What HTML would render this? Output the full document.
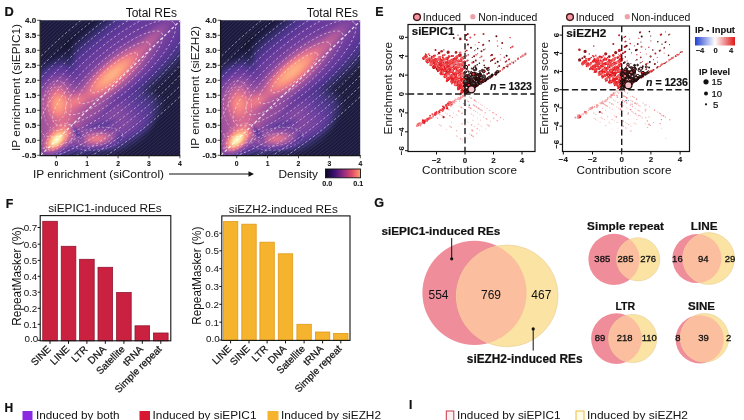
<!DOCTYPE html>
<html lang="en"><head><meta charset="utf-8"><title>Figure panels D-I</title>
<style>html,body{margin:0;padding:0;background:#fff;overflow:hidden}svg{display:block}text{font-family:'Liberation Sans', sans-serif;fill:#111}</style>
</head><body>
<svg width="744" height="420" viewBox="0 0 744 420">
<rect width="744" height="420" fill="#fff"/>
<defs>
<filter id="magma" x="0" y="0" width="1" height="1" color-interpolation-filters="sRGB"><feComponentTransfer><feFuncR type="table" tableValues="0.013 0.090 0.190 0.300 0.385 0.463 0.558 0.655 0.752 0.849 0.927 0.970 0.990 0.997 0.997 0.992 0.987"/><feFuncG type="table" tableValues="0.014 0.090 0.165 0.206 0.223 0.255 0.298 0.339 0.379 0.426 0.483 0.558 0.629 0.706 0.793 0.890 0.991"/><feFuncB type="table" tableValues="0.034 0.211 0.391 0.550 0.609 0.624 0.626 0.619 0.601 0.571 0.535 0.514 0.506 0.529 0.582 0.658 0.750"/></feComponentTransfer></filter>
<radialGradient id="gs"><stop offset="0.00" stop-color="#fff" stop-opacity="1.000"/><stop offset="0.10" stop-color="#fff" stop-opacity="0.956"/><stop offset="0.20" stop-color="#fff" stop-opacity="0.835"/><stop offset="0.30" stop-color="#fff" stop-opacity="0.667"/><stop offset="0.40" stop-color="#fff" stop-opacity="0.487"/><stop offset="0.50" stop-color="#fff" stop-opacity="0.325"/><stop offset="0.60" stop-color="#fff" stop-opacity="0.198"/><stop offset="0.70" stop-color="#fff" stop-opacity="0.110"/><stop offset="0.80" stop-color="#fff" stop-opacity="0.056"/><stop offset="0.90" stop-color="#fff" stop-opacity="0.026"/><stop offset="1.00" stop-color="#fff" stop-opacity="0.000"/></radialGradient>
<radialGradient id="gd"><stop offset="0.00" stop-color="#000" stop-opacity="1.000"/><stop offset="0.10" stop-color="#000" stop-opacity="0.956"/><stop offset="0.20" stop-color="#000" stop-opacity="0.835"/><stop offset="0.30" stop-color="#000" stop-opacity="0.667"/><stop offset="0.40" stop-color="#000" stop-opacity="0.487"/><stop offset="0.50" stop-color="#000" stop-opacity="0.325"/><stop offset="0.60" stop-color="#000" stop-opacity="0.198"/><stop offset="0.70" stop-color="#000" stop-opacity="0.110"/><stop offset="0.80" stop-color="#000" stop-opacity="0.056"/><stop offset="0.90" stop-color="#000" stop-opacity="0.026"/><stop offset="1.00" stop-color="#000" stop-opacity="0.000"/></radialGradient>
<radialGradient id="gb"><stop offset="0.00" stop-color="#fff" stop-opacity="1"/><stop offset="0.45" stop-color="#fff" stop-opacity="0.92"/><stop offset="0.60" stop-color="#fff" stop-opacity="0.72"/><stop offset="0.75" stop-color="#fff" stop-opacity="0.42"/><stop offset="0.88" stop-color="#fff" stop-opacity="0.16"/><stop offset="1.00" stop-color="#fff" stop-opacity="0"/></radialGradient>
<linearGradient id="cbm"><stop offset="0" stop-color="#0a0722"/><stop offset=".25" stop-color="#3b0f70"/><stop offset=".5" stop-color="#8c2981"/><stop offset=".75" stop-color="#de4968"/><stop offset="1" stop-color="#fe9f6d"/></linearGradient>
<linearGradient id="cbr"><stop offset="0" stop-color="#2040d0"/><stop offset=".5" stop-color="#ffffff"/><stop offset="1" stop-color="#e01818"/></linearGradient>
<clipPath id="cd1"><rect x="40.6" y="20.3" width="139.6" height="135"/></clipPath>
<clipPath id="cd2"><rect x="221" y="20.3" width="139.2" height="135"/></clipPath>
<clipPath id="ce1"><rect x="408" y="24.5" width="127" height="127"/></clipPath>
<clipPath id="ce2"><rect x="562.5" y="26" width="127" height="125.5"/></clipPath>
</defs>
<text x="4.60" y="16.10" font-size="12.8" font-weight="bold" stroke="#111" stroke-width="0.20">D</text>
<text x="375.20" y="15.70" font-size="12.4" font-weight="bold" stroke="#111" stroke-width="0.20">E</text>
<text x="5.70" y="207.50" font-size="12.4" font-weight="bold" stroke="#111" stroke-width="0.20">F</text>
<text x="374.30" y="207.30" font-size="12.6" font-weight="bold" stroke="#111" stroke-width="0.20">G</text>
<text x="4.50" y="412.00" font-size="12" font-weight="bold" stroke="#111" stroke-width="0.19">H</text>
<text x="409.00" y="408.80" font-size="12" font-weight="bold" stroke="#111" stroke-width="0.19">I</text>
<g clip-path="url(#cd1)">
<g filter="url(#magma)">
<rect x="38.6" y="18.3" width="146" height="141" fill="#131313"/>
<ellipse cx="113.1" cy="65.8" rx="210" ry="46" transform="rotate(-40 113.1 65.8)" fill="url(#gb)" opacity="0.22"/>
<ellipse cx="97.1" cy="127.8" rx="60" ry="32" transform="rotate(-10 97.1 127.8)" fill="url(#gb)" opacity="0.2"/>
<ellipse cx="53.1" cy="111.8" rx="34" ry="55" transform="rotate(0 53.1 111.8)" fill="url(#gb)" opacity="0.22"/>
<ellipse cx="134.1" cy="113.8" rx="34" ry="24" transform="rotate(-35 134.1 113.8)" fill="url(#gb)" opacity="0.13"/>
<ellipse cx="113.1" cy="75.8" rx="85" ry="32" transform="rotate(-40 113.1 75.8)" fill="url(#gs)" opacity="0.42"/>
<ellipse cx="112.1" cy="74.3" rx="66" ry="19" transform="rotate(-40 112.1 74.3)" fill="url(#gs)" opacity="0.55"/>
<ellipse cx="153.1" cy="37.8" rx="46" ry="15" transform="rotate(-44 153.1 37.8)" fill="url(#gs)" opacity="0.2"/>
<ellipse cx="56.7" cy="139.8" rx="28" ry="15.5" transform="rotate(-44 56.7 139.8)" fill="url(#gs)" opacity="0.95"/>
<ellipse cx="56.7" cy="139.8" rx="14" ry="8" transform="rotate(-44 56.7 139.8)" fill="url(#gs)" opacity="0.75"/>
<ellipse cx="58.1" cy="103.8" rx="22" ry="32" transform="rotate(0 58.1 103.8)" fill="url(#gs)" opacity="0.58"/>
<ellipse cx="77.1" cy="100.8" rx="22" ry="14" transform="rotate(-25 77.1 100.8)" fill="url(#gs)" opacity="0.3"/>
<ellipse cx="97.1" cy="138.8" rx="34" ry="15" transform="rotate(-8 97.1 138.8)" fill="url(#gs)" opacity="0.5"/>
<ellipse cx="69.1" cy="55.8" rx="13" ry="36" transform="rotate(-8 69.1 55.8)" fill="url(#gd)" opacity="0.3"/>
<ellipse cx="77.1" cy="132.8" rx="6" ry="18" transform="rotate(-35 77.1 132.8)" fill="url(#gd)" opacity="0.4"/>
<ellipse cx="97.1" cy="151.8" rx="30" ry="5" transform="rotate(0 97.1 151.8)" fill="url(#gd)" opacity="0.25"/>
<ellipse cx="119.1" cy="137.8" rx="5" ry="12" transform="rotate(10 119.1 137.8)" fill="url(#gd)" opacity="0.25"/>
<ellipse cx="105.1" cy="111.8" rx="40" ry="7" transform="rotate(-44 105.1 111.8)" fill="url(#gd)" opacity="0.12"/>
<ellipse cx="100.1" cy="124.8" rx="26" ry="5" transform="rotate(-12 100.1 124.8)" fill="url(#gd)" opacity="0.25"/>
</g>
<ellipse cx="108.1" cy="60.8" rx="118.8" ry="44.0" transform="rotate(-40 108.1 60.8)" fill="none" stroke="#dde" stroke-opacity=".17" stroke-width=".6"/>
<ellipse cx="108.1" cy="60.8" rx="125.8" ry="46.6" transform="rotate(-40 108.1 60.8)" fill="none" stroke="#dde" stroke-opacity=".17" stroke-width=".6"/>
<ellipse cx="108.1" cy="60.8" rx="132.8" ry="49.2" transform="rotate(-40 108.1 60.8)" fill="none" stroke="#dde" stroke-opacity=".17" stroke-width=".6"/>
<ellipse cx="108.1" cy="60.8" rx="139.9" ry="51.8" transform="rotate(-40 108.1 60.8)" fill="none" stroke="#dde" stroke-opacity=".17" stroke-width=".6"/>
<ellipse cx="108.1" cy="60.8" rx="146.9" ry="54.4" transform="rotate(-40 108.1 60.8)" fill="none" stroke="#dde" stroke-opacity=".17" stroke-width=".6"/>
<ellipse cx="108.1" cy="60.8" rx="153.9" ry="57.0" transform="rotate(-40 108.1 60.8)" fill="none" stroke="#dde" stroke-opacity=".17" stroke-width=".6"/>
<ellipse cx="108.1" cy="60.8" rx="160.9" ry="59.6" transform="rotate(-40 108.1 60.8)" fill="none" stroke="#dde" stroke-opacity=".17" stroke-width=".6"/>
<ellipse cx="108.1" cy="60.8" rx="167.9" ry="62.2" transform="rotate(-40 108.1 60.8)" fill="none" stroke="#dde" stroke-opacity=".17" stroke-width=".6"/>
<ellipse cx="108.1" cy="60.8" rx="175.0" ry="64.8" transform="rotate(-40 108.1 60.8)" fill="none" stroke="#dde" stroke-opacity=".17" stroke-width=".6"/>
<ellipse cx="108.1" cy="60.8" rx="182.0" ry="67.4" transform="rotate(-40 108.1 60.8)" fill="none" stroke="#dde" stroke-opacity=".17" stroke-width=".6"/>
<ellipse cx="108.1" cy="60.8" rx="189.0" ry="70.0" transform="rotate(-40 108.1 60.8)" fill="none" stroke="#dde" stroke-opacity=".17" stroke-width=".6"/>
<ellipse cx="108.1" cy="60.8" rx="196.0" ry="72.6" transform="rotate(-40 108.1 60.8)" fill="none" stroke="#dde" stroke-opacity=".17" stroke-width=".6"/>
<ellipse cx="108.1" cy="60.8" rx="203.0" ry="75.2" transform="rotate(-40 108.1 60.8)" fill="none" stroke="#dde" stroke-opacity=".17" stroke-width=".6"/>
<ellipse cx="108.1" cy="60.8" rx="210.1" ry="77.8" transform="rotate(-40 108.1 60.8)" fill="none" stroke="#dde" stroke-opacity=".17" stroke-width=".6"/>
<ellipse cx="108.1" cy="60.8" rx="217.1" ry="80.4" transform="rotate(-40 108.1 60.8)" fill="none" stroke="#dde" stroke-opacity=".17" stroke-width=".6"/>
<ellipse cx="108.1" cy="60.8" rx="224.1" ry="83.0" transform="rotate(-40 108.1 60.8)" fill="none" stroke="#dde" stroke-opacity=".17" stroke-width=".6"/>
<ellipse cx="108.1" cy="60.8" rx="231.1" ry="85.6" transform="rotate(-40 108.1 60.8)" fill="none" stroke="#dde" stroke-opacity=".17" stroke-width=".6"/>
<ellipse cx="108.1" cy="60.8" rx="238.1" ry="88.2" transform="rotate(-40 108.1 60.8)" fill="none" stroke="#dde" stroke-opacity=".17" stroke-width=".6"/>
<ellipse cx="108.1" cy="60.8" rx="245.2" ry="90.8" transform="rotate(-40 108.1 60.8)" fill="none" stroke="#dde" stroke-opacity=".17" stroke-width=".6"/>
<ellipse cx="108.1" cy="60.8" rx="252.2" ry="93.4" transform="rotate(-40 108.1 60.8)" fill="none" stroke="#dde" stroke-opacity=".17" stroke-width=".6"/>
<ellipse cx="108.1" cy="60.8" rx="259.2" ry="96.0" transform="rotate(-40 108.1 60.8)" fill="none" stroke="#dde" stroke-opacity=".17" stroke-width=".6"/>
<ellipse cx="108.1" cy="60.8" rx="266.2" ry="98.6" transform="rotate(-40 108.1 60.8)" fill="none" stroke="#dde" stroke-opacity=".17" stroke-width=".6"/>
<ellipse cx="108.1" cy="60.8" rx="273.2" ry="101.2" transform="rotate(-40 108.1 60.8)" fill="none" stroke="#dde" stroke-opacity=".17" stroke-width=".6"/>
<ellipse cx="108.1" cy="60.8" rx="280.3" ry="103.8" transform="rotate(-40 108.1 60.8)" fill="none" stroke="#dde" stroke-opacity=".17" stroke-width=".6"/>
<ellipse cx="108.1" cy="60.8" rx="287.3" ry="106.4" transform="rotate(-40 108.1 60.8)" fill="none" stroke="#dde" stroke-opacity=".17" stroke-width=".6"/>
<ellipse cx="108.1" cy="60.8" rx="294.3" ry="109.0" transform="rotate(-40 108.1 60.8)" fill="none" stroke="#dde" stroke-opacity=".17" stroke-width=".6"/>
<ellipse cx="108.1" cy="60.8" rx="301.3" ry="111.6" transform="rotate(-40 108.1 60.8)" fill="none" stroke="#dde" stroke-opacity=".17" stroke-width=".6"/>
<ellipse cx="108.1" cy="60.8" rx="308.3" ry="114.2" transform="rotate(-40 108.1 60.8)" fill="none" stroke="#dde" stroke-opacity=".17" stroke-width=".6"/>
<ellipse cx="108.1" cy="60.8" rx="315.4" ry="116.8" transform="rotate(-40 108.1 60.8)" fill="none" stroke="#dde" stroke-opacity=".17" stroke-width=".6"/>
<ellipse cx="108.1" cy="60.8" rx="322.4" ry="119.4" transform="rotate(-40 108.1 60.8)" fill="none" stroke="#dde" stroke-opacity=".17" stroke-width=".6"/>
<ellipse cx="108.1" cy="60.8" rx="329.4" ry="122.0" transform="rotate(-40 108.1 60.8)" fill="none" stroke="#dde" stroke-opacity=".17" stroke-width=".6"/>
<ellipse cx="108.1" cy="60.8" rx="336.4" ry="124.6" transform="rotate(-40 108.1 60.8)" fill="none" stroke="#dde" stroke-opacity=".17" stroke-width=".6"/>
<ellipse cx="108.1" cy="60.8" rx="343.4" ry="127.2" transform="rotate(-40 108.1 60.8)" fill="none" stroke="#dde" stroke-opacity=".17" stroke-width=".6"/>
<ellipse cx="108.1" cy="60.8" rx="350.5" ry="129.8" transform="rotate(-40 108.1 60.8)" fill="none" stroke="#dde" stroke-opacity=".17" stroke-width=".6"/>
<ellipse cx="114.1" cy="72.8" rx="30" ry="7" transform="rotate(-40 114.1 72.8)" fill="none" stroke="#fff" stroke-opacity=".55" stroke-width=".9" stroke-dasharray="2.4 2.2"/>
<ellipse cx="114.1" cy="72.8" rx="46" ry="11.5" transform="rotate(-40 114.1 72.8)" fill="none" stroke="#fff" stroke-opacity=".55" stroke-width=".9" stroke-dasharray="2.4 2.2"/>
<ellipse cx="114.1" cy="72.8" rx="62" ry="16.5" transform="rotate(-40 114.1 72.8)" fill="none" stroke="#fff" stroke-opacity=".55" stroke-width=".9" stroke-dasharray="2.4 2.2"/>
<ellipse cx="114.1" cy="72.8" rx="78" ry="22" transform="rotate(-40 114.1 72.8)" fill="none" stroke="#fff" stroke-opacity=".55" stroke-width=".9" stroke-dasharray="2.4 2.2"/>
<ellipse cx="114.1" cy="72.8" rx="94" ry="28" transform="rotate(-40 114.1 72.8)" fill="none" stroke="#fff" stroke-opacity=".55" stroke-width=".9" stroke-dasharray="2.4 2.2"/>
<ellipse cx="114.1" cy="72.8" rx="110" ry="34" transform="rotate(-40 114.1 72.8)" fill="none" stroke="#fff" stroke-opacity=".55" stroke-width=".9" stroke-dasharray="2.4 2.2"/>
<ellipse cx="114.1" cy="72.8" rx="128" ry="40.5" transform="rotate(-40 114.1 72.8)" fill="none" stroke="#fff" stroke-opacity=".55" stroke-width=".9" stroke-dasharray="2.4 2.2"/>
<ellipse cx="114.1" cy="72.8" rx="148" ry="47" transform="rotate(-40 114.1 72.8)" fill="none" stroke="#fff" stroke-opacity=".55" stroke-width=".9" stroke-dasharray="2.4 2.2"/>
<ellipse cx="114.1" cy="72.8" rx="170" ry="54" transform="rotate(-40 114.1 72.8)" fill="none" stroke="#fff" stroke-opacity=".55" stroke-width=".9" stroke-dasharray="2.4 2.2"/>
<ellipse cx="114.1" cy="72.8" rx="194" ry="61.5" transform="rotate(-40 114.1 72.8)" fill="none" stroke="#fff" stroke-opacity=".55" stroke-width=".9" stroke-dasharray="2.4 2.2"/>
<line x1="40.6" y1="155.3" x2="180.6" y2="20.3" stroke="#fff" stroke-opacity=".85" stroke-width="1.2" stroke-dasharray="3 2.2"/>
<ellipse cx="56.7" cy="139.8" rx="13" ry="7.5" transform="rotate(-44 56.7 139.8)" fill="none" stroke="#fff" stroke-opacity=".5" stroke-width=".7" stroke-dasharray="2.2 2"/>
<ellipse cx="56.7" cy="139.8" rx="20" ry="11.5" transform="rotate(-44 56.7 139.8)" fill="none" stroke="#fff" stroke-opacity=".5" stroke-width=".7" stroke-dasharray="2.2 2"/>
<ellipse cx="57.1" cy="103.8" rx="9" ry="17" transform="rotate(0 57.1 103.8)" fill="none" stroke="#fff" stroke-opacity=".5" stroke-width=".7" stroke-dasharray="2.2 2"/>
<ellipse cx="57.1" cy="105.8" rx="14" ry="25" transform="rotate(0 57.1 105.8)" fill="none" stroke="#fff" stroke-opacity=".5" stroke-width=".7" stroke-dasharray="2.2 2"/>
<ellipse cx="95.1" cy="139.8" rx="17" ry="6" transform="rotate(-8 95.1 139.8)" fill="none" stroke="#fff" stroke-opacity=".5" stroke-width=".7" stroke-dasharray="2.2 2"/>
<ellipse cx="97.1" cy="138.8" rx="26" ry="11" transform="rotate(-8 97.1 138.8)" fill="none" stroke="#fff" stroke-opacity=".5" stroke-width=".7" stroke-dasharray="2.2 2"/>
</g>
<g clip-path="url(#cd2)">
<g filter="url(#magma)">
<rect x="219" y="18.3" width="146" height="141" fill="#131313"/>
<ellipse cx="293.5" cy="65.8" rx="210" ry="46" transform="rotate(-40 293.5 65.8)" fill="url(#gb)" opacity="0.22"/>
<ellipse cx="277.5" cy="127.8" rx="60" ry="32" transform="rotate(-10 277.5 127.8)" fill="url(#gb)" opacity="0.2"/>
<ellipse cx="233.5" cy="111.8" rx="34" ry="55" transform="rotate(0 233.5 111.8)" fill="url(#gb)" opacity="0.22"/>
<ellipse cx="314.5" cy="113.8" rx="34" ry="24" transform="rotate(-35 314.5 113.8)" fill="url(#gb)" opacity="0.13"/>
<ellipse cx="293.5" cy="72.8" rx="85" ry="32" transform="rotate(-40 293.5 72.8)" fill="url(#gs)" opacity="0.42"/>
<ellipse cx="292.5" cy="71.3" rx="66" ry="19" transform="rotate(-40 292.5 71.3)" fill="url(#gs)" opacity="0.55"/>
<ellipse cx="333.5" cy="37.8" rx="46" ry="15" transform="rotate(-44 333.5 37.8)" fill="url(#gs)" opacity="0.2"/>
<ellipse cx="237.1" cy="139.8" rx="28" ry="15.5" transform="rotate(-44 237.1 139.8)" fill="url(#gs)" opacity="0.95"/>
<ellipse cx="237.1" cy="139.8" rx="14" ry="8" transform="rotate(-44 237.1 139.8)" fill="url(#gs)" opacity="0.75"/>
<ellipse cx="238.5" cy="103.8" rx="22" ry="32" transform="rotate(0 238.5 103.8)" fill="url(#gs)" opacity="0.46"/>
<ellipse cx="257.5" cy="100.8" rx="22" ry="14" transform="rotate(-25 257.5 100.8)" fill="url(#gs)" opacity="0.3"/>
<ellipse cx="277.5" cy="138.8" rx="34" ry="15" transform="rotate(-8 277.5 138.8)" fill="url(#gs)" opacity="0.45"/>
<ellipse cx="249.5" cy="55.8" rx="13" ry="36" transform="rotate(-8 249.5 55.8)" fill="url(#gd)" opacity="0.3"/>
<ellipse cx="257.5" cy="132.8" rx="6" ry="18" transform="rotate(-35 257.5 132.8)" fill="url(#gd)" opacity="0.4"/>
<ellipse cx="277.5" cy="151.8" rx="30" ry="5" transform="rotate(0 277.5 151.8)" fill="url(#gd)" opacity="0.25"/>
<ellipse cx="299.5" cy="137.8" rx="5" ry="12" transform="rotate(10 299.5 137.8)" fill="url(#gd)" opacity="0.25"/>
<ellipse cx="285.5" cy="111.8" rx="40" ry="7" transform="rotate(-44 285.5 111.8)" fill="url(#gd)" opacity="0.12"/>
<ellipse cx="280.5" cy="124.8" rx="26" ry="5" transform="rotate(-12 280.5 124.8)" fill="url(#gd)" opacity="0.25"/>
</g>
<ellipse cx="288.5" cy="60.8" rx="118.8" ry="44.0" transform="rotate(-40 288.5 60.8)" fill="none" stroke="#dde" stroke-opacity=".17" stroke-width=".6"/>
<ellipse cx="288.5" cy="60.8" rx="125.8" ry="46.6" transform="rotate(-40 288.5 60.8)" fill="none" stroke="#dde" stroke-opacity=".17" stroke-width=".6"/>
<ellipse cx="288.5" cy="60.8" rx="132.8" ry="49.2" transform="rotate(-40 288.5 60.8)" fill="none" stroke="#dde" stroke-opacity=".17" stroke-width=".6"/>
<ellipse cx="288.5" cy="60.8" rx="139.9" ry="51.8" transform="rotate(-40 288.5 60.8)" fill="none" stroke="#dde" stroke-opacity=".17" stroke-width=".6"/>
<ellipse cx="288.5" cy="60.8" rx="146.9" ry="54.4" transform="rotate(-40 288.5 60.8)" fill="none" stroke="#dde" stroke-opacity=".17" stroke-width=".6"/>
<ellipse cx="288.5" cy="60.8" rx="153.9" ry="57.0" transform="rotate(-40 288.5 60.8)" fill="none" stroke="#dde" stroke-opacity=".17" stroke-width=".6"/>
<ellipse cx="288.5" cy="60.8" rx="160.9" ry="59.6" transform="rotate(-40 288.5 60.8)" fill="none" stroke="#dde" stroke-opacity=".17" stroke-width=".6"/>
<ellipse cx="288.5" cy="60.8" rx="167.9" ry="62.2" transform="rotate(-40 288.5 60.8)" fill="none" stroke="#dde" stroke-opacity=".17" stroke-width=".6"/>
<ellipse cx="288.5" cy="60.8" rx="175.0" ry="64.8" transform="rotate(-40 288.5 60.8)" fill="none" stroke="#dde" stroke-opacity=".17" stroke-width=".6"/>
<ellipse cx="288.5" cy="60.8" rx="182.0" ry="67.4" transform="rotate(-40 288.5 60.8)" fill="none" stroke="#dde" stroke-opacity=".17" stroke-width=".6"/>
<ellipse cx="288.5" cy="60.8" rx="189.0" ry="70.0" transform="rotate(-40 288.5 60.8)" fill="none" stroke="#dde" stroke-opacity=".17" stroke-width=".6"/>
<ellipse cx="288.5" cy="60.8" rx="196.0" ry="72.6" transform="rotate(-40 288.5 60.8)" fill="none" stroke="#dde" stroke-opacity=".17" stroke-width=".6"/>
<ellipse cx="288.5" cy="60.8" rx="203.0" ry="75.2" transform="rotate(-40 288.5 60.8)" fill="none" stroke="#dde" stroke-opacity=".17" stroke-width=".6"/>
<ellipse cx="288.5" cy="60.8" rx="210.1" ry="77.8" transform="rotate(-40 288.5 60.8)" fill="none" stroke="#dde" stroke-opacity=".17" stroke-width=".6"/>
<ellipse cx="288.5" cy="60.8" rx="217.1" ry="80.4" transform="rotate(-40 288.5 60.8)" fill="none" stroke="#dde" stroke-opacity=".17" stroke-width=".6"/>
<ellipse cx="288.5" cy="60.8" rx="224.1" ry="83.0" transform="rotate(-40 288.5 60.8)" fill="none" stroke="#dde" stroke-opacity=".17" stroke-width=".6"/>
<ellipse cx="288.5" cy="60.8" rx="231.1" ry="85.6" transform="rotate(-40 288.5 60.8)" fill="none" stroke="#dde" stroke-opacity=".17" stroke-width=".6"/>
<ellipse cx="288.5" cy="60.8" rx="238.1" ry="88.2" transform="rotate(-40 288.5 60.8)" fill="none" stroke="#dde" stroke-opacity=".17" stroke-width=".6"/>
<ellipse cx="288.5" cy="60.8" rx="245.2" ry="90.8" transform="rotate(-40 288.5 60.8)" fill="none" stroke="#dde" stroke-opacity=".17" stroke-width=".6"/>
<ellipse cx="288.5" cy="60.8" rx="252.2" ry="93.4" transform="rotate(-40 288.5 60.8)" fill="none" stroke="#dde" stroke-opacity=".17" stroke-width=".6"/>
<ellipse cx="288.5" cy="60.8" rx="259.2" ry="96.0" transform="rotate(-40 288.5 60.8)" fill="none" stroke="#dde" stroke-opacity=".17" stroke-width=".6"/>
<ellipse cx="288.5" cy="60.8" rx="266.2" ry="98.6" transform="rotate(-40 288.5 60.8)" fill="none" stroke="#dde" stroke-opacity=".17" stroke-width=".6"/>
<ellipse cx="288.5" cy="60.8" rx="273.2" ry="101.2" transform="rotate(-40 288.5 60.8)" fill="none" stroke="#dde" stroke-opacity=".17" stroke-width=".6"/>
<ellipse cx="288.5" cy="60.8" rx="280.3" ry="103.8" transform="rotate(-40 288.5 60.8)" fill="none" stroke="#dde" stroke-opacity=".17" stroke-width=".6"/>
<ellipse cx="288.5" cy="60.8" rx="287.3" ry="106.4" transform="rotate(-40 288.5 60.8)" fill="none" stroke="#dde" stroke-opacity=".17" stroke-width=".6"/>
<ellipse cx="288.5" cy="60.8" rx="294.3" ry="109.0" transform="rotate(-40 288.5 60.8)" fill="none" stroke="#dde" stroke-opacity=".17" stroke-width=".6"/>
<ellipse cx="288.5" cy="60.8" rx="301.3" ry="111.6" transform="rotate(-40 288.5 60.8)" fill="none" stroke="#dde" stroke-opacity=".17" stroke-width=".6"/>
<ellipse cx="288.5" cy="60.8" rx="308.3" ry="114.2" transform="rotate(-40 288.5 60.8)" fill="none" stroke="#dde" stroke-opacity=".17" stroke-width=".6"/>
<ellipse cx="288.5" cy="60.8" rx="315.4" ry="116.8" transform="rotate(-40 288.5 60.8)" fill="none" stroke="#dde" stroke-opacity=".17" stroke-width=".6"/>
<ellipse cx="288.5" cy="60.8" rx="322.4" ry="119.4" transform="rotate(-40 288.5 60.8)" fill="none" stroke="#dde" stroke-opacity=".17" stroke-width=".6"/>
<ellipse cx="288.5" cy="60.8" rx="329.4" ry="122.0" transform="rotate(-40 288.5 60.8)" fill="none" stroke="#dde" stroke-opacity=".17" stroke-width=".6"/>
<ellipse cx="288.5" cy="60.8" rx="336.4" ry="124.6" transform="rotate(-40 288.5 60.8)" fill="none" stroke="#dde" stroke-opacity=".17" stroke-width=".6"/>
<ellipse cx="288.5" cy="60.8" rx="343.4" ry="127.2" transform="rotate(-40 288.5 60.8)" fill="none" stroke="#dde" stroke-opacity=".17" stroke-width=".6"/>
<ellipse cx="288.5" cy="60.8" rx="350.5" ry="129.8" transform="rotate(-40 288.5 60.8)" fill="none" stroke="#dde" stroke-opacity=".17" stroke-width=".6"/>
<ellipse cx="294.5" cy="72.8" rx="30" ry="7" transform="rotate(-40 294.5 72.8)" fill="none" stroke="#fff" stroke-opacity=".55" stroke-width=".9" stroke-dasharray="2.4 2.2"/>
<ellipse cx="294.5" cy="72.8" rx="46" ry="11.5" transform="rotate(-40 294.5 72.8)" fill="none" stroke="#fff" stroke-opacity=".55" stroke-width=".9" stroke-dasharray="2.4 2.2"/>
<ellipse cx="294.5" cy="72.8" rx="62" ry="16.5" transform="rotate(-40 294.5 72.8)" fill="none" stroke="#fff" stroke-opacity=".55" stroke-width=".9" stroke-dasharray="2.4 2.2"/>
<ellipse cx="294.5" cy="72.8" rx="78" ry="22" transform="rotate(-40 294.5 72.8)" fill="none" stroke="#fff" stroke-opacity=".55" stroke-width=".9" stroke-dasharray="2.4 2.2"/>
<ellipse cx="294.5" cy="72.8" rx="94" ry="28" transform="rotate(-40 294.5 72.8)" fill="none" stroke="#fff" stroke-opacity=".55" stroke-width=".9" stroke-dasharray="2.4 2.2"/>
<ellipse cx="294.5" cy="72.8" rx="110" ry="34" transform="rotate(-40 294.5 72.8)" fill="none" stroke="#fff" stroke-opacity=".55" stroke-width=".9" stroke-dasharray="2.4 2.2"/>
<ellipse cx="294.5" cy="72.8" rx="128" ry="40.5" transform="rotate(-40 294.5 72.8)" fill="none" stroke="#fff" stroke-opacity=".55" stroke-width=".9" stroke-dasharray="2.4 2.2"/>
<ellipse cx="294.5" cy="72.8" rx="148" ry="47" transform="rotate(-40 294.5 72.8)" fill="none" stroke="#fff" stroke-opacity=".55" stroke-width=".9" stroke-dasharray="2.4 2.2"/>
<ellipse cx="294.5" cy="72.8" rx="170" ry="54" transform="rotate(-40 294.5 72.8)" fill="none" stroke="#fff" stroke-opacity=".55" stroke-width=".9" stroke-dasharray="2.4 2.2"/>
<ellipse cx="294.5" cy="72.8" rx="194" ry="61.5" transform="rotate(-40 294.5 72.8)" fill="none" stroke="#fff" stroke-opacity=".55" stroke-width=".9" stroke-dasharray="2.4 2.2"/>
<line x1="221" y1="155.3" x2="361" y2="20.3" stroke="#fff" stroke-opacity=".85" stroke-width="1.2" stroke-dasharray="3 2.2"/>
<ellipse cx="237.1" cy="139.8" rx="13" ry="7.5" transform="rotate(-44 237.1 139.8)" fill="none" stroke="#fff" stroke-opacity=".5" stroke-width=".7" stroke-dasharray="2.2 2"/>
<ellipse cx="237.1" cy="139.8" rx="20" ry="11.5" transform="rotate(-44 237.1 139.8)" fill="none" stroke="#fff" stroke-opacity=".5" stroke-width=".7" stroke-dasharray="2.2 2"/>
<ellipse cx="237.5" cy="103.8" rx="9" ry="17" transform="rotate(0 237.5 103.8)" fill="none" stroke="#fff" stroke-opacity=".5" stroke-width=".7" stroke-dasharray="2.2 2"/>
<ellipse cx="237.5" cy="105.8" rx="14" ry="25" transform="rotate(0 237.5 105.8)" fill="none" stroke="#fff" stroke-opacity=".5" stroke-width=".7" stroke-dasharray="2.2 2"/>
<ellipse cx="275.5" cy="139.8" rx="17" ry="6" transform="rotate(-8 275.5 139.8)" fill="none" stroke="#fff" stroke-opacity=".5" stroke-width=".7" stroke-dasharray="2.2 2"/>
<ellipse cx="277.5" cy="138.8" rx="26" ry="11" transform="rotate(-8 277.5 138.8)" fill="none" stroke="#fff" stroke-opacity=".5" stroke-width=".7" stroke-dasharray="2.2 2"/>
</g>
<path d="M40.2 20.0V155.60000000000002H180.2" fill="none" stroke="#151515" stroke-width="1.3"/>
<line x1="37.2" y1="155.3" x2="40.6" y2="155.3" stroke="#222" stroke-width=".8"/>
<text x="36.30" y="157.80" font-size="7.2" text-anchor="end" font-weight="bold" stroke="#111" stroke-width="0.07" textLength="14.2" lengthAdjust="spacingAndGlyphs">-0.5</text>
<line x1="37.2" y1="140.3" x2="40.6" y2="140.3" stroke="#222" stroke-width=".8"/>
<text x="36.30" y="142.80" font-size="7.2" text-anchor="end" font-weight="bold" stroke="#111" stroke-width="0.07" textLength="11.2" lengthAdjust="spacingAndGlyphs">0.0</text>
<line x1="37.2" y1="125.3" x2="40.6" y2="125.3" stroke="#222" stroke-width=".8"/>
<text x="36.30" y="127.80" font-size="7.2" text-anchor="end" font-weight="bold" stroke="#111" stroke-width="0.07" textLength="11.2" lengthAdjust="spacingAndGlyphs">0.5</text>
<line x1="37.2" y1="110.3" x2="40.6" y2="110.3" stroke="#222" stroke-width=".8"/>
<text x="36.30" y="112.80" font-size="7.2" text-anchor="end" font-weight="bold" stroke="#111" stroke-width="0.07" textLength="11.2" lengthAdjust="spacingAndGlyphs">1.0</text>
<line x1="37.2" y1="95.3" x2="40.6" y2="95.3" stroke="#222" stroke-width=".8"/>
<text x="36.30" y="97.80" font-size="7.2" text-anchor="end" font-weight="bold" stroke="#111" stroke-width="0.07" textLength="11.2" lengthAdjust="spacingAndGlyphs">1.5</text>
<line x1="37.2" y1="80.3" x2="40.6" y2="80.3" stroke="#222" stroke-width=".8"/>
<text x="36.30" y="82.80" font-size="7.2" text-anchor="end" font-weight="bold" stroke="#111" stroke-width="0.07" textLength="11.2" lengthAdjust="spacingAndGlyphs">2.0</text>
<line x1="37.2" y1="65.3" x2="40.6" y2="65.3" stroke="#222" stroke-width=".8"/>
<text x="36.30" y="67.80" font-size="7.2" text-anchor="end" font-weight="bold" stroke="#111" stroke-width="0.07" textLength="11.2" lengthAdjust="spacingAndGlyphs">2.5</text>
<line x1="37.2" y1="50.3" x2="40.6" y2="50.3" stroke="#222" stroke-width=".8"/>
<text x="36.30" y="52.80" font-size="7.2" text-anchor="end" font-weight="bold" stroke="#111" stroke-width="0.07" textLength="11.2" lengthAdjust="spacingAndGlyphs">3.0</text>
<line x1="37.2" y1="35.3" x2="40.6" y2="35.3" stroke="#222" stroke-width=".8"/>
<text x="36.30" y="37.80" font-size="7.2" text-anchor="end" font-weight="bold" stroke="#111" stroke-width="0.07" textLength="11.2" lengthAdjust="spacingAndGlyphs">3.5</text>
<line x1="37.2" y1="20.3" x2="40.6" y2="20.3" stroke="#222" stroke-width=".8"/>
<text x="36.30" y="22.80" font-size="7.2" text-anchor="end" font-weight="bold" stroke="#111" stroke-width="0.07" textLength="11.2" lengthAdjust="spacingAndGlyphs">4.0</text>
<line x1="56.3" y1="155.3" x2="56.3" y2="158.3" stroke="#222" stroke-width=".8"/>
<text x="56.30" y="165.80" font-size="6.8" text-anchor="middle" font-weight="bold" stroke="#111" stroke-width="0.07">0</text>
<line x1="87.2" y1="155.3" x2="87.2" y2="158.3" stroke="#222" stroke-width=".8"/>
<text x="87.20" y="165.80" font-size="6.8" text-anchor="middle" font-weight="bold" stroke="#111" stroke-width="0.07">1</text>
<line x1="118.1" y1="155.3" x2="118.1" y2="158.3" stroke="#222" stroke-width=".8"/>
<text x="118.10" y="165.80" font-size="6.8" text-anchor="middle" font-weight="bold" stroke="#111" stroke-width="0.07">2</text>
<line x1="149.0" y1="155.3" x2="149.0" y2="158.3" stroke="#222" stroke-width=".8"/>
<text x="149.00" y="165.80" font-size="6.8" text-anchor="middle" font-weight="bold" stroke="#111" stroke-width="0.07">3</text>
<line x1="179.9" y1="155.3" x2="179.9" y2="158.3" stroke="#222" stroke-width=".8"/>
<text x="179.90" y="165.80" font-size="6.8" text-anchor="middle" font-weight="bold" stroke="#111" stroke-width="0.07">4</text>
<text x="19.90" y="87.50" font-size="11.8" text-anchor="middle" textLength="127.0" lengthAdjust="spacingAndGlyphs" transform="rotate(-90 19.90 87.50)">IP enrichment (siEPIC1)</text>
<path d="M220.6 20.0V155.60000000000002H360.6" fill="none" stroke="#151515" stroke-width="1.3"/>
<line x1="217.6" y1="155.3" x2="221" y2="155.3" stroke="#222" stroke-width=".8"/>
<text x="216.70" y="157.80" font-size="7.2" text-anchor="end" font-weight="bold" stroke="#111" stroke-width="0.07" textLength="14.2" lengthAdjust="spacingAndGlyphs">-0.5</text>
<line x1="217.6" y1="140.3" x2="221" y2="140.3" stroke="#222" stroke-width=".8"/>
<text x="216.70" y="142.80" font-size="7.2" text-anchor="end" font-weight="bold" stroke="#111" stroke-width="0.07" textLength="11.2" lengthAdjust="spacingAndGlyphs">0.0</text>
<line x1="217.6" y1="125.3" x2="221" y2="125.3" stroke="#222" stroke-width=".8"/>
<text x="216.70" y="127.80" font-size="7.2" text-anchor="end" font-weight="bold" stroke="#111" stroke-width="0.07" textLength="11.2" lengthAdjust="spacingAndGlyphs">0.5</text>
<line x1="217.6" y1="110.3" x2="221" y2="110.3" stroke="#222" stroke-width=".8"/>
<text x="216.70" y="112.80" font-size="7.2" text-anchor="end" font-weight="bold" stroke="#111" stroke-width="0.07" textLength="11.2" lengthAdjust="spacingAndGlyphs">1.0</text>
<line x1="217.6" y1="95.3" x2="221" y2="95.3" stroke="#222" stroke-width=".8"/>
<text x="216.70" y="97.80" font-size="7.2" text-anchor="end" font-weight="bold" stroke="#111" stroke-width="0.07" textLength="11.2" lengthAdjust="spacingAndGlyphs">1.5</text>
<line x1="217.6" y1="80.3" x2="221" y2="80.3" stroke="#222" stroke-width=".8"/>
<text x="216.70" y="82.80" font-size="7.2" text-anchor="end" font-weight="bold" stroke="#111" stroke-width="0.07" textLength="11.2" lengthAdjust="spacingAndGlyphs">2.0</text>
<line x1="217.6" y1="65.3" x2="221" y2="65.3" stroke="#222" stroke-width=".8"/>
<text x="216.70" y="67.80" font-size="7.2" text-anchor="end" font-weight="bold" stroke="#111" stroke-width="0.07" textLength="11.2" lengthAdjust="spacingAndGlyphs">2.5</text>
<line x1="217.6" y1="50.3" x2="221" y2="50.3" stroke="#222" stroke-width=".8"/>
<text x="216.70" y="52.80" font-size="7.2" text-anchor="end" font-weight="bold" stroke="#111" stroke-width="0.07" textLength="11.2" lengthAdjust="spacingAndGlyphs">3.0</text>
<line x1="217.6" y1="35.3" x2="221" y2="35.3" stroke="#222" stroke-width=".8"/>
<text x="216.70" y="37.80" font-size="7.2" text-anchor="end" font-weight="bold" stroke="#111" stroke-width="0.07" textLength="11.2" lengthAdjust="spacingAndGlyphs">3.5</text>
<line x1="217.6" y1="20.3" x2="221" y2="20.3" stroke="#222" stroke-width=".8"/>
<text x="216.70" y="22.80" font-size="7.2" text-anchor="end" font-weight="bold" stroke="#111" stroke-width="0.07" textLength="11.2" lengthAdjust="spacingAndGlyphs">4.0</text>
<line x1="236.7" y1="155.3" x2="236.7" y2="158.3" stroke="#222" stroke-width=".8"/>
<text x="236.70" y="165.80" font-size="6.8" text-anchor="middle" font-weight="bold" stroke="#111" stroke-width="0.07">0</text>
<line x1="267.6" y1="155.3" x2="267.6" y2="158.3" stroke="#222" stroke-width=".8"/>
<text x="267.60" y="165.80" font-size="6.8" text-anchor="middle" font-weight="bold" stroke="#111" stroke-width="0.07">1</text>
<line x1="298.5" y1="155.3" x2="298.5" y2="158.3" stroke="#222" stroke-width=".8"/>
<text x="298.50" y="165.80" font-size="6.8" text-anchor="middle" font-weight="bold" stroke="#111" stroke-width="0.07">2</text>
<line x1="329.4" y1="155.3" x2="329.4" y2="158.3" stroke="#222" stroke-width=".8"/>
<text x="329.40" y="165.80" font-size="6.8" text-anchor="middle" font-weight="bold" stroke="#111" stroke-width="0.07">3</text>
<line x1="360.3" y1="155.3" x2="360.3" y2="158.3" stroke="#222" stroke-width=".8"/>
<text x="360.30" y="165.80" font-size="6.8" text-anchor="middle" font-weight="bold" stroke="#111" stroke-width="0.07">4</text>
<text x="199.40" y="87.50" font-size="11.8" text-anchor="middle" textLength="123.0" lengthAdjust="spacingAndGlyphs" transform="rotate(-90 199.40 87.50)">IP enrichment (siEZH2)</text>
<text x="177.00" y="16.80" font-size="12" text-anchor="end" textLength="51.3" lengthAdjust="spacingAndGlyphs">Total REs</text>
<text x="358.00" y="16.80" font-size="12" text-anchor="end" textLength="51.3" lengthAdjust="spacingAndGlyphs">Total REs</text>
<text x="33.00" y="178.00" font-size="11.8" textLength="131.0" lengthAdjust="spacingAndGlyphs">IP enrichment (siControl)</text>
<line x1="169" y1="174" x2="250" y2="174" stroke="#111" stroke-width="1"/>
<path d="M254 174 L248.5 171.3 L248.5 176.7 Z" fill="#111"/>
<text x="278.50" y="178.00" font-size="11.8" textLength="39.5" lengthAdjust="spacingAndGlyphs">Density</text>
<rect x="325.5" y="169" width="35" height="8.8" fill="url(#cbm)" stroke="#111" stroke-width=".9"/>
<text x="327.30" y="185.60" font-size="7.2" text-anchor="middle" font-weight="bold" stroke="#111" stroke-width="0.07">0.0</text>
<text x="358.30" y="185.60" font-size="7.2" text-anchor="middle" font-weight="bold" stroke="#111" stroke-width="0.07">0.1</text>
<rect x="408" y="24.5" width="127" height="127" fill="#fff" stroke="#111" stroke-width="1.2"/>
<g clip-path="url(#ce1)">
<path d="M487.7 73.6h0M480.0 57.6h0M477.7 53.8h0" stroke="#2a0c0e" stroke-width="1.0" stroke-linecap="round" fill="none"/>
<path d="M490.5 61.2h0M466.0 72.2h0" stroke="#2a0c0e" stroke-width="1.2" stroke-linecap="round" fill="none"/>
<path d="M487.7 68.4h0M479.4 63.3h0M466.6 71.8h0M477.2 64.7h0M483.9 49.7h0" stroke="#2a0c0e" stroke-width="1.6" stroke-linecap="round" fill="none"/>
<path d="M488.8 72.9h0M497.7 61.8h0M506.6 55.8h0" stroke="#2a0c0e" stroke-width="2.0" stroke-linecap="round" fill="none"/>
<path d="M469.3 105.3h0" stroke="#3a7a9a" stroke-width="1.6" stroke-linecap="round" fill="none"/>
<path d="M479.2 74.0h0M468.6 65.1h0M474.4 50.7h0M478.8 42.5h0" stroke="#5a1216" stroke-width="1.0" stroke-linecap="round" fill="none"/>
<path d="M465.8 61.7h0M472.3 57.4h0M466.1 35.1h0" stroke="#5a1216" stroke-width="1.2" stroke-linecap="round" fill="none"/>
<path d="M478.7 79.7h0M495.5 63.2h0M484.2 65.4h0M492.5 59.9h0M477.7 48.6h0M489.2 40.9h0M474.5 34.8h0" stroke="#5a1216" stroke-width="1.6" stroke-linecap="round" fill="none"/>
<path d="M491.9 55.0h0M473.5 61.9h0M496.4 36.2h0M471.0 47.7h0M468.0 44.4h0" stroke="#5a1216" stroke-width="2.0" stroke-linecap="round" fill="none"/>
<path d="M466.7 87.6h0M497.4 67.2h0M475.7 49.9h0M467.0 50.4h0M486.0 79.6h0M471.9 88.9h0M522.1 56.2h0M520.6 57.0h0M491.3 76.5h0M483.2 82.1h0M491.4 76.3h0M489.1 78.6h0M472.2 89.7h0M504.2 68.3h0" stroke="#8a181e" stroke-width="1.0" stroke-linecap="round" fill="none"/>
<path d="M483.3 76.6h0M495.2 58.1h0M466.4 77.2h0M467.5 76.5h0M465.1 67.5h0M466.6 55.9h0M468.1 54.9h0M522.7 55.8h0M489.8 77.9h0M500.5 70.8h0M506.5 66.3h0M525.1 53.3h0M485.5 79.9h0M478.4 85.7h0M525.6 54.4h0M504.3 67.6h0M473.4 88.4h0M510.1 64.2h0" stroke="#8a181e" stroke-width="1.2" stroke-linecap="round" fill="none"/>
<path d="M457.5 56.6h0M458.0 35.1h0M496.8 71.9h0M497.7 72.1h0M466.3 93.0h0M469.3 91.6h0M469.0 91.1h0M477.3 86.4h0M491.5 76.1h0" stroke="#8a181e" stroke-width="1.4" stroke-linecap="round" fill="none"/>
<path d="M506.6 61.1h0M486.6 69.1h0M491.5 60.5h0M492.3 60.0h0M465.2 67.4h0" stroke="#8a181e" stroke-width="1.6" stroke-linecap="round" fill="none"/>
<path d="M492.1 76.6h0M473.3 89.2h0M518.2 58.4h0M485.2 80.6h0M517.8 58.7h0M513.4 62.7h0M503.8 67.6h0M467.2 92.3h0M466.7 92.7h0M481.5 82.7h0M507.6 66.6h0" stroke="#8a181e" stroke-width="1.8" stroke-linecap="round" fill="none"/>
<path d="M499.2 66.0h0M488.8 67.7h0M475.4 65.9h0M471.8 68.4h0M475.8 60.4h0M502.2 42.9h0M481.5 51.3h0M474.1 56.2h0M483.3 44.8h0M466.8 39.9h0M466.2 35.0h0M467.8 34.0h0M453.8 37.9h0M447.8 52.5h0" stroke="#8a181e" stroke-width="2.0" stroke-linecap="round" fill="none"/>
<path d="M428.7 59.8h0M460.3 38.9h0M439.1 53.0h0" stroke="#8a181e" stroke-width="2.6" stroke-linecap="round" fill="none"/>
<path d="M461.5 90.7h0M458.3 88.1h0M457.1 78.0h0M457.8 77.7h0M451.1 77.3h0M459.8 70.9h0M454.7 73.7h0M451.7 76.7h0M460.9 64.9h0M446.2 71.5h0M441.9 67.4h0M436.2 66.1h0" stroke="#a01418" stroke-width="1.8" stroke-linecap="round" fill="none"/>
<path d="M453.6 80.5h0M448.9 72.2h0M436.9 69.0h0" stroke="#a01418" stroke-width="2.4" stroke-linecap="round" fill="none"/>
<path d="M450.0 70.2h0M464.5 62.2h0M442.4 72.0h0M454.5 63.5h0M457.7 63.7h0M446.8 68.0h0M433.8 67.5h0M435.0 67.1h0M433.2 62.1h0" stroke="#a01418" stroke-width="3.0" stroke-linecap="round" fill="none"/>
<path d="M456.9 57.0h0M443.8 49.9h0M448.1 57.6h0" stroke="#a81c24" stroke-width="1.4" stroke-linecap="round" fill="none"/>
<path d="M435.5 50.1h0" stroke="#a81c24" stroke-width="2.0" stroke-linecap="round" fill="none"/>
<path d="M456.0 52.4h0" stroke="#a81c24" stroke-width="2.6" stroke-linecap="round" fill="none"/>
<path d="M448.2 52.2h0M460.2 54.9h0" stroke="#a81c24" stroke-width="3.2" stroke-linecap="round" fill="none"/>
<path d="M443.6 117.2h0" stroke="#b01c2c" stroke-width="2.2" stroke-linecap="round" fill="none"/>
<path d="M462.3 74.2h0M460.3 70.1h0M455.2 68.2h0M444.0 66.2h0M444.2 64.2h0M438.2 63.7h0" stroke="#b81820" stroke-width="1.8" stroke-linecap="round" fill="none"/>
<path d="M457.0 68.4h0M448.9 56.5h0M428.9 60.1h0" stroke="#b81820" stroke-width="2.4" stroke-linecap="round" fill="none"/>
<path d="M454.1 80.6h0M464.6 61.9h0M446.3 75.3h0M447.4 67.3h0M451.2 64.5h0M449.8 68.8h0M455.5 63.3h0M443.8 65.4h0" stroke="#b81820" stroke-width="3.0" stroke-linecap="round" fill="none"/>
<path d="M482.0 77.4h0M509.7 59.1h0M471.2 84.6h0M465.6 83.0h0M490.9 60.9h0M466.9 66.3h0M485.2 48.9h0M468.3 54.8h0M482.4 45.4h0" stroke="#c0202a" stroke-width="1.0" stroke-linecap="round" fill="none"/>
<path d="M465.6 83.0h0M500.3 60.0h0M492.5 54.6h0M466.2 72.0h0M478.9 42.4h0" stroke="#c0202a" stroke-width="1.2" stroke-linecap="round" fill="none"/>
<path d="M447.2 58.2h0" stroke="#c0202a" stroke-width="1.4" stroke-linecap="round" fill="none"/>
<path d="M505.5 61.9h0M469.0 86.0h0M468.6 81.1h0M510.8 47.7h0M490.9 55.6h0M467.9 70.9h0M467.9 60.3h0M466.7 50.5h0M465.4 51.4h0M465.4 35.5h0" stroke="#c0202a" stroke-width="1.6" stroke-linecap="round" fill="none"/>
<path d="M487.2 74.0h0M509.0 59.5h0M468.1 81.4h0M494.2 58.8h0M469.0 64.9h0M483.5 34.1h0M442.8 55.8h0" stroke="#c0202a" stroke-width="2.0" stroke-linecap="round" fill="none"/>
<path d="M441.6 51.3h0" stroke="#c0202a" stroke-width="2.6" stroke-linecap="round" fill="none"/>
<path d="M447.0 58.3h0M459.4 55.4h0" stroke="#c0202a" stroke-width="3.2" stroke-linecap="round" fill="none"/>
<path d="M455.9 76.8h0M454.8 80.1h0M459.8 72.7h0M445.7 73.4h0M447.0 67.4h0M447.6 63.5h0M451.6 56.1h0M438.8 64.8h0M435.0 65.5h0M438.2 59.2h0" stroke="#d01c24" stroke-width="1.8" stroke-linecap="round" fill="none"/>
<path d="M460.3 84.8h0M461.5 79.3h0M458.4 82.1h0M454.5 78.6h0M446.6 69.0h0M439.6 68.9h0M441.8 69.1h0M435.7 65.9h0" stroke="#d01c24" stroke-width="2.4" stroke-linecap="round" fill="none"/>
<path d="M461.3 87.1h0M456.8 84.8h0M459.1 65.2h0M441.8 67.3h0M441.1 60.5h0" stroke="#d01c24" stroke-width="3.0" stroke-linecap="round" fill="none"/>
<path d="M423.7 121.9h0" stroke="#d81c28" stroke-width="3.8" stroke-linecap="round" fill="none"/>
<path d="M481.5 77.8h0M494.8 63.7h0M500.7 54.5h0M473.7 67.1h0M501.7 48.5h0M475.1 44.9h0M465.9 45.8h0" stroke="#e05058" stroke-width="1.0" stroke-linecap="round" fill="none"/>
<path d="M468.2 86.6h0M465.3 83.2h0M468.2 81.3h0M513.1 46.2h0M469.4 75.2h0M497.3 40.9h0M478.8 42.5h0" stroke="#e05058" stroke-width="1.2" stroke-linecap="round" fill="none"/>
<path d="M504.3 57.4h0M497.6 46.0h0M510.1 37.6h0M476.1 54.9h0M474.7 34.6h0" stroke="#e05058" stroke-width="1.6" stroke-linecap="round" fill="none"/>
<path d="M512.3 46.8h0M483.7 60.5h0M472.2 62.8h0M481.5 56.6h0M467.2 60.8h0M470.3 37.6h0" stroke="#e05058" stroke-width="2.0" stroke-linecap="round" fill="none"/>
<path d="M470.9 89.3h0M465.3 94.1h0M437.7 112.9h0M446.5 108.2h0M441.9 109.0h0M448.4 103.5h0M424.1 119.9h0M445.5 105.7h0M424.2 121.1h0M454.8 100.8h0M439.1 112.3h0M424.8 120.3h0" stroke="#e81c22" stroke-width="1.0" stroke-linecap="round" fill="none"/>
<path d="M463.9 88.2h0M463.3 90.4h0M464.4 89.1h0M464.8 88.6h0M462.9 90.8h0M465.5 87.4h0M461.6 90.4h0M459.1 88.6h0M465.0 83.1h0M458.0 87.2h0M458.8 86.0h0M460.7 79.9h0M462.1 79.4h0M461.8 79.5h0M456.3 83.6h0M461.9 79.6h0M458.3 83.8h0M460.0 82.3h0M456.5 85.1h0M460.7 81.8h0M455.7 85.5h0M457.8 78.1h0M455.5 79.6h0M463.4 73.0h0M457.5 77.0h0M457.2 78.1h0M457.4 77.6h0M457.3 79.2h0M455.3 81.1h0M460.5 75.3h0M455.4 79.8h0M459.7 76.5h0M460.6 74.4h0M449.2 78.0h0M452.5 74.4h0M448.6 79.0h0M463.8 68.7h0M464.9 68.0h0M447.7 79.3h0M460.4 70.5h0M451.7 76.2h0M463.9 69.3h0M458.7 70.9h0M460.9 68.3h0M449.1 77.0h0M458.0 71.9h0M446.3 72.7h0M457.1 66.8h0M455.7 67.0h0M458.4 66.0h0M452.7 70.7h0M448.4 72.6h0M451.5 70.1h0M447.7 73.3h0M459.0 67.4h0M463.0 63.7h0M445.8 73.3h0M447.3 73.9h0M452.0 71.3h0M454.7 67.9h0M451.8 72.1h0M448.5 72.6h0M442.8 70.3h0M449.4 69.2h0M442.5 71.9h0M444.8 71.5h0M451.3 64.8h0M446.9 68.8h0M451.7 65.9h0M446.9 70.2h0M442.3 72.8h0M457.8 55.5h0M442.3 68.0h0M438.1 67.0h0M453.1 60.2h0M454.4 59.1h0M448.9 61.2h0M440.6 67.5h0M444.0 63.8h0M439.2 70.2h0M439.5 67.0h0M438.3 70.3h0M445.3 59.6h0M447.3 60.3h0M434.1 67.4h0M447.0 58.1h0M434.8 67.2h0M436.1 65.4h0M438.1 63.4h0M450.0 56.4h0M435.5 65.2h0M437.8 64.6h0M431.3 64.8h0M438.9 59.0h0M432.5 62.9h0M430.2 65.5h0M427.4 59.3h0M437.8 54.5h0M427.2 60.4h0M468.4 92.0h0M466.3 93.2h0M467.0 92.2h0M423.3 121.2h0M425.3 121.7h0M438.3 111.2h0M439.9 112.2h0M435.0 115.3h0M448.1 103.9h0M450.2 103.6h0M436.5 111.7h0M440.7 110.3h0M430.4 118.6h0M429.1 117.4h0M448.5 105.2h0M437.0 113.0h0" stroke="#e81c22" stroke-width="1.2" stroke-linecap="round" fill="none"/>
<path d="M463.0 90.5h0M463.4 89.6h0M461.5 90.6h0M460.8 84.3h0M458.3 86.1h0M463.6 83.1h0M461.1 85.6h0M459.4 89.0h0M461.5 86.2h0M462.5 84.9h0M458.5 87.8h0M459.8 82.8h0M463.6 78.6h0M456.7 84.4h0M461.7 81.2h0M455.7 85.0h0M458.5 81.8h0M455.7 81.9h0M453.5 80.2h0M460.7 74.7h0M455.7 79.6h0M455.4 81.0h0M462.9 73.9h0M452.0 80.9h0M461.1 75.9h0M451.0 81.2h0M453.0 74.8h0M454.0 76.0h0M460.5 71.6h0M463.3 66.8h0M452.6 76.8h0M449.9 75.5h0M462.6 70.1h0M459.2 71.4h0M448.6 79.0h0M455.2 72.1h0M455.0 74.6h0M454.5 74.5h0M463.0 63.3h0M446.8 76.5h0M445.5 75.4h0M452.4 72.6h0M453.6 68.7h0M450.6 70.8h0M460.1 64.2h0M454.5 69.2h0M453.6 68.1h0M457.4 67.7h0M452.8 70.7h0M460.8 59.0h0M446.8 70.2h0M457.5 62.2h0M449.7 66.0h0M462.1 58.5h0M455.0 64.9h0M444.7 71.5h0M453.5 63.8h0M446.1 70.4h0M440.7 74.4h0M445.1 69.9h0M441.5 73.7h0M463.4 58.2h0M443.3 70.8h0M451.1 62.0h0M438.7 67.8h0M440.9 67.4h0M442.5 65.3h0M442.4 65.7h0M438.5 68.6h0M437.8 69.5h0M438.8 69.3h0M456.0 59.3h0M443.1 59.8h0M439.4 64.7h0M439.9 61.3h0M447.4 57.7h0M433.8 67.7h0M440.6 61.7h0M442.7 61.2h0M437.6 63.1h0M451.5 55.6h0M434.7 66.1h0M438.0 64.4h0M445.8 61.6h0M434.9 67.1h0M436.1 65.9h0M440.7 61.4h0M439.9 63.6h0M448.5 56.7h0M434.9 67.5h0M437.5 61.2h0M434.1 62.3h0M433.8 60.8h0M438.4 58.6h0M430.3 62.8h0M444.3 55.4h0M435.1 60.9h0M432.1 62.8h0M428.2 60.1h0M433.6 56.9h0M428.8 58.7h0M427.5 60.8h0M428.9 61.4h0M428.8 59.5h0M434.1 56.2h0M425.4 58.1h0M425.5 53.9h0M464.7 94.0h0" stroke="#e81c22" stroke-width="1.4" stroke-linecap="round" fill="none"/>
<path d="M462.5 89.5h0M462.6 90.1h0M462.5 86.7h0M463.7 84.5h0M463.5 85.4h0M457.8 87.7h0M464.8 84.0h0M459.0 87.0h0M459.3 82.5h0M459.4 82.8h0M463.3 78.6h0M460.0 81.2h0M455.6 84.0h0M455.2 84.6h0M459.8 82.4h0M458.2 82.1h0M451.9 83.8h0M453.8 82.6h0M460.4 76.4h0M455.7 79.0h0M458.3 78.7h0M461.9 74.2h0M452.5 80.5h0M455.7 79.8h0M455.4 78.9h0M453.1 79.8h0M456.6 78.4h0M460.6 76.0h0M456.2 72.4h0M446.7 81.1h0M451.3 74.8h0M463.6 67.4h0M455.0 73.9h0M462.3 70.3h0M460.3 69.3h0M448.3 77.9h0M453.4 74.6h0M451.2 76.8h0M460.5 69.8h0M447.6 78.7h0M452.3 74.5h0M458.9 71.0h0M459.7 71.5h0M444.9 77.5h0M457.8 66.7h0M444.6 76.9h0M457.3 68.2h0M449.5 74.0h0M463.0 63.1h0M463.3 64.4h0M449.0 73.1h0M461.8 65.1h0M445.0 75.0h0M450.0 72.2h0M464.5 63.1h0M458.5 65.8h0M446.5 69.3h0M445.6 69.1h0M443.2 69.6h0M450.1 65.7h0M459.0 61.4h0M451.6 66.0h0M444.4 71.0h0M450.8 60.9h0M451.5 59.6h0M448.4 61.9h0M439.3 68.9h0M449.7 61.7h0M437.8 68.5h0M443.9 66.4h0M437.7 69.9h0M447.4 65.1h0M437.8 71.4h0M441.8 66.0h0M439.5 65.1h0M435.8 67.0h0M439.1 63.9h0M436.7 65.3h0M440.0 64.7h0M439.3 64.3h0M437.9 63.5h0M434.1 63.3h0M436.2 65.9h0M432.0 62.9h0M436.9 60.9h0M431.6 63.9h0M439.0 58.9h0M439.3 56.8h0M433.2 62.7h0M427.2 61.7h0M429.6 55.5h0M428.8 54.0h0M435.3 112.6h0M432.2 114.1h0M451.8 104.7h0M440.1 110.0h0M448.6 103.7h0M442.8 110.9h0" stroke="#e81c22" stroke-width="1.6" stroke-linecap="round" fill="none"/>
<path d="M462.5 92.1h0M463.8 89.2h0M458.9 88.1h0M458.1 89.6h0M460.0 85.7h0M460.4 86.4h0M456.1 81.1h0M458.6 83.1h0M458.4 84.0h0M464.1 80.7h0M460.6 80.1h0M461.0 80.5h0M455.3 83.9h0M455.8 84.0h0M459.7 81.7h0M458.3 80.5h0M455.1 83.8h0M463.0 79.4h0M459.4 82.2h0M453.8 81.0h0M463.2 73.4h0M461.1 74.2h0M455.2 80.3h0M451.8 81.6h0M459.2 77.1h0M457.5 78.3h0M452.2 82.4h0M463.4 72.7h0M454.9 79.5h0M452.7 78.9h0M459.4 76.8h0M460.8 74.9h0M447.8 79.9h0M454.5 75.1h0M462.9 68.7h0M449.6 76.5h0M463.8 68.6h0M458.2 73.5h0M451.5 77.4h0M453.4 73.9h0M452.3 77.1h0M447.1 78.5h0M445.9 76.0h0M455.8 68.2h0M462.3 65.4h0M464.8 62.9h0M456.1 67.0h0M449.2 73.5h0M459.5 64.5h0M446.9 74.2h0M463.6 62.8h0M446.1 76.1h0M457.0 69.1h0M448.0 73.1h0M448.5 74.1h0M449.5 71.3h0M452.6 70.5h0M451.5 71.4h0M444.2 76.5h0M452.8 66.8h0M446.2 69.3h0M451.7 64.0h0M444.4 70.8h0M450.0 66.0h0M450.0 67.2h0M458.7 61.5h0M448.7 66.8h0M441.2 74.4h0M460.3 61.3h0M450.3 67.4h0M460.4 60.5h0M443.4 70.6h0M451.4 67.5h0M453.0 66.3h0M453.3 63.3h0M441.8 73.1h0M441.7 71.7h0M464.0 56.7h0M450.2 68.2h0M453.7 63.2h0M443.9 71.3h0M439.7 69.3h0M452.9 59.9h0M440.9 66.9h0M440.6 67.1h0M447.1 63.9h0M438.9 70.6h0M442.7 66.8h0M449.3 60.7h0M441.7 67.0h0M442.6 66.1h0M442.3 65.9h0M437.6 70.7h0M451.9 60.4h0M434.1 65.3h0M448.8 56.8h0M443.2 62.3h0M438.2 63.2h0M435.5 66.3h0M436.9 63.8h0M433.7 67.0h0M445.6 58.6h0M434.9 64.9h0M437.6 64.7h0M432.7 63.6h0M433.1 61.6h0M433.3 63.0h0M431.2 58.3h0M431.9 59.0h0M427.4 62.5h0M427.8 60.5h0M435.0 55.3h0M425.1 56.1h0M423.8 57.5h0M425.9 56.0h0M466.7 93.0h0" stroke="#e81c22" stroke-width="1.8" stroke-linecap="round" fill="none"/>
<path d="M464.2 89.5h0M465.0 89.5h0M462.2 89.8h0M462.6 91.3h0M462.5 90.5h0M461.7 86.1h0M459.1 87.3h0M462.0 87.0h0M458.2 87.2h0M461.5 85.6h0M460.6 87.6h0M464.2 85.1h0M458.0 88.7h0M458.9 82.2h0M463.5 78.7h0M461.7 79.7h0M463.5 79.2h0M458.1 82.4h0M457.2 83.2h0M457.9 82.8h0M457.4 83.3h0M463.5 77.0h0M461.1 80.0h0M452.6 80.9h0M463.9 73.0h0M459.6 78.1h0M459.5 75.6h0M454.3 78.7h0M452.7 80.5h0M459.1 75.6h0M452.0 80.4h0M456.7 78.2h0M459.8 74.9h0M456.7 77.4h0M451.6 77.4h0M455.9 73.0h0M456.3 75.0h0M461.7 71.2h0M458.6 70.6h0M449.0 77.7h0M455.1 74.2h0M455.4 74.8h0M446.8 80.9h0M454.0 75.0h0M450.4 78.3h0M464.5 66.8h0M455.1 73.9h0M460.6 69.7h0M449.4 78.3h0M457.1 71.6h0M461.5 69.0h0M449.5 72.5h0M447.2 73.6h0M451.4 71.5h0M447.9 72.0h0M448.9 72.2h0M447.3 72.9h0M445.7 76.6h0M445.9 76.1h0M448.7 74.1h0M457.3 68.0h0M455.2 68.5h0M445.0 74.4h0M462.3 63.3h0M445.9 74.8h0M450.0 71.8h0M446.0 75.8h0M445.5 76.1h0M460.3 66.9h0M447.6 68.0h0M444.7 67.7h0M462.4 57.9h0M445.1 69.7h0M449.5 66.6h0M440.5 73.2h0M453.6 62.4h0M448.9 65.7h0M461.2 59.2h0M444.7 68.9h0M454.3 64.1h0M453.7 66.5h0M441.9 72.7h0M445.4 71.1h0M457.3 64.0h0M448.9 66.6h0M440.6 73.5h0M453.4 64.6h0M450.2 66.3h0M457.3 57.8h0M449.1 63.0h0M442.2 69.0h0M443.1 66.4h0M439.3 68.1h0M446.4 64.3h0M445.5 64.9h0M450.1 61.7h0M441.6 68.6h0M438.3 70.4h0M454.8 59.6h0M448.5 62.6h0M444.4 66.7h0M445.7 63.3h0M453.6 59.4h0M447.5 61.6h0M443.2 64.8h0M449.9 63.0h0M436.1 66.0h0M435.1 65.0h0M436.3 65.1h0M453.0 56.0h0M435.6 65.0h0M433.2 67.1h0M437.8 66.1h0M447.2 58.2h0M442.9 57.7h0M434.0 60.7h0M431.8 62.2h0M435.6 59.0h0M435.6 61.4h0M432.3 62.7h0M431.8 61.0h0M431.2 65.3h0M430.0 60.9h0M434.0 55.7h0M426.9 56.8h0M423.9 57.5h0M423.2 57.9h0M442.1 110.5h0M439.3 111.9h0M422.8 120.3h0M448.0 103.4h0M443.0 106.6h0M448.3 103.8h0" stroke="#e81c22" stroke-width="2.0" stroke-linecap="round" fill="none"/>
<path d="M423.6 121.5h0M436.0 113.2h0M444.1 107.7h0M442.8 109.2h0M447.1 108.2h0M435.5 114.2h0M435.0 114.5h0" stroke="#e81c22" stroke-width="2.4" stroke-linecap="round" fill="none"/>
<path d="M461.2 93.2h0M461.8 91.5h0M460.0 85.8h0M463.3 84.2h0M464.4 85.3h0M461.3 87.9h0M459.2 88.1h0M458.7 87.8h0M465.3 82.8h0M459.6 86.0h0M458.9 87.2h0M463.0 83.0h0M455.4 83.0h0M463.1 79.2h0M455.4 84.0h0M458.9 82.1h0M459.8 82.3h0M464.9 78.2h0M460.5 80.9h0M458.7 81.5h0M459.6 75.8h0M459.7 77.7h0M454.7 77.9h0M455.9 77.7h0M462.3 74.8h0M453.7 74.2h0M449.4 78.8h0M447.6 79.3h0M448.9 76.7h0M453.6 73.6h0M453.7 75.4h0M450.3 76.7h0M454.7 74.0h0M459.5 70.6h0M449.0 78.1h0M447.9 79.9h0M451.1 77.9h0M452.7 74.8h0M457.0 73.0h0M452.0 78.7h0M458.2 65.2h0M457.7 70.0h0M448.6 73.6h0M449.6 68.9h0M445.1 76.2h0M445.6 76.3h0M456.5 68.6h0M452.8 70.6h0M450.9 71.7h0M464.0 64.1h0M453.3 62.9h0M447.5 67.6h0M442.8 71.3h0M440.9 73.7h0M446.5 70.0h0M452.0 66.9h0M450.9 67.0h0M449.2 67.4h0M455.8 61.7h0M456.2 63.3h0M441.3 73.5h0M447.7 68.1h0M441.5 71.5h0M442.7 73.9h0M448.1 66.8h0M458.2 61.0h0M441.4 70.1h0M451.8 60.7h0M445.9 64.6h0M438.1 68.5h0M456.7 56.9h0M453.7 59.2h0M438.5 69.6h0M442.2 68.6h0M447.3 62.8h0M456.4 57.6h0M441.1 66.0h0M451.4 60.6h0M445.5 64.4h0M455.8 58.3h0M446.1 62.5h0M455.2 58.3h0M442.1 65.7h0M441.6 62.4h0M435.8 65.9h0M447.4 58.7h0M443.3 62.1h0M441.9 60.8h0M437.5 64.0h0M438.5 63.4h0M433.6 66.4h0M440.7 63.5h0M437.0 65.9h0M438.4 65.3h0M447.1 59.0h0M443.9 60.7h0M434.8 59.8h0M434.5 59.8h0M434.0 62.6h0M439.8 58.5h0M436.0 59.6h0M432.6 60.6h0M426.6 61.1h0M427.8 61.9h0M432.0 57.0h0M426.8 60.0h0M429.4 58.8h0M434.0 56.3h0M425.6 56.8h0M423.6 58.8h0M423.5 58.5h0M426.1 55.2h0" stroke="#e81c22" stroke-width="2.6" stroke-linecap="round" fill="none"/>
<path d="M477.7 85.3h0M487.8 79.1h0M480.2 83.9h0M493.8 75.6h0M486.0 79.5h0M477.7 85.2h0M487.1 79.6h0M474.3 88.3h0M429.3 118.5h0M447.5 105.9h0M438.1 112.7h0M446.6 106.5h0M433.0 115.7h0M450.3 104.1h0M455.2 99.2h0" stroke="#eb4146" stroke-width="1.0" stroke-linecap="round" fill="none"/>
<path d="M463.8 85.9h0M463.7 79.4h0M459.9 80.1h0M464.3 74.8h0M456.2 78.2h0M456.3 77.7h0M464.2 66.9h0M453.9 77.5h0M463.3 67.4h0M457.8 72.2h0M459.0 69.9h0M464.0 68.2h0M458.1 65.8h0M458.4 64.8h0M453.3 68.5h0M462.8 64.4h0M446.2 74.2h0M448.5 72.7h0M458.6 67.5h0M452.4 72.0h0M440.8 72.7h0M451.6 64.9h0M450.4 67.5h0M451.0 66.3h0M449.2 67.3h0M456.8 61.9h0M453.6 63.9h0M449.5 67.0h0M444.1 64.0h0M449.8 62.0h0M447.9 61.6h0M453.3 60.1h0M444.8 65.3h0M446.6 64.3h0M450.5 61.3h0M438.0 64.2h0M438.5 63.4h0M440.1 62.7h0M437.1 61.2h0M434.3 61.6h0M484.3 80.9h0M485.8 80.5h0M493.0 75.0h0M466.8 92.8h0M498.7 72.4h0M493.0 75.2h0M488.0 79.1h0M494.4 74.3h0M440.4 110.0h0M430.3 117.7h0M437.0 113.7h0M433.0 114.7h0M452.7 103.8h0M436.3 113.0h0M434.3 113.8h0M425.3 120.3h0" stroke="#eb4146" stroke-width="1.2" stroke-linecap="round" fill="none"/>
<path d="M462.1 91.5h0M464.9 79.5h0M462.8 81.5h0M462.7 74.9h0M461.5 77.3h0M460.6 70.3h0M456.7 72.4h0M447.7 75.0h0M450.9 71.2h0M452.8 70.3h0M449.1 74.2h0M450.6 71.4h0M451.7 71.3h0M457.6 67.3h0M449.2 65.6h0M446.7 69.8h0M447.1 68.7h0M460.3 61.1h0M445.9 64.0h0M442.6 65.2h0M438.6 69.5h0M438.2 68.7h0M446.1 66.6h0M449.5 61.3h0M437.6 63.7h0M440.3 62.6h0M446.2 59.1h0M434.4 60.6h0M473.0 90.0h0M493.3 75.1h0M467.3 91.8h0M491.6 76.0h0M486.9 79.8h0M492.2 75.5h0M477.1 86.3h0M485.1 80.7h0M472.2 89.3h0M489.2 77.8h0" stroke="#eb4146" stroke-width="1.4" stroke-linecap="round" fill="none"/>
<path d="M464.1 89.8h0M457.5 78.1h0M453.2 81.9h0M452.2 76.8h0M461.2 68.6h0M455.2 74.8h0M460.7 71.8h0M453.6 68.8h0M453.2 70.3h0M458.6 66.6h0M455.9 68.2h0M461.3 65.5h0M453.5 65.2h0M459.0 61.6h0M445.4 70.5h0M454.4 63.6h0M452.3 64.2h0M457.7 62.4h0M443.9 64.4h0M451.1 61.2h0M451.1 62.0h0M444.4 64.4h0M437.2 65.8h0M439.7 62.4h0M436.6 66.3h0M432.6 64.0h0M432.9 59.9h0M430.4 59.4h0M424.4 123.5h0M446.7 106.4h0M439.7 110.7h0M438.4 113.0h0M448.9 102.0h0M431.7 118.0h0M450.7 103.1h0M433.1 116.7h0" stroke="#eb4146" stroke-width="1.6" stroke-linecap="round" fill="none"/>
<path d="M463.2 88.2h0M464.5 84.7h0M458.0 87.5h0M458.8 81.1h0M460.4 82.1h0M459.7 75.2h0M462.4 73.8h0M462.9 76.0h0M456.9 79.7h0M453.5 81.4h0M460.8 76.6h0M460.6 73.5h0M460.1 75.5h0M461.1 68.9h0M453.8 76.5h0M456.3 72.9h0M450.1 77.4h0M453.0 76.5h0M448.8 78.7h0M452.6 76.1h0M456.4 70.7h0M463.9 62.6h0M441.1 74.2h0M450.3 67.4h0M450.4 67.5h0M449.2 67.5h0M458.7 60.4h0M441.1 67.1h0M452.3 59.6h0M455.0 59.1h0M441.3 67.0h0M449.5 62.2h0M441.7 61.6h0M436.6 65.0h0M444.2 59.6h0M435.6 61.8h0M431.7 63.6h0M427.2 61.2h0M428.5 61.2h0M467.1 92.5h0M465.0 93.2h0M479.4 83.7h0M483.9 81.7h0M500.0 70.9h0M474.5 87.6h0M492.4 75.6h0M481.9 82.2h0" stroke="#eb4146" stroke-width="1.8" stroke-linecap="round" fill="none"/>
<path d="M461.2 83.9h0M447.5 78.5h0M458.7 70.5h0M449.1 73.0h0M457.8 68.1h0M452.7 70.9h0M464.5 62.8h0M460.8 66.3h0M449.7 72.5h0M444.6 70.8h0M448.0 68.6h0M454.2 65.2h0M455.0 62.7h0M457.0 60.6h0M461.8 61.0h0M452.4 61.1h0M456.3 59.5h0M449.8 61.9h0M442.2 61.4h0M435.2 65.6h0M436.1 64.2h0M436.9 65.3h0M431.4 62.9h0M435.0 60.9h0M422.7 121.8h0M419.1 123.4h0M430.1 115.8h0M445.8 105.5h0M428.5 118.8h0M428.5 118.8h0M428.1 119.0h0M450.4 102.2h0M428.7 119.2h0M425.7 120.4h0" stroke="#eb4146" stroke-width="2.0" stroke-linecap="round" fill="none"/>
<path d="M449.2 104.5h0M446.4 104.9h0M427.4 119.0h0M427.1 120.6h0M435.3 113.7h0M443.3 109.2h0" stroke="#eb4146" stroke-width="2.4" stroke-linecap="round" fill="none"/>
<path d="M461.6 87.4h0M456.2 84.3h0M461.9 74.2h0M455.4 78.9h0M451.3 81.6h0M460.1 71.1h0M460.8 71.6h0M457.6 72.3h0M445.9 76.2h0M461.0 64.8h0M463.4 62.4h0M457.3 66.9h0M459.4 66.0h0M463.7 64.8h0M450.7 67.5h0M460.9 60.2h0M455.7 61.9h0M446.7 64.1h0M449.5 63.9h0M452.3 61.4h0M449.5 61.4h0M439.2 69.5h0M441.6 67.7h0M443.9 59.4h0M440.3 61.3h0M436.4 63.5h0M435.9 60.1h0M437.9 59.4h0M432.4 61.1h0" stroke="#eb4146" stroke-width="2.6" stroke-linecap="round" fill="none"/>
<path d="M469.4 97.0h0M500.5 117.6h0" stroke="#ef666a" stroke-width="0.8" stroke-linecap="round" fill="none"/>
<path d="M505.6 66.4h0M513.6 62.1h0M518.1 58.7h0M503.8 68.8h0M509.7 64.2h0M499.2 71.1h0M511.9 62.0h0M511.8 62.2h0M417.9 125.2h0M445.0 106.7h0M452.4 101.2h0M450.8 101.5h0M461.8 96.5h0M433.5 115.9h0" stroke="#ef666a" stroke-width="1.0" stroke-linecap="round" fill="none"/>
<path d="M457.4 78.2h0M463.9 68.7h0M455.5 73.1h0M451.4 71.1h0M464.5 62.0h0M460.5 60.3h0M438.7 66.4h0M450.1 62.9h0M442.6 62.2h0M442.5 63.4h0M440.7 57.7h0M428.5 60.3h0M424.1 57.6h0M517.6 58.9h0M452.8 102.0h0M453.9 101.1h0M451.7 102.6h0M457.2 99.3h0M474.4 100.2h0" stroke="#ef666a" stroke-width="1.2" stroke-linecap="round" fill="none"/>
<path d="M452.3 74.7h0M448.9 74.0h0M449.4 67.4h0M462.9 59.3h0M458.5 60.3h0M437.9 68.6h0M448.9 56.1h0M446.6 58.0h0M438.1 65.1h0M440.6 56.5h0M439.8 57.3h0M439.5 58.1h0M430.8 59.1h0M434.7 56.2h0M433.1 56.8h0M426.4 55.9h0M502.9 68.3h0M503.7 68.6h0M507.3 64.7h0M525.8 53.1h0M507.2 65.8h0M523.0 55.5h0M508.7 65.0h0M509.8 63.5h0M510.5 63.9h0M523.3 55.8h0" stroke="#ef666a" stroke-width="1.4" stroke-linecap="round" fill="none"/>
<path d="M463.0 85.2h0M460.1 81.4h0M455.5 85.4h0M464.9 72.3h0M457.1 71.5h0M459.8 63.2h0M457.0 61.6h0M442.5 66.7h0M436.2 65.5h0M438.6 57.3h0M432.8 57.6h0M426.3 60.5h0M430.4 58.6h0M450.0 102.1h0M417.7 125.0h0M463.4 96.1h0M451.5 102.4h0" stroke="#ef666a" stroke-width="1.6" stroke-linecap="round" fill="none"/>
<path d="M462.6 74.6h0M454.8 80.4h0M447.3 74.1h0M460.4 64.2h0M452.0 64.3h0M455.6 57.3h0M448.4 61.1h0M445.6 58.7h0M432.2 62.6h0M443.1 54.8h0M427.4 59.1h0M431.4 59.7h0M497.2 73.1h0M515.4 60.9h0M502.5 69.6h0M521.0 57.1h0M496.7 73.7h0M525.6 54.3h0M525.0 54.7h0M518.2 58.8h0" stroke="#ef666a" stroke-width="1.8" stroke-linecap="round" fill="none"/>
<path d="M458.9 83.0h0M457.1 72.2h0M462.2 63.2h0M463.0 64.2h0M445.2 76.3h0M442.6 71.2h0M447.0 68.6h0M451.5 60.7h0M443.0 67.1h0M444.3 60.5h0M444.8 54.8h0M439.4 57.3h0M428.1 58.6h0M424.3 57.5h0M418.4 125.2h0M450.8 103.0h0M426.0 120.0h0" stroke="#ef666a" stroke-width="2.0" stroke-linecap="round" fill="none"/>
<path d="M420.0 123.6h0M417.8 124.5h0M449.9 102.8h0" stroke="#ef666a" stroke-width="2.4" stroke-linecap="round" fill="none"/>
<path d="M464.5 89.8h0M455.0 84.9h0M456.0 83.8h0M462.1 75.4h0M460.5 66.4h0M457.8 65.9h0M452.0 70.5h0M461.6 57.9h0M461.9 57.5h0M454.2 63.7h0M457.6 63.7h0M457.6 56.3h0M460.1 52.8h0M444.8 64.8h0M444.1 60.7h0M438.5 58.9h0M438.2 59.7h0M430.6 64.3h0M431.5 64.4h0" stroke="#ef666a" stroke-width="2.6" stroke-linecap="round" fill="none"/>
<path d="M465.6 99.7h0M454.3 102.8h0M455.0 103.2h0M450.8 105.8h0M474.2 126.6h0M449.2 110.0h0M436.0 117.1h0M430.2 118.6h0M482.1 105.3h0M500.4 117.5h0M493.2 112.7h0M476.7 101.8h0M496.1 114.6h0M503.4 119.4h0M492.8 112.5h0M501.0 117.9h0" stroke="#f28b8e" stroke-width="0.8" stroke-linecap="round" fill="none"/>
<path d="M464.0 95.7h0M460.1 95.5h0M459.3 97.7h0M465.1 92.8h0M454.3 100.8h0M467.4 100.9h0M481.8 110.4h0M473.5 104.9h0M465.1 99.4h0M465.9 105.1h0M463.9 103.9h0M461.8 107.7h0M464.8 109.7h0M453.8 102.4h0M448.7 109.6h0M476.8 133.6h0M452.5 117.5h0M440.0 114.5h0M474.1 100.1h0M470.9 97.9h0M493.0 112.6h0M487.0 108.6h0M496.4 114.8h0M471.4 98.2h0" stroke="#f28b8e" stroke-width="1.0" stroke-linecap="round" fill="none"/>
<path d="M461.1 75.7h0M458.3 62.6h0M463.2 59.3h0M436.5 66.1h0M428.3 61.3h0M522.8 54.9h0M460.1 99.4h0M458.7 99.3h0M454.8 100.1h0M420.1 123.6h0M460.4 98.6h0M462.6 95.4h0M478.0 107.9h0M468.5 101.6h0M463.5 103.6h0M459.5 101.0h0M458.7 111.0h0M451.0 105.9h0M450.0 105.2h0M449.7 115.6h0M439.1 113.9h0M456.7 130.8h0M437.6 118.2h0M475.5 101.0h0M489.8 110.5h0" stroke="#f28b8e" stroke-width="1.2" stroke-linecap="round" fill="none"/>
<path d="M522.0 55.6h0" stroke="#f28b8e" stroke-width="1.4" stroke-linecap="round" fill="none"/>
<path d="M451.9 66.6h0M437.8 63.8h0M455.9 101.2h0M462.4 97.0h0M460.8 97.8h0M474.5 105.6h0M478.9 108.5h0M461.2 107.3h0M462.0 113.2h0M450.7 105.7h0M472.1 130.4h0M471.5 135.3h0M433.4 115.4h0" stroke="#f28b8e" stroke-width="1.6" stroke-linecap="round" fill="none"/>
<path d="M462.2 74.4h0M460.7 66.6h0M452.5 65.3h0M443.1 72.9h0M444.7 61.3h0M523.4 55.5h0" stroke="#f28b8e" stroke-width="1.8" stroke-linecap="round" fill="none"/>
<path d="M463.0 84.5h0M453.5 76.3h0M458.2 69.3h0M464.2 93.9h0M458.9 98.3h0M453.6 102.3h0M420.4 125.4h0" stroke="#f28b8e" stroke-width="2.0" stroke-linecap="round" fill="none"/>
<path d="M420.9 123.8h0M461.2 97.2h0M417.1 125.9h0" stroke="#f28b8e" stroke-width="2.4" stroke-linecap="round" fill="none"/>
<path d="M458.8 76.7h0M451.3 65.8h0M456.5 62.9h0" stroke="#f28b8e" stroke-width="2.6" stroke-linecap="round" fill="none"/>
<path d="M464.0 98.6h0M474.4 105.5h0M473.4 104.8h0M482.6 111.0h0M487.1 119.2h0M471.9 114.5h0M463.1 108.6h0M452.8 107.1h0M485.9 129.0h0M449.3 104.7h0M481.9 126.4h0M467.4 122.0h0M442.3 110.7h0M445.5 112.8h0M437.3 112.7h0M441.7 115.6h0M449.2 125.9h0M446.7 129.5h0M457.6 136.7h0M478.4 102.9h0M484.6 107.0h0M500.3 117.4h0M471.1 98.1h0" stroke="#f6b0b2" stroke-width="0.8" stroke-linecap="round" fill="none"/>
<path d="M458.6 98.7h0M464.1 96.5h0M458.9 98.3h0M464.6 95.3h0M461.0 96.7h0M475.1 106.0h0M497.0 120.5h0M486.9 119.1h0M490.4 121.4h0M477.6 112.9h0M471.2 114.0h0M459.2 106.0h0M488.1 125.2h0M477.3 118.0h0M480.6 120.2h0M459.9 111.8h0M457.1 115.2h0M465.2 120.6h0M465.0 120.5h0M479.7 130.2h0M453.7 113.0h0M464.6 125.5h0M451.4 122.1h0M462.6 140.0h0M480.6 104.3h0M494.9 113.8h0" stroke="#f6b0b2" stroke-width="1.0" stroke-linecap="round" fill="none"/>
<path d="M417.8 126.5h0M459.0 98.0h0M479.9 109.2h0M475.6 111.6h0M473.8 110.4h0M457.1 99.4h0M483.7 117.0h0M488.0 125.1h0M478.8 124.3h0M471.8 125.0h0M447.1 113.9h0M450.2 115.9h0M473.6 136.8h0M469.6 134.1h0M451.4 127.3h0M439.3 124.6h0M456.4 135.9h0M493.2 112.7h0" stroke="#f6b0b2" stroke-width="1.2" stroke-linecap="round" fill="none"/>
<path d="M493.8 118.4h0M476.4 106.9h0M481.0 109.9h0M497.4 120.8h0M485.2 112.7h0M470.3 108.1h0M468.9 107.2h0M465.0 104.6h0M470.0 107.9h0M471.0 108.6h0M457.1 99.3h0M486.3 118.7h0M489.1 125.9h0M458.6 110.9h0M477.2 128.6h0M471.4 124.7h0M472.8 130.9h0M471.9 130.4h0M462.1 123.8h0M442.4 116.1h0M437.7 112.9h0M472.9 136.3h0M450.5 126.7h0M441.1 125.8h0M460.5 138.7h0" stroke="#f6b0b2" stroke-width="1.6" stroke-linecap="round" fill="none"/>
<path d="M458.5 98.4h0" stroke="#f6b0b2" stroke-width="2.4" stroke-linecap="round" fill="none"/>
<path d="M448.5 76.0h0" stroke="#f6b0b2" stroke-width="2.6" stroke-linecap="round" fill="none"/>
<path d="M471.8 109.1h0M462.2 108.0h0M480.5 125.4h0M478.7 124.3h0M478.0 123.8h0M474.9 127.0h0M468.6 122.8h0M478.0 129.1h0M458.1 126.4h0" stroke="#fad5d6" stroke-width="0.8" stroke-linecap="round" fill="none"/>
<path d="M464.8 97.2h0M461.6 97.0h0M469.0 101.9h0M483.3 116.7h0M472.6 120.2h0M471.7 130.2h0M465.4 126.0h0M460.3 133.2h0" stroke="#fad5d6" stroke-width="1.0" stroke-linecap="round" fill="none"/>
<path d="M456.3 114.7h0M468.1 138.4h0M465.0 136.4h0" stroke="#fad5d6" stroke-width="1.2" stroke-linecap="round" fill="none"/>
<path d="M480.1 114.6h0M487.1 124.5h0M465.0 109.9h0M465.5 110.2h0M473.6 115.6h0M473.0 120.5h0" stroke="#fad5d6" stroke-width="1.6" stroke-linecap="round" fill="none"/>
<circle cx="476.1" cy="79.7" r="0.6" fill="#701018" stroke="#1a0a0a" stroke-width="1"/>
<circle cx="472.7" cy="79.3" r="1.0" fill="#e03038" stroke="#1a0a0a" stroke-width="1"/>
<circle cx="466.3" cy="87.7" r="0.5" fill="#701018" stroke="#1a0a0a" stroke-width="1"/>
<circle cx="469.9" cy="85.8" r="1.0" fill="#e03038" stroke="#1a0a0a" stroke-width="1"/>
<circle cx="465.7" cy="86.7" r="1.2" fill="#fff" stroke="#1a0a0a" stroke-width="1"/>
<circle cx="467.3" cy="88.4" r="1.0" fill="#e03038" stroke="#1a0a0a" stroke-width="1"/>
<circle cx="483.7" cy="76.6" r="1.8" fill="#fff" stroke="#1a0a0a" stroke-width="1"/>
<circle cx="468.8" cy="71.8" r="0.5" fill="#e03038" stroke="#1a0a0a" stroke-width="1"/>
<circle cx="466.9" cy="75.8" r="1.2" fill="#e03038" stroke="#1a0a0a" stroke-width="1"/>
<circle cx="466.9" cy="81.3" r="0.6" fill="#f07078" stroke="#1a0a0a" stroke-width="1"/>
<circle cx="466.2" cy="87.0" r="0.8" fill="#f4a0a8" stroke="#1a0a0a" stroke-width="1"/>
<circle cx="467.0" cy="81.9" r="0.5" fill="#fff" stroke="#1a0a0a" stroke-width="1"/>
<circle cx="467.8" cy="89.9" r="0.6" fill="#f07078" stroke="#1a0a0a" stroke-width="1"/>
<circle cx="471.6" cy="86.7" r="0.6" fill="#f4a0a8" stroke="#1a0a0a" stroke-width="1"/>
<circle cx="474.5" cy="82.8" r="0.5" fill="#701018" stroke="#1a0a0a" stroke-width="1"/>
<circle cx="469.1" cy="89.3" r="1.2" fill="#f8d8dc" stroke="#1a0a0a" stroke-width="1"/>
<circle cx="471.4" cy="87.8" r="1.5" fill="#f4a0a8" stroke="#1a0a0a" stroke-width="1"/>
<circle cx="468.4" cy="90.1" r="0.6" fill="#e03038" stroke="#1a0a0a" stroke-width="1"/>
<circle cx="468.1" cy="90.6" r="1.8" fill="#301010" stroke="#1a0a0a" stroke-width="1"/>
<circle cx="468.3" cy="87.7" r="0.6" fill="#f8d8dc" stroke="#1a0a0a" stroke-width="1"/>
<circle cx="465.7" cy="86.7" r="1.5" fill="#f8d8dc" stroke="#1a0a0a" stroke-width="1"/>
<circle cx="469.5" cy="89.6" r="0.8" fill="#f07078" stroke="#1a0a0a" stroke-width="1"/>
<circle cx="472.2" cy="87.7" r="0.8" fill="#f07078" stroke="#1a0a0a" stroke-width="1"/>
<circle cx="480.8" cy="76.6" r="0.5" fill="#301010" stroke="#1a0a0a" stroke-width="1"/>
<circle cx="478.6" cy="76.4" r="1.0" fill="#f4a0a8" stroke="#1a0a0a" stroke-width="1"/>
<circle cx="478.6" cy="78.8" r="1.8" fill="#301010" stroke="#1a0a0a" stroke-width="1"/>
<circle cx="467.2" cy="90.0" r="1.0" fill="#f4a0a8" stroke="#1a0a0a" stroke-width="1"/>
<circle cx="468.6" cy="81.5" r="0.5" fill="#f07078" stroke="#1a0a0a" stroke-width="1"/>
<circle cx="465.8" cy="91.3" r="0.5" fill="#fff" stroke="#1a0a0a" stroke-width="1"/>
<circle cx="475.0" cy="69.1" r="1.8" fill="#f07078" stroke="#1a0a0a" stroke-width="1"/>
<circle cx="466.0" cy="83.2" r="1.2" fill="#301010" stroke="#1a0a0a" stroke-width="1"/>
<circle cx="467.7" cy="88.7" r="0.6" fill="#f07078" stroke="#1a0a0a" stroke-width="1"/>
<circle cx="469.1" cy="89.6" r="1.0" fill="#f07078" stroke="#1a0a0a" stroke-width="1"/>
<circle cx="472.8" cy="82.4" r="0.5" fill="#fff" stroke="#1a0a0a" stroke-width="1"/>
<circle cx="466.5" cy="90.5" r="1.2" fill="#701018" stroke="#1a0a0a" stroke-width="1"/>
<circle cx="467.4" cy="80.5" r="0.8" fill="#301010" stroke="#1a0a0a" stroke-width="1"/>
<circle cx="468.0" cy="88.8" r="1.2" fill="#301010" stroke="#1a0a0a" stroke-width="1"/>
<circle cx="472.8" cy="83.2" r="0.6" fill="#f07078" stroke="#1a0a0a" stroke-width="1"/>
<circle cx="472.3" cy="84.8" r="0.8" fill="#f07078" stroke="#1a0a0a" stroke-width="1"/>
<circle cx="465.7" cy="90.1" r="0.8" fill="#f07078" stroke="#1a0a0a" stroke-width="1"/>
<circle cx="465.9" cy="67.1" r="1.8" fill="#f8d8dc" stroke="#1a0a0a" stroke-width="1"/>
<circle cx="469.0" cy="86.3" r="0.5" fill="#f07078" stroke="#1a0a0a" stroke-width="1"/>
<circle cx="485.0" cy="67.5" r="0.5" fill="#e03038" stroke="#1a0a0a" stroke-width="1"/>
<circle cx="473.1" cy="85.5" r="1.8" fill="#701018" stroke="#1a0a0a" stroke-width="1"/>
<circle cx="469.3" cy="75.7" r="1.8" fill="#f07078" stroke="#1a0a0a" stroke-width="1"/>
<circle cx="478.8" cy="82.8" r="1.8" fill="#301010" stroke="#1a0a0a" stroke-width="1"/>
<circle cx="466.0" cy="90.2" r="1.8" fill="#f07078" stroke="#1a0a0a" stroke-width="1"/>
<circle cx="466.3" cy="91.2" r="1.2" fill="#f4a0a8" stroke="#1a0a0a" stroke-width="1"/>
<circle cx="471.4" cy="76.3" r="0.8" fill="#301010" stroke="#1a0a0a" stroke-width="1"/>
<circle cx="472.2" cy="74.5" r="0.5" fill="#f8d8dc" stroke="#1a0a0a" stroke-width="1"/>
<circle cx="468.8" cy="87.6" r="1.5" fill="#fff" stroke="#1a0a0a" stroke-width="1"/>
<circle cx="484.0" cy="76.5" r="0.8" fill="#fff" stroke="#1a0a0a" stroke-width="1"/>
<circle cx="469.0" cy="81.2" r="0.6" fill="#301010" stroke="#1a0a0a" stroke-width="1"/>
<circle cx="465.6" cy="91.6" r="1.2" fill="#e03038" stroke="#1a0a0a" stroke-width="1"/>
<circle cx="465.7" cy="90.3" r="0.5" fill="#f4a0a8" stroke="#1a0a0a" stroke-width="1"/>
<circle cx="472.5" cy="87.1" r="0.8" fill="#f4a0a8" stroke="#1a0a0a" stroke-width="1"/>
<circle cx="474.0" cy="82.9" r="1.0" fill="#701018" stroke="#1a0a0a" stroke-width="1"/>
<circle cx="487.0" cy="68.2" r="0.5" fill="#f4a0a8" stroke="#1a0a0a" stroke-width="1"/>
<circle cx="467.0" cy="88.4" r="1.2" fill="#fff" stroke="#1a0a0a" stroke-width="1"/>
<circle cx="477.4" cy="76.6" r="1.5" fill="#f07078" stroke="#1a0a0a" stroke-width="1"/>
<circle cx="474.7" cy="73.2" r="1.0" fill="#f8d8dc" stroke="#1a0a0a" stroke-width="1"/>
<circle cx="466.2" cy="89.2" r="1.0" fill="#701018" stroke="#1a0a0a" stroke-width="1"/>
<circle cx="465.2" cy="90.7" r="0.8" fill="#f07078" stroke="#1a0a0a" stroke-width="1"/>
<circle cx="473.3" cy="87.4" r="1.2" fill="#fff" stroke="#1a0a0a" stroke-width="1"/>
<circle cx="471.8" cy="85.8" r="0.8" fill="#301010" stroke="#1a0a0a" stroke-width="1"/>
<circle cx="473.5" cy="83.6" r="1.8" fill="#f8d8dc" stroke="#1a0a0a" stroke-width="1"/>
<circle cx="468.4" cy="88.2" r="1.2" fill="#301010" stroke="#1a0a0a" stroke-width="1"/>
<circle cx="474.5" cy="68.9" r="1.5" fill="#fff" stroke="#1a0a0a" stroke-width="1"/>
<circle cx="472.7" cy="81.9" r="1.8" fill="#f8d8dc" stroke="#1a0a0a" stroke-width="1"/>
<circle cx="483.7" cy="71.3" r="1.5" fill="#e03038" stroke="#1a0a0a" stroke-width="1"/>
<circle cx="466.3" cy="89.3" r="1.2" fill="#701018" stroke="#1a0a0a" stroke-width="1"/>
<circle cx="469.6" cy="89.0" r="1.0" fill="#701018" stroke="#1a0a0a" stroke-width="1"/>
<circle cx="470.1" cy="85.1" r="0.6" fill="#f07078" stroke="#1a0a0a" stroke-width="1"/>
<circle cx="467.8" cy="88.0" r="0.5" fill="#f8d8dc" stroke="#1a0a0a" stroke-width="1"/>
<circle cx="479.6" cy="75.2" r="1.0" fill="#fff" stroke="#1a0a0a" stroke-width="1"/>
<circle cx="469.7" cy="86.7" r="1.2" fill="#f07078" stroke="#1a0a0a" stroke-width="1"/>
<circle cx="467.2" cy="86.5" r="0.5" fill="#f07078" stroke="#1a0a0a" stroke-width="1"/>
<circle cx="466.5" cy="90.6" r="1.2" fill="#f8d8dc" stroke="#1a0a0a" stroke-width="1"/>
<circle cx="482.8" cy="80.2" r="1.5" fill="#e03038" stroke="#1a0a0a" stroke-width="1"/>
<circle cx="466.6" cy="92.1" r="0.6" fill="#701018" stroke="#1a0a0a" stroke-width="1"/>
<circle cx="466.4" cy="88.1" r="0.6" fill="#e03038" stroke="#1a0a0a" stroke-width="1"/>
<circle cx="471.1" cy="75.4" r="0.6" fill="#e03038" stroke="#1a0a0a" stroke-width="1"/>
<circle cx="488.2" cy="69.8" r="1.0" fill="#fff" stroke="#1a0a0a" stroke-width="1"/>
<circle cx="472.4" cy="87.1" r="1.5" fill="#701018" stroke="#1a0a0a" stroke-width="1"/>
<circle cx="465.9" cy="91.0" r="1.0" fill="#f07078" stroke="#1a0a0a" stroke-width="1"/>
<circle cx="466.0" cy="81.5" r="0.8" fill="#fff" stroke="#1a0a0a" stroke-width="1"/>
<circle cx="479.7" cy="75.0" r="1.8" fill="#701018" stroke="#1a0a0a" stroke-width="1"/>
<circle cx="466.4" cy="83.2" r="1.8" fill="#f8d8dc" stroke="#1a0a0a" stroke-width="1"/>
<circle cx="468.5" cy="87.3" r="1.0" fill="#701018" stroke="#1a0a0a" stroke-width="1"/>
<circle cx="473.3" cy="80.3" r="0.5" fill="#e03038" stroke="#1a0a0a" stroke-width="1"/>
<circle cx="472.4" cy="73.7" r="1.2" fill="#f8d8dc" stroke="#1a0a0a" stroke-width="1"/>
<circle cx="482.8" cy="76.0" r="0.5" fill="#f8d8dc" stroke="#1a0a0a" stroke-width="1"/>
<circle cx="465.5" cy="85.7" r="1.8" fill="#fff" stroke="#1a0a0a" stroke-width="1"/>
<circle cx="466.7" cy="90.4" r="0.8" fill="#e03038" stroke="#1a0a0a" stroke-width="1"/>
<circle cx="465.5" cy="90.5" r="1.2" fill="#301010" stroke="#1a0a0a" stroke-width="1"/>
<circle cx="471.2" cy="78.8" r="1.0" fill="#f07078" stroke="#1a0a0a" stroke-width="1"/>
<circle cx="481.6" cy="82.4" r="0.6" fill="#e03038" stroke="#1a0a0a" stroke-width="1"/>
<circle cx="469.1" cy="85.6" r="0.8" fill="#f8d8dc" stroke="#1a0a0a" stroke-width="1"/>
<circle cx="466.4" cy="85.9" r="0.6" fill="#fff" stroke="#1a0a0a" stroke-width="1"/>
<circle cx="471.7" cy="83.7" r="1.5" fill="#f8d8dc" stroke="#1a0a0a" stroke-width="1"/>
<circle cx="468.4" cy="83.5" r="0.6" fill="#301010" stroke="#1a0a0a" stroke-width="1"/>
<circle cx="476.0" cy="83.0" r="0.8" fill="#f07078" stroke="#1a0a0a" stroke-width="1"/>
<circle cx="471.7" cy="76.0" r="0.5" fill="#fff" stroke="#1a0a0a" stroke-width="1"/>
<circle cx="465.6" cy="91.2" r="0.8" fill="#f8d8dc" stroke="#1a0a0a" stroke-width="1"/>
<circle cx="472.7" cy="81.9" r="0.6" fill="#301010" stroke="#1a0a0a" stroke-width="1"/>
<circle cx="465.5" cy="71.9" r="1.0" fill="#fff" stroke="#1a0a0a" stroke-width="1"/>
<circle cx="465.6" cy="83.7" r="1.0" fill="#f4a0a8" stroke="#1a0a0a" stroke-width="1"/>
<circle cx="473.2" cy="75.4" r="0.5" fill="#fff" stroke="#1a0a0a" stroke-width="1"/>
<circle cx="470.1" cy="87.1" r="1.5" fill="#701018" stroke="#1a0a0a" stroke-width="1"/>
<circle cx="470.3" cy="74.8" r="1.2" fill="#f8d8dc" stroke="#1a0a0a" stroke-width="1"/>
<circle cx="480.1" cy="71.5" r="1.0" fill="#f8d8dc" stroke="#1a0a0a" stroke-width="1"/>
<circle cx="471.9" cy="86.3" r="1.0" fill="#fff" stroke="#1a0a0a" stroke-width="1"/>
<circle cx="467.9" cy="88.6" r="1.0" fill="#701018" stroke="#1a0a0a" stroke-width="1"/>
<circle cx="467.2" cy="80.0" r="0.5" fill="#f07078" stroke="#1a0a0a" stroke-width="1"/>
<circle cx="476.8" cy="73.9" r="1.0" fill="#f8d8dc" stroke="#1a0a0a" stroke-width="1"/>
<circle cx="468.1" cy="85.1" r="1.5" fill="#701018" stroke="#1a0a0a" stroke-width="1"/>
<circle cx="479.3" cy="79.8" r="0.8" fill="#e03038" stroke="#1a0a0a" stroke-width="1"/>
<circle cx="481.6" cy="80.8" r="1.8" fill="#e03038" stroke="#1a0a0a" stroke-width="1"/>
<circle cx="465.7" cy="87.1" r="0.6" fill="#f4a0a8" stroke="#1a0a0a" stroke-width="1"/>
<circle cx="472.9" cy="79.8" r="0.8" fill="#f07078" stroke="#1a0a0a" stroke-width="1"/>
<circle cx="472.1" cy="83.5" r="1.8" fill="#f8d8dc" stroke="#1a0a0a" stroke-width="1"/>
<circle cx="465.7" cy="83.0" r="1.5" fill="#301010" stroke="#1a0a0a" stroke-width="1"/>
<circle cx="467.3" cy="84.8" r="0.6" fill="#f4a0a8" stroke="#1a0a0a" stroke-width="1"/>
<circle cx="468.0" cy="90.8" r="1.5" fill="#f4a0a8" stroke="#1a0a0a" stroke-width="1"/>
<circle cx="465.7" cy="92.2" r="0.5" fill="#f07078" stroke="#1a0a0a" stroke-width="1"/>
<circle cx="465.6" cy="91.0" r="1.0" fill="#e03038" stroke="#1a0a0a" stroke-width="1"/>
<circle cx="468.3" cy="89.5" r="1.2" fill="#e03038" stroke="#1a0a0a" stroke-width="1"/>
<circle cx="470.6" cy="80.4" r="0.8" fill="#f4a0a8" stroke="#1a0a0a" stroke-width="1"/>
<circle cx="483.1" cy="78.8" r="1.2" fill="#f4a0a8" stroke="#1a0a0a" stroke-width="1"/>
<circle cx="465.4" cy="91.8" r="0.8" fill="#f8d8dc" stroke="#1a0a0a" stroke-width="1"/>
<circle cx="468.5" cy="85.6" r="1.8" fill="#fff" stroke="#1a0a0a" stroke-width="1"/>
<circle cx="469.4" cy="84.7" r="0.5" fill="#f07078" stroke="#1a0a0a" stroke-width="1"/>
<circle cx="466.0" cy="77.6" r="1.5" fill="#e03038" stroke="#1a0a0a" stroke-width="1"/>
<circle cx="477.7" cy="84.6" r="0.8" fill="#f4a0a8" stroke="#1a0a0a" stroke-width="1"/>
<circle cx="468.1" cy="90.6" r="1.5" fill="#f8d8dc" stroke="#1a0a0a" stroke-width="1"/>
<circle cx="470.3" cy="79.3" r="1.2" fill="#e03038" stroke="#1a0a0a" stroke-width="1"/>
<circle cx="465.3" cy="82.5" r="1.8" fill="#301010" stroke="#1a0a0a" stroke-width="1"/>
<circle cx="466.4" cy="85.8" r="1.0" fill="#301010" stroke="#1a0a0a" stroke-width="1"/>
<circle cx="471.5" cy="84.8" r="1.5" fill="#701018" stroke="#1a0a0a" stroke-width="1"/>
<circle cx="473.9" cy="78.3" r="0.6" fill="#f4a0a8" stroke="#1a0a0a" stroke-width="1"/>
<circle cx="468.8" cy="87.6" r="0.8" fill="#301010" stroke="#1a0a0a" stroke-width="1"/>
<circle cx="475.1" cy="78.1" r="0.8" fill="#301010" stroke="#1a0a0a" stroke-width="1"/>
<circle cx="474.6" cy="80.3" r="1.8" fill="#701018" stroke="#1a0a0a" stroke-width="1"/>
<circle cx="468.0" cy="86.9" r="1.2" fill="#e03038" stroke="#1a0a0a" stroke-width="1"/>
<circle cx="474.6" cy="86.1" r="0.8" fill="#301010" stroke="#1a0a0a" stroke-width="1"/>
<circle cx="482.3" cy="70.1" r="0.8" fill="#f4a0a8" stroke="#1a0a0a" stroke-width="1"/>
<circle cx="471.7" cy="73.5" r="0.5" fill="#301010" stroke="#1a0a0a" stroke-width="1"/>
<circle cx="468.2" cy="78.8" r="1.8" fill="#301010" stroke="#1a0a0a" stroke-width="1"/>
<circle cx="470.9" cy="88.6" r="0.5" fill="#e03038" stroke="#1a0a0a" stroke-width="1"/>
<circle cx="469.4" cy="80.4" r="0.6" fill="#fff" stroke="#1a0a0a" stroke-width="1"/>
<circle cx="474.8" cy="77.9" r="0.6" fill="#f07078" stroke="#1a0a0a" stroke-width="1"/>
<circle cx="482.2" cy="79.0" r="0.5" fill="#fff" stroke="#1a0a0a" stroke-width="1"/>
<circle cx="480.5" cy="73.9" r="0.8" fill="#301010" stroke="#1a0a0a" stroke-width="1"/>
<circle cx="468.9" cy="90.4" r="0.5" fill="#301010" stroke="#1a0a0a" stroke-width="1"/>
<circle cx="470.7" cy="81.9" r="1.5" fill="#fff" stroke="#1a0a0a" stroke-width="1"/>
<circle cx="468.0" cy="88.9" r="1.0" fill="#301010" stroke="#1a0a0a" stroke-width="1"/>
<circle cx="470.3" cy="78.8" r="0.5" fill="#fff" stroke="#1a0a0a" stroke-width="1"/>
<circle cx="477.4" cy="78.4" r="0.6" fill="#f8d8dc" stroke="#1a0a0a" stroke-width="1"/>
<circle cx="474.5" cy="74.5" r="1.8" fill="#701018" stroke="#1a0a0a" stroke-width="1"/>
<circle cx="465.8" cy="89.1" r="0.6" fill="#e03038" stroke="#1a0a0a" stroke-width="1"/>
<circle cx="466.8" cy="77.1" r="0.6" fill="#f07078" stroke="#1a0a0a" stroke-width="1"/>
<circle cx="469.7" cy="82.0" r="1.0" fill="#f4a0a8" stroke="#1a0a0a" stroke-width="1"/>
<circle cx="468.4" cy="76.1" r="0.8" fill="#f8d8dc" stroke="#1a0a0a" stroke-width="1"/>
<circle cx="476.1" cy="77.9" r="1.2" fill="#301010" stroke="#1a0a0a" stroke-width="1"/>
<circle cx="472.6" cy="80.7" r="0.6" fill="#301010" stroke="#1a0a0a" stroke-width="1"/>
<circle cx="480.2" cy="78.9" r="0.8" fill="#701018" stroke="#1a0a0a" stroke-width="1"/>
<circle cx="468.0" cy="81.0" r="1.2" fill="#e03038" stroke="#1a0a0a" stroke-width="1"/>
<circle cx="470.5" cy="80.9" r="0.8" fill="#e03038" stroke="#1a0a0a" stroke-width="1"/>
<circle cx="475.4" cy="85.4" r="1.5" fill="#e03038" stroke="#1a0a0a" stroke-width="1"/>
<circle cx="472.8" cy="78.9" r="0.5" fill="#f07078" stroke="#1a0a0a" stroke-width="1"/>
<circle cx="474.2" cy="80.0" r="1.5" fill="#fff" stroke="#1a0a0a" stroke-width="1"/>
<circle cx="465.7" cy="85.8" r="1.8" fill="#701018" stroke="#1a0a0a" stroke-width="1"/>
<circle cx="472.1" cy="79.5" r="0.8" fill="#f07078" stroke="#1a0a0a" stroke-width="1"/>
<circle cx="466.6" cy="83.8" r="1.8" fill="#e03038" stroke="#1a0a0a" stroke-width="1"/>
<circle cx="474.5" cy="68.2" r="1.2" fill="#fff" stroke="#1a0a0a" stroke-width="1"/>
<circle cx="475.4" cy="86.5" r="1.0" fill="#e03038" stroke="#1a0a0a" stroke-width="1"/>
<circle cx="467.3" cy="89.0" r="1.2" fill="#701018" stroke="#1a0a0a" stroke-width="1"/>
<circle cx="472.6" cy="74.2" r="0.8" fill="#f07078" stroke="#1a0a0a" stroke-width="1"/>
<circle cx="473.4" cy="74.1" r="1.8" fill="#e03038" stroke="#1a0a0a" stroke-width="1"/>
<circle cx="473.1" cy="85.7" r="0.8" fill="#f4a0a8" stroke="#1a0a0a" stroke-width="1"/>
<circle cx="470.4" cy="82.7" r="1.0" fill="#701018" stroke="#1a0a0a" stroke-width="1"/>
<circle cx="465.8" cy="77.4" r="1.2" fill="#f8d8dc" stroke="#1a0a0a" stroke-width="1"/>
<circle cx="468.1" cy="85.2" r="0.5" fill="#301010" stroke="#1a0a0a" stroke-width="1"/>
<circle cx="473.2" cy="79.2" r="1.5" fill="#f07078" stroke="#1a0a0a" stroke-width="1"/>
<circle cx="468.6" cy="87.5" r="0.5" fill="#f4a0a8" stroke="#1a0a0a" stroke-width="1"/>
<circle cx="469.6" cy="88.5" r="1.5" fill="#f07078" stroke="#1a0a0a" stroke-width="1"/>
<circle cx="471.3" cy="72.5" r="1.0" fill="#e03038" stroke="#1a0a0a" stroke-width="1"/>
<circle cx="465.6" cy="91.7" r="1.8" fill="#701018" stroke="#1a0a0a" stroke-width="1"/>
<circle cx="471.4" cy="80.8" r="1.5" fill="#f8d8dc" stroke="#1a0a0a" stroke-width="1"/>
<circle cx="466.4" cy="84.8" r="1.0" fill="#fff" stroke="#1a0a0a" stroke-width="1"/>
<circle cx="466.9" cy="69.0" r="0.6" fill="#f07078" stroke="#1a0a0a" stroke-width="1"/>
<circle cx="477.4" cy="80.7" r="0.6" fill="#301010" stroke="#1a0a0a" stroke-width="1"/>
<circle cx="466.8" cy="84.7" r="0.5" fill="#301010" stroke="#1a0a0a" stroke-width="1"/>
<circle cx="468.5" cy="88.5" r="1.0" fill="#f07078" stroke="#1a0a0a" stroke-width="1"/>
<circle cx="482.1" cy="81.5" r="0.6" fill="#701018" stroke="#1a0a0a" stroke-width="1"/>
<circle cx="466.7" cy="87.7" r="1.5" fill="#fff" stroke="#1a0a0a" stroke-width="1"/>
<circle cx="469.7" cy="87.8" r="0.8" fill="#f07078" stroke="#1a0a0a" stroke-width="1"/>
<circle cx="467.9" cy="82.3" r="1.0" fill="#fff" stroke="#1a0a0a" stroke-width="1"/>
<circle cx="471.7" cy="79.7" r="1.2" fill="#f8d8dc" stroke="#1a0a0a" stroke-width="1"/>
<circle cx="468.7" cy="83.9" r="0.6" fill="#f8d8dc" stroke="#1a0a0a" stroke-width="1"/>
<circle cx="467.1" cy="83.8" r="1.5" fill="#701018" stroke="#1a0a0a" stroke-width="1"/>
<circle cx="473.9" cy="83.8" r="1.0" fill="#f4a0a8" stroke="#1a0a0a" stroke-width="1"/>
<circle cx="467.0" cy="89.2" r="0.6" fill="#f07078" stroke="#1a0a0a" stroke-width="1"/>
<circle cx="465.2" cy="81.5" r="1.5" fill="#fff" stroke="#1a0a0a" stroke-width="1"/>
<circle cx="477.5" cy="74.3" r="0.5" fill="#f4a0a8" stroke="#1a0a0a" stroke-width="1"/>
<circle cx="472.9" cy="86.9" r="0.6" fill="#fff" stroke="#1a0a0a" stroke-width="1"/>
<circle cx="471.6" cy="81.0" r="1.5" fill="#701018" stroke="#1a0a0a" stroke-width="1"/>
<circle cx="471.7" cy="86.4" r="1.8" fill="#e03038" stroke="#1a0a0a" stroke-width="1"/>
<circle cx="469.0" cy="85.2" r="1.8" fill="#e03038" stroke="#1a0a0a" stroke-width="1"/>
<circle cx="473.9" cy="78.1" r="0.8" fill="#f07078" stroke="#1a0a0a" stroke-width="1"/>
<circle cx="496.7" cy="71.9" r="0.5" fill="#301010" stroke="#1a0a0a" stroke-width=".9"/>
<circle cx="483.4" cy="81.7" r="0.5" fill="#e03038" stroke="#1a0a0a" stroke-width=".9"/>
<circle cx="498.3" cy="71.7" r="0.7" fill="#e03038" stroke="#1a0a0a" stroke-width=".9"/>
<circle cx="487.9" cy="79.0" r="0.5" fill="#e03038" stroke="#1a0a0a" stroke-width=".9"/>
<circle cx="497.0" cy="72.2" r="0.7" fill="#f4a0a8" stroke="#1a0a0a" stroke-width=".9"/>
<circle cx="497.1" cy="71.9" r="0.7" fill="#e03038" stroke="#1a0a0a" stroke-width=".9"/>
<circle cx="490.0" cy="77.0" r="0.9" fill="#f4a0a8" stroke="#1a0a0a" stroke-width=".9"/>
<circle cx="473.6" cy="87.6" r="0.7" fill="#f4a0a8" stroke="#1a0a0a" stroke-width=".9"/>
<circle cx="492.3" cy="74.7" r="0.5" fill="#e03038" stroke="#1a0a0a" stroke-width=".9"/>
<circle cx="491.5" cy="75.6" r="0.5" fill="#301010" stroke="#1a0a0a" stroke-width=".9"/>
<circle cx="473.1" cy="88.0" r="0.5" fill="#301010" stroke="#1a0a0a" stroke-width=".9"/>
<circle cx="487.0" cy="78.5" r="0.5" fill="#e03038" stroke="#1a0a0a" stroke-width=".9"/>
<circle cx="474.5" cy="86.8" r="0.5" fill="#301010" stroke="#1a0a0a" stroke-width=".9"/>
<circle cx="477.3" cy="85.0" r="0.5" fill="#301010" stroke="#1a0a0a" stroke-width=".9"/>
<circle cx="473.9" cy="87.7" r="0.5" fill="#e03038" stroke="#1a0a0a" stroke-width=".9"/>
<circle cx="490.4" cy="77.2" r="0.7" fill="#f4a0a8" stroke="#1a0a0a" stroke-width=".9"/>
<circle cx="475.5" cy="86.7" r="0.5" fill="#301010" stroke="#1a0a0a" stroke-width=".9"/>
<circle cx="470.4" cy="89.7" r="0.9" fill="#f4a0a8" stroke="#1a0a0a" stroke-width=".9"/>
<circle cx="486.2" cy="80.3" r="0.5" fill="#301010" stroke="#1a0a0a" stroke-width=".9"/>
<circle cx="495.5" cy="72.4" r="0.5" fill="#301010" stroke="#1a0a0a" stroke-width=".9"/>
<circle cx="478.9" cy="82.4" r="0.7" fill="#301010" stroke="#1a0a0a" stroke-width=".9"/>
<circle cx="495.7" cy="74.4" r="0.9" fill="#301010" stroke="#1a0a0a" stroke-width=".9"/>
<circle cx="488.1" cy="78.5" r="0.5" fill="#301010" stroke="#1a0a0a" stroke-width=".9"/>
<circle cx="479.7" cy="82.9" r="0.7" fill="#f4a0a8" stroke="#1a0a0a" stroke-width=".9"/>
<circle cx="485.1" cy="80.8" r="0.9" fill="#301010" stroke="#1a0a0a" stroke-width=".9"/>
<circle cx="483.8" cy="80.4" r="0.5" fill="#f4a0a8" stroke="#1a0a0a" stroke-width=".9"/>
<circle cx="484.6" cy="80.7" r="0.7" fill="#e03038" stroke="#1a0a0a" stroke-width=".9"/>
<circle cx="486.7" cy="78.9" r="0.5" fill="#301010" stroke="#1a0a0a" stroke-width=".9"/>
<circle cx="488.1" cy="77.7" r="0.7" fill="#e03038" stroke="#1a0a0a" stroke-width=".9"/>
<circle cx="485.3" cy="78.6" r="0.7" fill="#f4a0a8" stroke="#1a0a0a" stroke-width=".9"/>
<circle cx="492.1" cy="74.8" r="0.9" fill="#301010" stroke="#1a0a0a" stroke-width=".9"/>
<circle cx="491.7" cy="76.0" r="0.5" fill="#301010" stroke="#1a0a0a" stroke-width=".9"/>
<circle cx="484.6" cy="80.7" r="0.7" fill="#e03038" stroke="#1a0a0a" stroke-width=".9"/>
<circle cx="474.4" cy="86.4" r="0.9" fill="#e03038" stroke="#1a0a0a" stroke-width=".9"/>
<circle cx="490.4" cy="76.9" r="0.7" fill="#301010" stroke="#1a0a0a" stroke-width=".9"/>
<circle cx="490.0" cy="76.9" r="0.9" fill="#f4a0a8" stroke="#1a0a0a" stroke-width=".9"/>
<circle cx="477.2" cy="83.9" r="0.9" fill="#f4a0a8" stroke="#1a0a0a" stroke-width=".9"/>
<circle cx="497.6" cy="72.5" r="0.5" fill="#e03038" stroke="#1a0a0a" stroke-width=".9"/>
<circle cx="498.3" cy="72.0" r="0.7" fill="#301010" stroke="#1a0a0a" stroke-width=".9"/>
<circle cx="469.5" cy="90.5" r="0.5" fill="#e03038" stroke="#1a0a0a" stroke-width=".9"/>
<circle cx="473.2" cy="86.5" r="0.7" fill="#f4a0a8" stroke="#1a0a0a" stroke-width=".9"/>
<circle cx="488.9" cy="77.5" r="0.9" fill="#f4a0a8" stroke="#1a0a0a" stroke-width=".9"/>
<circle cx="483.6" cy="81.2" r="0.9" fill="#f4a0a8" stroke="#1a0a0a" stroke-width=".9"/>
<circle cx="469.7" cy="90.1" r="0.9" fill="#e03038" stroke="#1a0a0a" stroke-width=".9"/>
<circle cx="497.7" cy="71.1" r="0.5" fill="#f4a0a8" stroke="#1a0a0a" stroke-width=".9"/>
<circle cx="480.9" cy="83.4" r="0.9" fill="#f4a0a8" stroke="#1a0a0a" stroke-width=".9"/>
<circle cx="470.8" cy="89.1" r="0.9" fill="#f4a0a8" stroke="#1a0a0a" stroke-width=".9"/>
<circle cx="470.2" cy="90.5" r="0.9" fill="#e03038" stroke="#1a0a0a" stroke-width=".9"/>
<circle cx="497.3" cy="71.3" r="0.9" fill="#f4a0a8" stroke="#1a0a0a" stroke-width=".9"/>
<circle cx="484.1" cy="80.5" r="0.9" fill="#e03038" stroke="#1a0a0a" stroke-width=".9"/>
<circle cx="476.0" cy="85.3" r="0.9" fill="#301010" stroke="#1a0a0a" stroke-width=".9"/>
<circle cx="495.7" cy="73.3" r="0.9" fill="#e03038" stroke="#1a0a0a" stroke-width=".9"/>
</g>
<line x1="465" y1="24.5" x2="465" y2="151.5" stroke="#1a1a1a" stroke-width="1.4" stroke-dasharray="6.2 3.2"/>
<line x1="408" y1="94" x2="535" y2="94" stroke="#1a1a1a" stroke-width="1.4" stroke-dasharray="6.2 3.2"/>
<circle cx="471.4" cy="89.3" r="3.6" fill="#f8c0c8" stroke="#1a0a0a" stroke-width="1.4"/>
<text x="411.80" y="35.40" font-size="11" font-weight="bold" stroke="#111" stroke-width="0.18" textLength="42.6" lengthAdjust="spacingAndGlyphs">siEPIC1</text>
<rect x="489" y="81" width="42" height="10.5" fill="#fff" fill-opacity=".85"/>
<text x="490" y="90" font-size="11.6" font-weight="bold" stroke="#111" stroke-width=".2" textLength="42" lengthAdjust="spacingAndGlyphs"><tspan font-style="italic">n</tspan> = 1323</text>
<rect x="562.5" y="26" width="127" height="125.5" fill="#fff" stroke="#111" stroke-width="1.2"/>
<g clip-path="url(#ce2)">
<path d="M626.0 76.8h0M632.7 67.6h0M640.1 63.0h0M664.6 47.7h0M630.9 63.6h0M668.7 34.9h0M669.7 34.3h0M640.7 32.0h0" stroke="#2a0c0e" stroke-width="1.0" stroke-linecap="round" fill="none"/>
<path d="M662.0 44.2h0M650.7 36.0h0M625.8 41.3h0" stroke="#2a0c0e" stroke-width="1.2" stroke-linecap="round" fill="none"/>
<path d="M642.2 71.8h0M622.4 68.9h0M665.3 42.2h0M657.8 41.7h0M637.6 44.1h0M637.8 44.0h0M649.4 31.6h0" stroke="#2a0c0e" stroke-width="1.6" stroke-linecap="round" fill="none"/>
<path d="M649.1 67.5h0M649.8 62.0h0M650.6 56.4h0M623.8 62.9h0M635.9 50.3h0M641.7 36.5h0M625.6 46.5h0" stroke="#2a0c0e" stroke-width="2.0" stroke-linecap="round" fill="none"/>
<path d="M626.1 100.6h0" stroke="#3a7a9a" stroke-width="1.6" stroke-linecap="round" fill="none"/>
<path d="M632.6 77.8h0M657.6 62.2h0M660.7 50.1h0M631.6 52.9h0M650.9 40.9h0M634.7 45.9h0" stroke="#5a1216" stroke-width="1.0" stroke-linecap="round" fill="none"/>
<path d="M641.0 62.4h0M641.0 42.0h0" stroke="#5a1216" stroke-width="1.2" stroke-linecap="round" fill="none"/>
<path d="M668.6 55.4h0M627.6 81.0h0M622.2 79.2h0M636.9 59.8h0M652.8 50.0h0M621.8 59.0h0M629.4 49.2h0M625.5 51.6h0" stroke="#5a1216" stroke-width="1.6" stroke-linecap="round" fill="none"/>
<path d="M654.8 64.0h0M642.8 66.3h0M624.8 62.3h0M636.8 49.7h0M626.7 45.8h0M621.9 38.6h0" stroke="#5a1216" stroke-width="2.0" stroke-linecap="round" fill="none"/>
<path d="M653.5 59.7h0M649.7 62.0h0M627.1 60.9h0M625.5 87.3h0M669.3 60.1h0M645.6 74.8h0M623.5 88.7h0M640.2 77.9h0M663.7 63.5h0M656.7 67.9h0M666.0 62.5h0M649.6 72.2h0M643.2 76.4h0M659.0 66.8h0M671.8 58.2h0M661.4 64.3h0M657.7 67.2h0" stroke="#8a181e" stroke-width="1.0" stroke-linecap="round" fill="none"/>
<path d="M669.5 44.6h0M666.0 41.7h0M669.0 34.7h0M625.5 46.6h0M657.4 67.5h0M637.8 79.5h0M643.1 76.2h0M657.0 67.9h0M660.2 66.3h0M630.9 84.2h0M677.6 54.4h0M657.3 66.6h0M645.2 74.8h0M645.8 75.2h0M671.4 58.7h0M657.3 67.6h0" stroke="#8a181e" stroke-width="1.2" stroke-linecap="round" fill="none"/>
<path d="M590.3 58.3h0M652.5 70.7h0M637.7 79.4h0M627.9 86.0h0M681.7 52.3h0M680.4 52.3h0M682.0 51.7h0M628.4 85.1h0M665.2 63.0h0M664.0 63.5h0M623.5 88.4h0M632.6 82.8h0M634.5 82.0h0M651.2 71.4h0" stroke="#8a181e" stroke-width="1.4" stroke-linecap="round" fill="none"/>
<path d="M646.3 69.3h0M635.8 75.8h0M623.5 78.4h0M623.8 73.1h0M664.1 48.0h0M626.6 66.2h0M640.8 57.4h0M661.4 34.4h0M625.4 36.5h0" stroke="#8a181e" stroke-width="1.6" stroke-linecap="round" fill="none"/>
<path d="M651.6 71.6h0M675.6 56.2h0M627.6 85.8h0M641.4 76.3h0M648.8 72.7h0M628.8 85.2h0M648.6 72.9h0M672.3 58.1h0M653.6 69.8h0M627.7 86.6h0" stroke="#8a181e" stroke-width="1.8" stroke-linecap="round" fill="none"/>
<path d="M646.0 64.4h0M659.7 50.7h0M621.8 74.3h0M622.9 53.3h0M639.9 32.5h0M582.3 58.2h0" stroke="#8a181e" stroke-width="2.0" stroke-linecap="round" fill="none"/>
<path d="M584.6 56.7h0M609.3 56.6h0" stroke="#8a181e" stroke-width="2.6" stroke-linecap="round" fill="none"/>
<path d="M615.7 52.6h0M585.1 51.4h0M579.6 59.9h0" stroke="#8a181e" stroke-width="3.2" stroke-linecap="round" fill="none"/>
<path d="M636.8 99.4h0M625.2 96.5h0M645.0 105.1h0" stroke="#8a98a8" stroke-width="1.0" stroke-linecap="round" fill="none"/>
<path d="M628.3 100.6h0M661.4 119.6h0M624.0 96.3h0M622.4 102.3h0" stroke="#8a98a8" stroke-width="1.4" stroke-linecap="round" fill="none"/>
<path d="M599.3 73.2h0M602.3 65.8h0M599.5 63.9h0M594.2 59.5h0M591.3 63.1h0M595.0 60.8h0" stroke="#a01418" stroke-width="1.8" stroke-linecap="round" fill="none"/>
<path d="M620.3 84.7h0M610.1 74.9h0M609.6 66.8h0M597.4 65.1h0" stroke="#a01418" stroke-width="2.4" stroke-linecap="round" fill="none"/>
<path d="M614.8 74.9h0" stroke="#a01418" stroke-width="3.0" stroke-linecap="round" fill="none"/>
<path d="M593.8 46.0h0M589.2 53.9h0M603.4 60.3h0" stroke="#a81c24" stroke-width="1.4" stroke-linecap="round" fill="none"/>
<path d="M613.3 44.0h0" stroke="#a81c24" stroke-width="2.0" stroke-linecap="round" fill="none"/>
<path d="M605.7 53.8h0M620.1 60.1h0" stroke="#a81c24" stroke-width="3.2" stroke-linecap="round" fill="none"/>
<path d="M599.8 112.0h0" stroke="#b01c2c" stroke-width="2.2" stroke-linecap="round" fill="none"/>
<path d="M612.0 69.8h0M607.0 73.3h0M605.0 64.7h0" stroke="#b81820" stroke-width="1.8" stroke-linecap="round" fill="none"/>
<path d="M612.9 73.0h0M599.5 72.2h0M607.5 68.0h0M586.1 61.3h0" stroke="#b81820" stroke-width="2.4" stroke-linecap="round" fill="none"/>
<path d="M606.6 79.7h0M610.8 61.2h0M597.9 59.9h0" stroke="#b81820" stroke-width="3.0" stroke-linecap="round" fill="none"/>
<path d="M661.1 115.9h0" stroke="#b8c0cc" stroke-width="0.8" stroke-linecap="round" fill="none"/>
<path d="M626.6 102.6h0M640.8 116.6h0" stroke="#b8c0cc" stroke-width="1.0" stroke-linecap="round" fill="none"/>
<path d="M632.3 104.2h0M645.8 117.6h0M628.4 112.8h0" stroke="#b8c0cc" stroke-width="1.4" stroke-linecap="round" fill="none"/>
<path d="M627.9 80.7h0M634.4 76.7h0M630.0 79.4h0M657.2 57.4h0M639.4 68.4h0M642.5 61.5h0M648.6 47.4h0M645.7 49.3h0M665.4 31.9h0M624.7 52.2h0M624.9 41.9h0" stroke="#c0202a" stroke-width="1.0" stroke-linecap="round" fill="none"/>
<path d="M647.9 63.2h0M624.9 72.4h0M637.9 43.9h0M638.8 38.3h0" stroke="#c0202a" stroke-width="1.2" stroke-linecap="round" fill="none"/>
<path d="M636.4 75.4h0M623.8 78.2h0M646.6 64.0h0M625.3 56.9h0M630.2 43.6h0M625.4 41.5h0M624.2 37.2h0" stroke="#c0202a" stroke-width="1.6" stroke-linecap="round" fill="none"/>
<path d="M634.9 76.4h0M655.4 53.4h0M621.8 69.2h0M660.7 34.8h0M624.6 52.2h0M624.7 47.1h0M612.1 60.0h0M605.0 59.3h0M619.1 35.3h0M620.9 54.5h0M589.3 58.9h0" stroke="#c0202a" stroke-width="2.0" stroke-linecap="round" fill="none"/>
<path d="M579.4 49.8h0" stroke="#c0202a" stroke-width="2.6" stroke-linecap="round" fill="none"/>
<path d="M621.0 59.6h0M619.4 50.4h0" stroke="#c0202a" stroke-width="3.2" stroke-linecap="round" fill="none"/>
<path d="M616.6 72.0h0M614.9 66.9h0M603.1 76.2h0M620.0 59.1h0M602.5 69.3h0M607.2 63.9h0M603.3 59.8h0M594.7 59.0h0" stroke="#d01c24" stroke-width="1.8" stroke-linecap="round" fill="none"/>
<path d="M612.4 69.5h0M595.1 70.8h0M599.9 56.7h0M584.0 61.9h0" stroke="#d01c24" stroke-width="2.4" stroke-linecap="round" fill="none"/>
<path d="M618.7 69.7h0M613.9 63.5h0M620.6 60.1h0M596.8 65.6h0" stroke="#d01c24" stroke-width="3.0" stroke-linecap="round" fill="none"/>
<path d="M579.4 116.5h0" stroke="#d81c28" stroke-width="3.8" stroke-linecap="round" fill="none"/>
<path d="M640.6 72.8h0M626.1 76.8h0M635.7 60.6h0M622.1 69.1h0M669.8 34.2h0" stroke="#e05058" stroke-width="1.0" stroke-linecap="round" fill="none"/>
<path d="M645.8 69.6h0M664.2 53.0h0M650.4 56.5h0M665.9 41.8h0M646.3 54.0h0M649.3 47.0h0M640.4 52.5h0M622.9 58.4h0M622.1 58.9h0M629.3 39.1h0" stroke="#e05058" stroke-width="1.2" stroke-linecap="round" fill="none"/>
<path d="M655.3 63.7h0M630.8 73.8h0M636.8 54.8h0" stroke="#e05058" stroke-width="1.6" stroke-linecap="round" fill="none"/>
<path d="M641.5 46.8h0" stroke="#e05058" stroke-width="2.0" stroke-linecap="round" fill="none"/>
<path d="M623.5 88.6h0" stroke="#e81c22" stroke-width="1.0" stroke-linecap="round" fill="none"/>
<path d="M620.3 85.5h0M617.7 86.9h0M617.3 81.3h0M618.9 80.8h0M620.6 78.5h0M619.5 82.3h0M615.1 85.1h0M610.7 81.0h0M618.9 76.6h0M614.6 78.9h0M616.9 76.7h0M609.9 83.3h0M614.1 78.6h0M613.7 78.7h0M620.4 75.3h0M614.8 74.9h0M613.0 73.9h0M613.9 75.9h0M618.5 70.6h0M616.2 72.8h0M615.1 72.3h0M610.7 75.5h0M611.2 75.1h0M610.9 76.6h0M608.3 72.6h0M603.6 73.9h0M616.1 67.4h0M611.1 70.6h0M618.7 65.9h0M601.7 76.5h0M619.4 64.2h0M612.9 69.2h0M611.4 71.7h0M611.9 66.7h0M615.2 62.5h0M601.5 70.8h0M606.3 68.4h0M605.0 70.2h0M602.2 70.2h0M621.1 59.0h0M608.8 69.0h0M617.7 62.6h0M613.0 58.3h0M605.3 64.2h0M603.7 66.7h0M605.1 66.8h0M601.4 66.2h0M611.7 60.5h0M617.3 58.4h0M599.2 67.5h0M601.7 60.8h0M597.6 65.7h0M598.0 62.9h0M598.6 63.7h0M603.7 60.6h0M592.6 67.5h0M602.3 61.7h0M607.9 58.1h0M597.9 64.8h0M608.0 57.1h0M607.3 57.5h0M595.4 66.0h0M597.7 63.9h0M600.0 56.8h0M592.0 61.8h0M587.7 65.1h0M592.4 62.0h0M593.3 60.7h0M593.0 61.2h0M588.5 59.3h0M591.6 57.4h0M588.6 59.0h0" stroke="#e81c22" stroke-width="1.2" stroke-linecap="round" fill="none"/>
<path d="M619.6 87.3h0M619.7 79.4h0M615.3 83.9h0M619.6 79.4h0M616.5 81.6h0M618.4 82.2h0M617.3 77.0h0M617.3 78.8h0M621.5 74.9h0M612.7 80.4h0M619.6 77.5h0M620.7 75.0h0M613.2 80.0h0M619.6 71.5h0M612.5 75.9h0M618.1 70.8h0M616.3 73.6h0M608.7 76.5h0M609.7 77.1h0M613.3 72.6h0M605.9 81.2h0M615.6 71.3h0M607.8 76.9h0M608.8 77.0h0M610.4 71.4h0M612.5 69.8h0M607.2 74.4h0M604.8 75.7h0M617.1 66.6h0M608.4 74.3h0M621.3 60.9h0M614.1 62.3h0M602.1 71.0h0M613.1 63.8h0M610.2 65.9h0M600.1 67.2h0M610.2 60.4h0M607.7 64.0h0M612.9 59.4h0M613.0 61.0h0M599.5 69.2h0M594.1 72.2h0M600.8 68.1h0M615.8 57.4h0M602.9 66.2h0M614.2 59.2h0M596.7 71.7h0M593.0 66.6h0M595.3 66.7h0M592.4 67.7h0M593.7 67.1h0M604.1 58.7h0M589.8 69.6h0M599.3 63.3h0M593.9 66.6h0M597.0 64.6h0M597.1 59.1h0M598.6 57.1h0M595.8 55.3h0M627.7 85.1h0M623.5 88.1h0" stroke="#e81c22" stroke-width="1.4" stroke-linecap="round" fill="none"/>
<path d="M620.4 77.4h0M615.2 84.8h0M614.6 85.5h0M618.2 81.7h0M619.5 81.2h0M610.3 80.7h0M616.0 77.8h0M613.8 80.9h0M618.3 75.3h0M609.9 77.3h0M614.8 73.6h0M613.7 73.5h0M611.5 75.1h0M617.4 71.2h0M615.5 73.0h0M613.2 75.0h0M614.7 75.8h0M618.8 72.2h0M604.9 75.2h0M610.7 71.2h0M603.6 75.8h0M604.8 72.8h0M615.1 70.1h0M602.4 75.2h0M606.1 72.0h0M617.0 68.3h0M615.3 68.6h0M602.6 76.2h0M614.6 68.0h0M600.2 71.4h0M602.3 72.6h0M607.4 69.2h0M614.8 62.5h0M606.3 70.6h0M618.7 61.6h0M614.0 64.1h0M610.9 65.9h0M603.1 64.8h0M596.4 69.8h0M601.1 66.7h0M608.5 61.6h0M598.4 69.1h0M604.1 63.5h0M595.9 69.8h0M602.7 65.4h0M596.7 69.9h0M597.4 63.7h0M592.8 66.0h0M594.4 67.1h0M604.8 59.4h0M596.7 65.2h0M593.5 69.0h0M594.6 66.5h0M593.2 66.6h0M593.2 66.4h0M600.5 61.3h0M592.9 67.3h0M596.0 60.5h0M596.8 62.2h0M588.3 64.1h0M588.3 65.0h0M584.9 61.3h0M583.4 63.7h0M592.8 55.7h0M583.9 63.5h0" stroke="#e81c22" stroke-width="1.6" stroke-linecap="round" fill="none"/>
<path d="M620.2 83.9h0M618.4 86.5h0M614.9 82.1h0M615.7 83.5h0M612.3 80.1h0M618.4 75.5h0M610.7 81.3h0M614.6 78.6h0M613.0 77.9h0M618.5 77.4h0M613.5 78.6h0M615.6 72.6h0M621.2 70.6h0M609.8 78.9h0M603.5 76.1h0M602.8 75.9h0M608.4 73.4h0M613.5 70.2h0M608.9 73.3h0M605.1 75.0h0M602.5 70.1h0M607.9 66.1h0M606.3 68.0h0M602.2 72.2h0M613.2 65.2h0M605.4 69.4h0M601.5 73.5h0M604.6 67.8h0M609.5 66.4h0M617.1 62.3h0M600.5 74.4h0M612.7 64.2h0M606.3 63.7h0M598.8 66.9h0M599.2 68.3h0M609.4 59.9h0M600.1 67.8h0M615.1 58.9h0M599.5 67.6h0M610.4 60.8h0M596.4 69.1h0M608.7 61.5h0M603.9 60.0h0M591.0 67.7h0M600.5 60.2h0M604.9 58.2h0M605.0 58.8h0M595.2 65.0h0M586.6 66.3h0M590.8 63.0h0M597.4 58.1h0M585.0 62.1h0M590.2 58.6h0M582.4 64.6h0M586.0 58.9h0M623.1 88.1h0" stroke="#e81c22" stroke-width="1.8" stroke-linecap="round" fill="none"/>
<path d="M622.3 84.9h0M619.3 85.0h0M618.1 88.3h0M617.1 85.4h0M622.0 80.4h0M621.1 80.7h0M614.3 83.4h0M617.0 83.7h0M620.1 75.2h0M611.3 82.5h0M620.0 76.5h0M620.3 74.0h0M614.6 80.0h0M619.5 71.6h0M611.3 74.2h0M618.3 72.0h0M614.7 74.5h0M607.4 75.6h0M606.5 79.0h0M621.2 64.3h0M618.3 67.9h0M620.8 63.6h0M612.2 71.9h0M612.7 70.4h0M610.6 69.6h0M602.7 76.3h0M618.5 66.1h0M613.9 69.2h0M611.0 72.5h0M609.9 70.8h0M604.2 69.0h0M601.8 71.5h0M618.0 62.3h0M599.4 73.3h0M607.6 67.8h0M602.9 71.1h0M605.1 70.5h0M603.3 64.1h0M620.2 56.5h0M598.2 68.5h0M619.9 56.0h0M597.1 69.2h0M605.9 63.8h0M595.3 70.5h0M602.6 66.5h0M607.8 64.4h0M598.5 67.2h0M595.1 67.0h0M589.9 68.9h0M591.7 68.1h0M595.4 66.7h0M588.8 64.8h0M594.8 59.8h0M593.0 61.5h0M586.6 64.7h0M595.1 60.9h0M596.4 60.3h0M586.2 61.5h0M588.6 59.9h0M588.3 59.1h0M584.4 61.0h0M582.1 63.2h0M584.7 62.8h0M583.2 61.9h0M593.7 56.5h0" stroke="#e81c22" stroke-width="2.0" stroke-linecap="round" fill="none"/>
<path d="M620.9 84.8h0M619.3 87.3h0M614.9 82.4h0M620.6 81.0h0M616.6 82.9h0M616.7 82.4h0M619.5 79.9h0M616.5 82.8h0M616.0 82.8h0M613.5 80.1h0M619.2 76.4h0M616.7 78.9h0M610.0 81.0h0M612.1 81.4h0M614.9 79.0h0M611.9 81.4h0M615.0 79.0h0M609.2 82.3h0M614.9 79.7h0M620.0 70.8h0M616.8 72.2h0M614.5 72.7h0M614.5 73.0h0M606.9 78.6h0M618.9 70.3h0M616.9 72.0h0M607.2 74.9h0M614.8 68.4h0M603.0 76.8h0M618.9 66.3h0M617.4 67.0h0M615.7 68.6h0M614.5 68.6h0M610.4 70.6h0M619.8 65.4h0M611.0 70.7h0M614.8 69.0h0M604.3 71.4h0M602.1 72.0h0M615.8 63.1h0M612.0 64.6h0M605.5 69.4h0M601.1 73.1h0M604.9 70.4h0M621.4 60.5h0M604.7 70.5h0M609.3 60.3h0M601.1 66.1h0M607.9 63.4h0M595.6 69.9h0M595.7 69.5h0M617.8 57.5h0M601.4 65.9h0M604.8 63.5h0M595.4 71.8h0M606.0 63.2h0M592.9 67.0h0M593.7 67.1h0M601.5 62.9h0M606.1 59.4h0M598.0 63.3h0M592.4 69.0h0M593.3 67.0h0M613.3 55.4h0M597.2 62.7h0M595.5 65.8h0M596.2 66.0h0M601.6 57.2h0M588.0 63.6h0M587.0 64.5h0M597.7 59.4h0M593.6 61.0h0M596.9 60.2h0M583.8 63.1h0" stroke="#e81c22" stroke-width="2.6" stroke-linecap="round" fill="none"/>
<path d="M636.9 119.5h0M653.3 122.4h0" stroke="#e88088" stroke-width="0.8" stroke-linecap="round" fill="none"/>
<path d="M662.1 115.6h0M650.3 125.4h0M647.7 127.4h0" stroke="#e88088" stroke-width="1.0" stroke-linecap="round" fill="none"/>
<path d="M660.2 123.6h0M630.7 109.5h0M648.9 124.1h0M649.1 124.8h0" stroke="#e88088" stroke-width="1.4" stroke-linecap="round" fill="none"/>
<path d="M651.7 71.0h0M638.8 78.9h0M639.7 78.3h0M623.5 89.1h0M623.4 88.5h0" stroke="#eb4146" stroke-width="1.0" stroke-linecap="round" fill="none"/>
<path d="M620.1 86.1h0M617.9 81.2h0M611.6 81.0h0M617.9 75.8h0M608.8 77.7h0M601.8 77.2h0M602.3 78.5h0M612.7 67.0h0M615.4 68.7h0M610.1 66.6h0M618.8 61.6h0M611.3 65.6h0M600.4 70.8h0M615.2 63.3h0M602.2 65.9h0M604.4 65.3h0M597.7 63.0h0M591.3 63.4h0M587.3 64.0h0M595.4 60.5h0M596.0 59.7h0M588.1 66.7h0M585.4 61.3h0M645.7 74.5h0M650.2 72.2h0M626.8 86.3h0M629.8 85.6h0M632.7 82.8h0M647.0 74.1h0" stroke="#eb4146" stroke-width="1.2" stroke-linecap="round" fill="none"/>
<path d="M621.5 84.7h0M621.5 84.9h0M618.8 81.7h0M614.7 83.0h0M610.4 82.0h0M607.5 78.6h0M606.7 78.8h0M609.2 72.0h0M601.6 75.9h0M619.6 65.6h0M615.8 65.0h0M614.2 63.6h0M599.9 73.0h0M603.2 70.5h0M605.0 67.6h0M608.3 67.8h0M610.3 65.2h0M607.2 61.8h0M614.5 60.4h0M599.3 66.9h0M603.8 64.5h0M599.1 61.1h0M593.8 61.9h0M623.9 88.4h0M632.3 83.7h0M636.3 80.0h0M643.1 76.1h0M638.2 79.1h0M628.7 84.8h0" stroke="#eb4146" stroke-width="1.4" stroke-linecap="round" fill="none"/>
<path d="M620.3 86.2h0M615.1 83.5h0M611.9 81.2h0M608.1 77.6h0M617.5 71.4h0M613.7 74.8h0M604.9 75.6h0M607.6 72.5h0M620.8 66.1h0M609.7 64.9h0M600.6 72.2h0M611.0 64.8h0M613.6 64.3h0M619.1 60.6h0M603.5 65.1h0M600.2 67.1h0M598.3 63.1h0M600.4 62.5h0M595.2 64.0h0M601.2 61.6h0M597.1 63.4h0M595.4 62.6h0M591.0 63.4h0M587.4 65.4h0M586.8 65.8h0M588.9 64.3h0M584.6 62.7h0M579.0 116.9h0" stroke="#eb4146" stroke-width="1.6" stroke-linecap="round" fill="none"/>
<path d="M618.5 71.7h0M612.8 75.7h0M619.7 71.9h0M611.4 70.4h0M615.8 67.4h0M612.1 69.7h0M618.7 65.0h0M607.5 71.4h0M604.4 76.2h0M613.3 64.2h0M618.0 62.2h0M599.3 74.3h0M611.4 61.2h0M597.3 68.8h0M609.0 61.7h0M609.8 62.4h0M598.6 62.0h0M593.2 65.5h0M602.9 61.1h0M592.3 67.8h0M591.1 66.9h0M590.3 64.8h0M588.7 64.5h0M586.5 64.3h0M583.5 62.0h0M642.0 76.8h0M636.7 80.4h0M629.9 84.5h0M642.9 76.9h0M641.9 76.9h0M652.1 70.6h0M650.5 71.1h0M652.2 70.4h0M626.1 87.0h0" stroke="#eb4146" stroke-width="1.8" stroke-linecap="round" fill="none"/>
<path d="M619.7 86.0h0M618.3 82.9h0M614.5 81.7h0M614.4 84.0h0M610.7 81.6h0M617.1 76.9h0M621.6 74.1h0M620.2 71.0h0M619.2 69.9h0M611.1 76.2h0M610.5 70.2h0M613.7 68.1h0M608.0 67.7h0M607.8 68.3h0M599.5 74.8h0M616.1 62.2h0M607.5 63.5h0M610.3 63.2h0M609.0 62.1h0M594.5 70.0h0M595.8 69.9h0M593.5 65.8h0M598.2 65.0h0M584.4 62.7h0M585.9 61.5h0M589.0 60.1h0" stroke="#eb4146" stroke-width="2.0" stroke-linecap="round" fill="none"/>
<path d="M621.4 85.0h0M619.6 86.1h0M616.7 84.5h0M620.1 74.5h0M606.9 79.5h0M605.7 79.2h0M604.9 75.9h0M608.0 72.6h0M616.4 70.1h0M618.3 61.4h0M619.0 62.2h0M600.3 67.3h0M601.6 62.5h0M594.0 67.6h0M599.1 62.7h0M582.7 63.9h0" stroke="#eb4146" stroke-width="2.6" stroke-linecap="round" fill="none"/>
<path d="M673.2 57.3h0M678.0 54.7h0M668.6 60.0h0M679.7 53.5h0M663.7 63.6h0M668.9 61.0h0M661.6 64.2h0M607.6 97.9h0M605.9 99.9h0M600.0 103.0h0M663.9 116.0h0" stroke="#ef666a" stroke-width="1.0" stroke-linecap="round" fill="none"/>
<path d="M611.6 81.1h0M611.2 71.6h0M609.0 69.7h0M603.2 75.5h0M608.6 66.6h0M618.6 54.3h0M602.4 56.4h0M590.5 58.3h0M596.1 56.3h0M582.8 64.1h0M658.6 66.7h0M672.6 58.3h0M658.6 66.7h0M678.3 54.4h0M667.0 61.8h0M676.0 56.6h0M679.2 54.4h0M660.5 65.2h0M673.4 57.1h0M669.3 59.7h0M666.5 61.7h0M671.6 58.6h0M662.6 63.9h0M681.8 51.5h0M597.6 105.1h0" stroke="#ef666a" stroke-width="1.2" stroke-linecap="round" fill="none"/>
<path d="M618.3 66.2h0M605.4 70.8h0M597.4 69.2h0M610.2 61.4h0M605.2 59.0h0M597.9 59.2h0M673.0 57.9h0M672.4 57.8h0M671.5 58.5h0M676.7 54.7h0" stroke="#ef666a" stroke-width="1.4" stroke-linecap="round" fill="none"/>
<path d="M598.5 75.1h0M608.2 68.6h0M621.2 54.9h0M598.1 67.9h0M612.4 60.7h0M600.0 57.9h0M598.1 58.3h0M597.6 59.1h0M589.7 63.5h0M585.8 111.7h0" stroke="#ef666a" stroke-width="1.6" stroke-linecap="round" fill="none"/>
<path d="M607.1 78.2h0M610.9 70.3h0M620.8 65.9h0M598.5 73.1h0M613.6 64.1h0M612.4 65.0h0M613.5 65.3h0M618.6 62.6h0M600.7 61.8h0M596.7 65.5h0M672.4 58.0h0M662.2 64.3h0M661.2 65.1h0M678.0 55.1h0M670.2 59.3h0" stroke="#ef666a" stroke-width="1.8" stroke-linecap="round" fill="none"/>
<path d="M618.2 76.9h0M606.9 79.0h0M600.9 73.0h0M619.2 56.3h0M613.3 59.5h0M590.9 64.1h0M603.5 55.7h0M597.3 59.5h0M592.4 107.6h0" stroke="#ef666a" stroke-width="2.0" stroke-linecap="round" fill="none"/>
<path d="M578.7 116.0h0M585.1 112.0h0" stroke="#ef666a" stroke-width="2.4" stroke-linecap="round" fill="none"/>
<path d="M618.9 76.2h0M619.3 70.2h0M604.4 69.6h0M607.5 63.1h0M614.8 58.3h0" stroke="#ef666a" stroke-width="2.6" stroke-linecap="round" fill="none"/>
<path d="M618.9 93.1h0M639.9 111.2h0M613.6 100.0h0M618.5 108.1h0M613.4 104.9h0M602.4 103.1h0M622.4 90.1h0M654.9 110.4h0M649.4 106.9h0" stroke="#f28b8e" stroke-width="0.8" stroke-linecap="round" fill="none"/>
<path d="M581.8 114.2h0M600.5 103.8h0M586.2 111.8h0M604.0 102.2h0M591.0 107.8h0M579.0 116.2h0M618.6 92.9h0M638.3 105.1h0M622.0 95.0h0M620.2 98.9h0M635.9 113.9h0M621.0 109.6h0M606.7 100.7h0M611.5 103.7h0M603.0 103.5h0M604.3 104.4h0M609.8 107.8h0M628.7 124.6h0M602.8 108.5h0M597.9 105.5h0M601.4 112.7h0M601.1 117.7h0M586.3 113.5h0M659.9 113.5h0M663.4 115.7h0M660.3 113.8h0M643.1 103.1h0M646.1 104.9h0M654.6 110.2h0M659.3 113.1h0M657.4 112.0h0M632.4 96.4h0" stroke="#f28b8e" stroke-width="1.0" stroke-linecap="round" fill="none"/>
<path d="M594.7 107.1h0M590.5 109.4h0M594.5 106.7h0M588.3 110.5h0M635.4 103.3h0M626.6 103.0h0M617.4 97.2h0M614.4 95.4h0M624.5 101.6h0M606.5 100.6h0M609.8 102.7h0M621.4 120.1h0M593.9 113.1h0M663.5 115.7h0M624.6 91.5h0M665.4 117.0h0M636.4 98.9h0M627.4 93.2h0M654.3 110.0h0M669.9 119.8h0" stroke="#f28b8e" stroke-width="1.2" stroke-linecap="round" fill="none"/>
<path d="M603.7 70.1h0M610.6 66.9h0M681.7 52.4h0" stroke="#f28b8e" stroke-width="1.4" stroke-linecap="round" fill="none"/>
<path d="M607.6 99.2h0M590.3 108.0h0M585.3 113.1h0M585.9 112.7h0M627.0 98.1h0M635.0 103.1h0M626.3 97.6h0M622.7 100.5h0M620.8 104.4h0M620.4 109.3h0M603.2 103.7h0M616.3 116.9h0M623.0 121.1h0" stroke="#f28b8e" stroke-width="1.6" stroke-linecap="round" fill="none"/>
<path d="M616.4 71.4h0M617.2 62.2h0M604.2 65.6h0" stroke="#f28b8e" stroke-width="1.8" stroke-linecap="round" fill="none"/>
<path d="M601.0 62.8h0M601.7 103.0h0M578.0 118.1h0M611.2 95.0h0M592.3 107.5h0M575.4 117.4h0M586.4 112.6h0M612.1 95.1h0M591.8 108.4h0" stroke="#f28b8e" stroke-width="2.0" stroke-linecap="round" fill="none"/>
<path d="M610.5 97.0h0M578.0 116.7h0M597.1 105.8h0M613.7 93.5h0" stroke="#f28b8e" stroke-width="2.4" stroke-linecap="round" fill="none"/>
<path d="M665.9 138.4h0M636.2 115.1h0M633.6 112.7h0" stroke="#f4a8b0" stroke-width="0.8" stroke-linecap="round" fill="none"/>
<path d="M639.9 115.6h0M637.6 103.6h0M645.2 123.8h0" stroke="#f4a8b0" stroke-width="1.0" stroke-linecap="round" fill="none"/>
<path d="M645.4 110.9h0M630.9 104.2h0" stroke="#f4a8b0" stroke-width="1.4" stroke-linecap="round" fill="none"/>
<path d="M636.4 103.9h0M645.0 109.3h0M635.1 108.2h0M637.9 110.0h0M642.7 113.0h0M624.7 101.8h0M618.2 102.8h0M632.2 111.5h0M617.4 102.3h0M626.4 107.9h0M627.8 108.8h0M617.7 102.5h0M627.7 113.8h0M635.2 123.6h0M626.9 123.5h0M622.8 126.1h0M625.5 127.7h0M614.3 120.8h0M602.1 118.2h0M602.7 118.6h0M625.7 92.2h0M661.2 114.3h0" stroke="#f6b0b2" stroke-width="0.8" stroke-linecap="round" fill="none"/>
<path d="M577.1 114.8h0M602.0 102.2h0M597.8 105.0h0M608.5 98.1h0M583.7 113.1h0M617.7 92.3h0M639.1 105.7h0M640.2 106.3h0M617.5 97.2h0M631.5 111.1h0M632.7 111.9h0M621.2 109.8h0M611.5 103.7h0M616.5 106.9h0M612.3 109.3h0M620.0 114.1h0M598.3 105.7h0M622.1 120.5h0M625.5 122.6h0M631.0 126.1h0M604.3 119.6h0M597.0 120.1h0M600.1 122.1h0M595.5 119.2h0" stroke="#f6b0b2" stroke-width="1.0" stroke-linecap="round" fill="none"/>
<path d="M596.6 104.6h0M609.4 96.8h0M583.4 114.8h0M619.5 90.5h0M630.7 100.4h0M636.6 104.1h0M648.8 116.8h0M630.4 105.3h0M615.1 100.9h0M642.4 117.9h0M634.2 123.0h0M614.4 115.8h0M605.7 110.3h0M626.1 128.1h0M607.7 116.6h0M612.1 119.4h0M609.2 122.7h0M595.9 114.4h0M594.3 118.5h0M605.8 125.6h0M669.5 119.5h0M634.3 97.5h0M633.4 97.0h0M663.5 115.8h0" stroke="#f6b0b2" stroke-width="1.2" stroke-linecap="round" fill="none"/>
<path d="M614.1 95.3h0M581.0 115.5h0M615.0 93.0h0M602.5 102.1h0M619.4 90.2h0M583.0 113.9h0M606.6 100.4h0M623.6 96.0h0M624.1 96.3h0M645.8 109.8h0M618.2 92.6h0M632.4 101.5h0M632.5 106.6h0M613.5 94.8h0M617.6 97.3h0M638.8 110.5h0M638.7 115.6h0M622.8 105.6h0M647.3 120.9h0M635.3 113.5h0M612.1 104.1h0M628.1 114.1h0M605.4 105.0h0M607.2 106.1h0M601.3 102.5h0M606.6 105.8h0M623.4 126.4h0M630.9 131.1h0M602.2 113.2h0" stroke="#f6b0b2" stroke-width="1.6" stroke-linecap="round" fill="none"/>
<path d="M616.9 95.5h0M602.6 101.4h0M610.7 97.1h0M586.0 113.8h0M589.5 109.1h0" stroke="#f6b0b2" stroke-width="2.0" stroke-linecap="round" fill="none"/>
<path d="M597.0 106.7h0M605.3 101.1h0" stroke="#f6b0b2" stroke-width="2.4" stroke-linecap="round" fill="none"/>
<path d="M623.9 103.0h0M630.4 96.4h0M661.4 128.6h0" stroke="#f8c8cc" stroke-width="1.0" stroke-linecap="round" fill="none"/>
<path d="M622.4 106.3h0" stroke="#f8c8cc" stroke-width="1.4" stroke-linecap="round" fill="none"/>
<path d="M639.8 106.1h0M621.7 94.8h0M649.8 117.4h0M632.2 111.6h0M628.7 119.5h0" stroke="#fad5d6" stroke-width="0.8" stroke-linecap="round" fill="none"/>
<path d="M614.6 93.7h0M614.5 94.6h0M594.2 104.8h0M599.9 103.2h0M641.9 112.5h0M627.3 103.4h0M635.6 108.6h0M629.4 109.8h0M619.1 108.5h0M630.3 115.5h0M618.3 113.1h0M610.9 113.5h0M611.2 123.9h0M622.8 131.1h0M611.5 129.2h0" stroke="#fad5d6" stroke-width="1.0" stroke-linecap="round" fill="none"/>
<path d="M609.8 97.6h0M615.1 92.7h0M618.3 92.5h0M630.6 100.4h0M611.8 98.8h0M623.2 111.0h0M636.2 124.2h0M616.7 122.2h0M617.6 122.8h0M618.0 128.1h0M616.8 132.5h0" stroke="#fad5d6" stroke-width="1.2" stroke-linecap="round" fill="none"/>
<path d="M608.8 97.7h0M618.2 90.6h0M636.5 104.0h0M621.7 110.1h0" stroke="#fad5d6" stroke-width="1.6" stroke-linecap="round" fill="none"/>
<path d="M617.4 91.7h0" stroke="#fad5d6" stroke-width="2.0" stroke-linecap="round" fill="none"/>
<path d="M620.9 91.4h0M616.7 90.8h0" stroke="#fad5d6" stroke-width="2.4" stroke-linecap="round" fill="none"/>
<circle cx="632.1" cy="78.8" r="1.5" fill="#f07078" stroke="#1a0a0a" stroke-width="1"/>
<circle cx="623.7" cy="73.1" r="0.8" fill="#f07078" stroke="#1a0a0a" stroke-width="1"/>
<circle cx="626.5" cy="83.2" r="1.0" fill="#f07078" stroke="#1a0a0a" stroke-width="1"/>
<circle cx="627.9" cy="76.1" r="1.2" fill="#f4a0a8" stroke="#1a0a0a" stroke-width="1"/>
<circle cx="628.0" cy="73.8" r="0.8" fill="#e03038" stroke="#1a0a0a" stroke-width="1"/>
<circle cx="629.2" cy="76.2" r="1.2" fill="#701018" stroke="#1a0a0a" stroke-width="1"/>
<circle cx="623.5" cy="80.1" r="1.2" fill="#e03038" stroke="#1a0a0a" stroke-width="1"/>
<circle cx="626.4" cy="72.7" r="0.5" fill="#f4a0a8" stroke="#1a0a0a" stroke-width="1"/>
<circle cx="633.3" cy="77.6" r="1.8" fill="#301010" stroke="#1a0a0a" stroke-width="1"/>
<circle cx="625.7" cy="73.6" r="0.5" fill="#f4a0a8" stroke="#1a0a0a" stroke-width="1"/>
<circle cx="629.3" cy="76.2" r="0.8" fill="#f8d8dc" stroke="#1a0a0a" stroke-width="1"/>
<circle cx="631.3" cy="76.1" r="0.6" fill="#701018" stroke="#1a0a0a" stroke-width="1"/>
<circle cx="624.2" cy="86.6" r="1.0" fill="#301010" stroke="#1a0a0a" stroke-width="1"/>
<circle cx="625.2" cy="75.3" r="0.5" fill="#701018" stroke="#1a0a0a" stroke-width="1"/>
<circle cx="628.6" cy="82.6" r="1.2" fill="#fff" stroke="#1a0a0a" stroke-width="1"/>
<circle cx="624.8" cy="86.0" r="0.5" fill="#301010" stroke="#1a0a0a" stroke-width="1"/>
<circle cx="623.6" cy="74.8" r="1.2" fill="#e03038" stroke="#1a0a0a" stroke-width="1"/>
<circle cx="638.8" cy="77.1" r="1.2" fill="#f4a0a8" stroke="#1a0a0a" stroke-width="1"/>
<circle cx="635.6" cy="80.3" r="0.6" fill="#e03038" stroke="#1a0a0a" stroke-width="1"/>
<circle cx="625.1" cy="83.6" r="1.5" fill="#f8d8dc" stroke="#1a0a0a" stroke-width="1"/>
<circle cx="629.4" cy="66.7" r="0.8" fill="#f8d8dc" stroke="#1a0a0a" stroke-width="1"/>
<circle cx="622.3" cy="72.6" r="0.6" fill="#e03038" stroke="#1a0a0a" stroke-width="1"/>
<circle cx="633.7" cy="76.7" r="1.0" fill="#301010" stroke="#1a0a0a" stroke-width="1"/>
<circle cx="631.1" cy="67.6" r="0.6" fill="#f4a0a8" stroke="#1a0a0a" stroke-width="1"/>
<circle cx="624.0" cy="75.7" r="1.5" fill="#f8d8dc" stroke="#1a0a0a" stroke-width="1"/>
<circle cx="622.2" cy="81.4" r="0.5" fill="#e03038" stroke="#1a0a0a" stroke-width="1"/>
<circle cx="636.0" cy="79.4" r="0.8" fill="#fff" stroke="#1a0a0a" stroke-width="1"/>
<circle cx="626.6" cy="83.3" r="1.2" fill="#fff" stroke="#1a0a0a" stroke-width="1"/>
<circle cx="626.4" cy="68.6" r="0.8" fill="#701018" stroke="#1a0a0a" stroke-width="1"/>
<circle cx="629.2" cy="83.9" r="0.5" fill="#f4a0a8" stroke="#1a0a0a" stroke-width="1"/>
<circle cx="642.5" cy="67.9" r="0.6" fill="#301010" stroke="#1a0a0a" stroke-width="1"/>
<circle cx="624.0" cy="87.3" r="0.6" fill="#701018" stroke="#1a0a0a" stroke-width="1"/>
<circle cx="628.9" cy="76.9" r="1.0" fill="#e03038" stroke="#1a0a0a" stroke-width="1"/>
<circle cx="623.9" cy="86.4" r="1.2" fill="#e03038" stroke="#1a0a0a" stroke-width="1"/>
<circle cx="626.0" cy="81.9" r="1.5" fill="#f8d8dc" stroke="#1a0a0a" stroke-width="1"/>
<circle cx="634.8" cy="68.8" r="1.5" fill="#701018" stroke="#1a0a0a" stroke-width="1"/>
<circle cx="625.2" cy="84.9" r="1.5" fill="#f07078" stroke="#1a0a0a" stroke-width="1"/>
<circle cx="624.4" cy="72.4" r="0.8" fill="#301010" stroke="#1a0a0a" stroke-width="1"/>
<circle cx="626.8" cy="70.4" r="0.6" fill="#301010" stroke="#1a0a0a" stroke-width="1"/>
<circle cx="627.0" cy="78.0" r="1.8" fill="#301010" stroke="#1a0a0a" stroke-width="1"/>
<circle cx="622.1" cy="72.7" r="1.5" fill="#701018" stroke="#1a0a0a" stroke-width="1"/>
<circle cx="625.2" cy="76.3" r="1.5" fill="#f07078" stroke="#1a0a0a" stroke-width="1"/>
<circle cx="622.1" cy="82.7" r="0.5" fill="#f07078" stroke="#1a0a0a" stroke-width="1"/>
<circle cx="629.5" cy="76.5" r="1.2" fill="#301010" stroke="#1a0a0a" stroke-width="1"/>
<circle cx="634.2" cy="76.9" r="0.8" fill="#f8d8dc" stroke="#1a0a0a" stroke-width="1"/>
<circle cx="626.1" cy="84.5" r="1.2" fill="#e03038" stroke="#1a0a0a" stroke-width="1"/>
<circle cx="623.3" cy="85.2" r="0.5" fill="#f8d8dc" stroke="#1a0a0a" stroke-width="1"/>
<circle cx="622.7" cy="81.2" r="0.5" fill="#301010" stroke="#1a0a0a" stroke-width="1"/>
<circle cx="623.9" cy="83.0" r="0.8" fill="#f8d8dc" stroke="#1a0a0a" stroke-width="1"/>
<circle cx="623.4" cy="75.4" r="0.5" fill="#301010" stroke="#1a0a0a" stroke-width="1"/>
<circle cx="625.9" cy="79.7" r="0.5" fill="#701018" stroke="#1a0a0a" stroke-width="1"/>
<circle cx="625.3" cy="76.1" r="1.0" fill="#f8d8dc" stroke="#1a0a0a" stroke-width="1"/>
<circle cx="630.2" cy="74.8" r="0.5" fill="#f4a0a8" stroke="#1a0a0a" stroke-width="1"/>
<circle cx="631.0" cy="81.7" r="0.6" fill="#fff" stroke="#1a0a0a" stroke-width="1"/>
<circle cx="621.8" cy="82.7" r="1.8" fill="#e03038" stroke="#1a0a0a" stroke-width="1"/>
<circle cx="637.8" cy="75.9" r="1.5" fill="#fff" stroke="#1a0a0a" stroke-width="1"/>
<circle cx="624.3" cy="80.7" r="1.5" fill="#f8d8dc" stroke="#1a0a0a" stroke-width="1"/>
<circle cx="631.4" cy="78.2" r="0.6" fill="#f4a0a8" stroke="#1a0a0a" stroke-width="1"/>
<circle cx="630.6" cy="79.0" r="1.5" fill="#f4a0a8" stroke="#1a0a0a" stroke-width="1"/>
<circle cx="638.8" cy="68.9" r="0.5" fill="#f07078" stroke="#1a0a0a" stroke-width="1"/>
<circle cx="627.3" cy="68.9" r="0.6" fill="#f8d8dc" stroke="#1a0a0a" stroke-width="1"/>
<circle cx="628.8" cy="72.5" r="1.8" fill="#701018" stroke="#1a0a0a" stroke-width="1"/>
<circle cx="625.2" cy="82.8" r="0.8" fill="#e03038" stroke="#1a0a0a" stroke-width="1"/>
<circle cx="626.3" cy="82.0" r="1.2" fill="#701018" stroke="#1a0a0a" stroke-width="1"/>
<circle cx="623.2" cy="80.1" r="1.2" fill="#f8d8dc" stroke="#1a0a0a" stroke-width="1"/>
<circle cx="623.2" cy="86.1" r="1.2" fill="#f07078" stroke="#1a0a0a" stroke-width="1"/>
<circle cx="627.4" cy="82.1" r="1.0" fill="#fff" stroke="#1a0a0a" stroke-width="1"/>
<circle cx="623.8" cy="84.1" r="1.8" fill="#f07078" stroke="#1a0a0a" stroke-width="1"/>
<circle cx="628.4" cy="80.9" r="0.6" fill="#e03038" stroke="#1a0a0a" stroke-width="1"/>
<circle cx="623.2" cy="79.8" r="0.8" fill="#301010" stroke="#1a0a0a" stroke-width="1"/>
<circle cx="622.0" cy="69.6" r="0.8" fill="#701018" stroke="#1a0a0a" stroke-width="1"/>
<circle cx="625.4" cy="68.1" r="0.5" fill="#f07078" stroke="#1a0a0a" stroke-width="1"/>
<circle cx="627.3" cy="80.1" r="1.8" fill="#701018" stroke="#1a0a0a" stroke-width="1"/>
<circle cx="639.5" cy="70.2" r="1.5" fill="#f8d8dc" stroke="#1a0a0a" stroke-width="1"/>
<circle cx="623.7" cy="78.7" r="1.5" fill="#f8d8dc" stroke="#1a0a0a" stroke-width="1"/>
<circle cx="625.9" cy="82.0" r="1.8" fill="#701018" stroke="#1a0a0a" stroke-width="1"/>
<circle cx="630.4" cy="77.2" r="1.5" fill="#f4a0a8" stroke="#1a0a0a" stroke-width="1"/>
<circle cx="624.3" cy="85.3" r="0.8" fill="#f07078" stroke="#1a0a0a" stroke-width="1"/>
<circle cx="634.2" cy="73.3" r="1.5" fill="#f8d8dc" stroke="#1a0a0a" stroke-width="1"/>
<circle cx="624.6" cy="85.5" r="1.2" fill="#701018" stroke="#1a0a0a" stroke-width="1"/>
<circle cx="624.3" cy="82.4" r="1.0" fill="#301010" stroke="#1a0a0a" stroke-width="1"/>
<circle cx="642.9" cy="72.8" r="1.5" fill="#e03038" stroke="#1a0a0a" stroke-width="1"/>
<circle cx="635.3" cy="69.7" r="0.5" fill="#f07078" stroke="#1a0a0a" stroke-width="1"/>
<circle cx="623.0" cy="83.5" r="0.5" fill="#f4a0a8" stroke="#1a0a0a" stroke-width="1"/>
<circle cx="625.6" cy="79.2" r="0.6" fill="#e03038" stroke="#1a0a0a" stroke-width="1"/>
<circle cx="631.4" cy="77.4" r="0.8" fill="#701018" stroke="#1a0a0a" stroke-width="1"/>
<circle cx="628.4" cy="81.8" r="1.0" fill="#701018" stroke="#1a0a0a" stroke-width="1"/>
<circle cx="633.0" cy="72.5" r="1.2" fill="#f8d8dc" stroke="#1a0a0a" stroke-width="1"/>
<circle cx="625.6" cy="82.9" r="1.2" fill="#fff" stroke="#1a0a0a" stroke-width="1"/>
<circle cx="622.1" cy="79.0" r="0.8" fill="#f07078" stroke="#1a0a0a" stroke-width="1"/>
<circle cx="628.7" cy="77.4" r="1.2" fill="#f07078" stroke="#1a0a0a" stroke-width="1"/>
<circle cx="637.6" cy="65.0" r="0.8" fill="#701018" stroke="#1a0a0a" stroke-width="1"/>
<circle cx="633.6" cy="79.0" r="0.5" fill="#f8d8dc" stroke="#1a0a0a" stroke-width="1"/>
<circle cx="624.8" cy="83.2" r="1.2" fill="#fff" stroke="#1a0a0a" stroke-width="1"/>
<circle cx="623.0" cy="87.0" r="0.8" fill="#f4a0a8" stroke="#1a0a0a" stroke-width="1"/>
<circle cx="625.6" cy="78.8" r="0.6" fill="#f07078" stroke="#1a0a0a" stroke-width="1"/>
<circle cx="626.7" cy="71.5" r="0.8" fill="#701018" stroke="#1a0a0a" stroke-width="1"/>
<circle cx="626.0" cy="84.0" r="0.5" fill="#f8d8dc" stroke="#1a0a0a" stroke-width="1"/>
<circle cx="621.8" cy="87.9" r="0.5" fill="#301010" stroke="#1a0a0a" stroke-width="1"/>
<circle cx="629.1" cy="78.4" r="1.2" fill="#f8d8dc" stroke="#1a0a0a" stroke-width="1"/>
<circle cx="625.8" cy="74.7" r="0.6" fill="#701018" stroke="#1a0a0a" stroke-width="1"/>
<circle cx="623.9" cy="84.1" r="1.5" fill="#f8d8dc" stroke="#1a0a0a" stroke-width="1"/>
<circle cx="628.4" cy="83.9" r="0.5" fill="#e03038" stroke="#1a0a0a" stroke-width="1"/>
<circle cx="627.0" cy="82.7" r="0.5" fill="#301010" stroke="#1a0a0a" stroke-width="1"/>
<circle cx="631.6" cy="71.5" r="1.5" fill="#701018" stroke="#1a0a0a" stroke-width="1"/>
<circle cx="630.0" cy="76.3" r="1.2" fill="#f4a0a8" stroke="#1a0a0a" stroke-width="1"/>
<circle cx="624.9" cy="82.9" r="0.6" fill="#701018" stroke="#1a0a0a" stroke-width="1"/>
<circle cx="628.4" cy="79.0" r="0.5" fill="#e03038" stroke="#1a0a0a" stroke-width="1"/>
<circle cx="623.3" cy="87.3" r="0.5" fill="#301010" stroke="#1a0a0a" stroke-width="1"/>
<circle cx="637.6" cy="77.1" r="0.6" fill="#e03038" stroke="#1a0a0a" stroke-width="1"/>
<circle cx="623.4" cy="77.5" r="1.8" fill="#f8d8dc" stroke="#1a0a0a" stroke-width="1"/>
<circle cx="626.0" cy="77.8" r="0.5" fill="#f4a0a8" stroke="#1a0a0a" stroke-width="1"/>
<circle cx="634.6" cy="65.4" r="1.0" fill="#301010" stroke="#1a0a0a" stroke-width="1"/>
<circle cx="625.2" cy="85.1" r="1.8" fill="#f8d8dc" stroke="#1a0a0a" stroke-width="1"/>
<circle cx="640.8" cy="68.7" r="1.5" fill="#f8d8dc" stroke="#1a0a0a" stroke-width="1"/>
<circle cx="628.4" cy="83.1" r="0.5" fill="#f4a0a8" stroke="#1a0a0a" stroke-width="1"/>
<circle cx="627.9" cy="81.4" r="0.6" fill="#f4a0a8" stroke="#1a0a0a" stroke-width="1"/>
<circle cx="622.7" cy="83.0" r="0.5" fill="#701018" stroke="#1a0a0a" stroke-width="1"/>
<circle cx="631.5" cy="79.2" r="0.6" fill="#f8d8dc" stroke="#1a0a0a" stroke-width="1"/>
<circle cx="627.3" cy="70.6" r="0.5" fill="#e03038" stroke="#1a0a0a" stroke-width="1"/>
<circle cx="629.0" cy="77.4" r="1.5" fill="#e03038" stroke="#1a0a0a" stroke-width="1"/>
<circle cx="622.4" cy="86.4" r="0.6" fill="#fff" stroke="#1a0a0a" stroke-width="1"/>
<circle cx="632.4" cy="81.3" r="0.5" fill="#e03038" stroke="#1a0a0a" stroke-width="1"/>
<circle cx="622.6" cy="83.3" r="1.0" fill="#fff" stroke="#1a0a0a" stroke-width="1"/>
<circle cx="623.7" cy="83.7" r="1.0" fill="#fff" stroke="#1a0a0a" stroke-width="1"/>
<circle cx="629.4" cy="73.5" r="0.8" fill="#e03038" stroke="#1a0a0a" stroke-width="1"/>
<circle cx="623.1" cy="80.3" r="1.5" fill="#301010" stroke="#1a0a0a" stroke-width="1"/>
<circle cx="625.3" cy="74.7" r="1.2" fill="#fff" stroke="#1a0a0a" stroke-width="1"/>
<circle cx="633.5" cy="69.3" r="1.8" fill="#f8d8dc" stroke="#1a0a0a" stroke-width="1"/>
<circle cx="639.5" cy="77.1" r="0.6" fill="#e03038" stroke="#1a0a0a" stroke-width="1"/>
<circle cx="628.2" cy="75.8" r="0.6" fill="#701018" stroke="#1a0a0a" stroke-width="1"/>
<circle cx="621.9" cy="80.6" r="1.0" fill="#f4a0a8" stroke="#1a0a0a" stroke-width="1"/>
<circle cx="633.7" cy="72.4" r="1.2" fill="#701018" stroke="#1a0a0a" stroke-width="1"/>
<circle cx="635.7" cy="77.8" r="0.6" fill="#301010" stroke="#1a0a0a" stroke-width="1"/>
<circle cx="623.4" cy="85.8" r="1.8" fill="#e03038" stroke="#1a0a0a" stroke-width="1"/>
<circle cx="622.8" cy="87.7" r="1.5" fill="#f4a0a8" stroke="#1a0a0a" stroke-width="1"/>
<circle cx="622.9" cy="87.1" r="0.6" fill="#701018" stroke="#1a0a0a" stroke-width="1"/>
<circle cx="627.6" cy="78.7" r="1.8" fill="#f4a0a8" stroke="#1a0a0a" stroke-width="1"/>
<circle cx="629.8" cy="80.9" r="0.5" fill="#f8d8dc" stroke="#1a0a0a" stroke-width="1"/>
<circle cx="632.3" cy="75.2" r="1.0" fill="#f07078" stroke="#1a0a0a" stroke-width="1"/>
<circle cx="623.8" cy="86.7" r="0.5" fill="#fff" stroke="#1a0a0a" stroke-width="1"/>
<circle cx="633.5" cy="79.7" r="1.2" fill="#301010" stroke="#1a0a0a" stroke-width="1"/>
<circle cx="621.8" cy="81.0" r="1.0" fill="#701018" stroke="#1a0a0a" stroke-width="1"/>
<circle cx="625.8" cy="81.2" r="0.5" fill="#f4a0a8" stroke="#1a0a0a" stroke-width="1"/>
<circle cx="627.3" cy="73.8" r="0.8" fill="#f07078" stroke="#1a0a0a" stroke-width="1"/>
<circle cx="635.9" cy="77.7" r="1.2" fill="#f8d8dc" stroke="#1a0a0a" stroke-width="1"/>
<circle cx="627.6" cy="74.5" r="0.5" fill="#f8d8dc" stroke="#1a0a0a" stroke-width="1"/>
<circle cx="627.7" cy="76.6" r="0.8" fill="#e03038" stroke="#1a0a0a" stroke-width="1"/>
<circle cx="629.0" cy="79.9" r="1.8" fill="#fff" stroke="#1a0a0a" stroke-width="1"/>
<circle cx="622.3" cy="79.7" r="0.6" fill="#701018" stroke="#1a0a0a" stroke-width="1"/>
<circle cx="624.1" cy="83.3" r="1.2" fill="#e03038" stroke="#1a0a0a" stroke-width="1"/>
<circle cx="625.7" cy="83.3" r="1.0" fill="#f07078" stroke="#1a0a0a" stroke-width="1"/>
<circle cx="628.9" cy="80.9" r="0.8" fill="#fff" stroke="#1a0a0a" stroke-width="1"/>
<circle cx="627.2" cy="74.9" r="0.6" fill="#e03038" stroke="#1a0a0a" stroke-width="1"/>
<circle cx="624.7" cy="79.9" r="0.5" fill="#e03038" stroke="#1a0a0a" stroke-width="1"/>
<circle cx="631.4" cy="74.0" r="1.5" fill="#f8d8dc" stroke="#1a0a0a" stroke-width="1"/>
<circle cx="627.5" cy="71.0" r="0.5" fill="#f8d8dc" stroke="#1a0a0a" stroke-width="1"/>
<circle cx="628.5" cy="79.4" r="0.8" fill="#e03038" stroke="#1a0a0a" stroke-width="1"/>
<circle cx="626.3" cy="80.1" r="0.6" fill="#f4a0a8" stroke="#1a0a0a" stroke-width="1"/>
<circle cx="621.9" cy="80.9" r="0.6" fill="#f8d8dc" stroke="#1a0a0a" stroke-width="1"/>
<circle cx="633.1" cy="73.8" r="0.6" fill="#f4a0a8" stroke="#1a0a0a" stroke-width="1"/>
<circle cx="622.2" cy="74.8" r="1.8" fill="#701018" stroke="#1a0a0a" stroke-width="1"/>
<circle cx="632.1" cy="73.4" r="0.8" fill="#f07078" stroke="#1a0a0a" stroke-width="1"/>
<circle cx="625.8" cy="80.7" r="0.6" fill="#f4a0a8" stroke="#1a0a0a" stroke-width="1"/>
<circle cx="628.9" cy="76.1" r="0.5" fill="#fff" stroke="#1a0a0a" stroke-width="1"/>
<circle cx="632.1" cy="78.2" r="1.2" fill="#701018" stroke="#1a0a0a" stroke-width="1"/>
<circle cx="632.7" cy="80.3" r="0.6" fill="#301010" stroke="#1a0a0a" stroke-width="1"/>
<circle cx="622.7" cy="70.1" r="0.8" fill="#f07078" stroke="#1a0a0a" stroke-width="1"/>
<circle cx="623.2" cy="86.1" r="0.6" fill="#e03038" stroke="#1a0a0a" stroke-width="1"/>
<circle cx="631.8" cy="67.9" r="1.2" fill="#e03038" stroke="#1a0a0a" stroke-width="1"/>
<circle cx="631.6" cy="79.5" r="1.2" fill="#e03038" stroke="#1a0a0a" stroke-width="1"/>
<circle cx="646.3" cy="66.9" r="1.0" fill="#f8d8dc" stroke="#1a0a0a" stroke-width="1"/>
<circle cx="628.1" cy="84.1" r="1.2" fill="#f4a0a8" stroke="#1a0a0a" stroke-width="1"/>
<circle cx="626.0" cy="82.8" r="0.8" fill="#f07078" stroke="#1a0a0a" stroke-width="1"/>
<circle cx="625.3" cy="69.4" r="1.0" fill="#f4a0a8" stroke="#1a0a0a" stroke-width="1"/>
<circle cx="632.2" cy="81.3" r="1.5" fill="#fff" stroke="#1a0a0a" stroke-width="1"/>
<circle cx="633.9" cy="70.9" r="1.8" fill="#701018" stroke="#1a0a0a" stroke-width="1"/>
<circle cx="631.4" cy="72.4" r="1.5" fill="#f07078" stroke="#1a0a0a" stroke-width="1"/>
<circle cx="623.2" cy="74.4" r="1.5" fill="#e03038" stroke="#1a0a0a" stroke-width="1"/>
<circle cx="629.7" cy="74.9" r="1.5" fill="#f4a0a8" stroke="#1a0a0a" stroke-width="1"/>
<circle cx="629.4" cy="80.9" r="1.8" fill="#f8d8dc" stroke="#1a0a0a" stroke-width="1"/>
<circle cx="631.3" cy="82.9" r="1.8" fill="#e03038" stroke="#1a0a0a" stroke-width="1"/>
<circle cx="624.8" cy="76.0" r="1.8" fill="#f07078" stroke="#1a0a0a" stroke-width="1"/>
<circle cx="626.6" cy="85.8" r="0.5" fill="#301010" stroke="#1a0a0a" stroke-width="1"/>
<circle cx="628.0" cy="64.3" r="1.2" fill="#f4a0a8" stroke="#1a0a0a" stroke-width="1"/>
<circle cx="625.6" cy="81.6" r="1.2" fill="#f07078" stroke="#1a0a0a" stroke-width="1"/>
<circle cx="626.0" cy="85.9" r="0.5" fill="#f07078" stroke="#1a0a0a" stroke-width="1"/>
<circle cx="621.9" cy="87.9" r="1.0" fill="#f8d8dc" stroke="#1a0a0a" stroke-width="1"/>
<circle cx="635.0" cy="69.7" r="1.0" fill="#f07078" stroke="#1a0a0a" stroke-width="1"/>
<circle cx="633.2" cy="81.0" r="0.6" fill="#f07078" stroke="#1a0a0a" stroke-width="1"/>
<circle cx="630.7" cy="81.0" r="0.8" fill="#701018" stroke="#1a0a0a" stroke-width="1"/>
<circle cx="628.0" cy="76.2" r="0.6" fill="#fff" stroke="#1a0a0a" stroke-width="1"/>
<circle cx="625.5" cy="79.6" r="1.2" fill="#701018" stroke="#1a0a0a" stroke-width="1"/>
<circle cx="631.5" cy="74.4" r="0.6" fill="#701018" stroke="#1a0a0a" stroke-width="1"/>
<circle cx="622.9" cy="85.6" r="1.8" fill="#301010" stroke="#1a0a0a" stroke-width="1"/>
<circle cx="627.9" cy="78.1" r="1.8" fill="#fff" stroke="#1a0a0a" stroke-width="1"/>
<circle cx="628.7" cy="76.8" r="1.2" fill="#301010" stroke="#1a0a0a" stroke-width="1"/>
<circle cx="623.7" cy="82.2" r="1.5" fill="#701018" stroke="#1a0a0a" stroke-width="1"/>
<circle cx="628.5" cy="81.8" r="0.8" fill="#e03038" stroke="#1a0a0a" stroke-width="1"/>
<circle cx="627.6" cy="80.1" r="1.8" fill="#f4a0a8" stroke="#1a0a0a" stroke-width="1"/>
<circle cx="627.7" cy="77.6" r="0.5" fill="#f4a0a8" stroke="#1a0a0a" stroke-width="1"/>
<circle cx="627.9" cy="82.1" r="0.6" fill="#fff" stroke="#1a0a0a" stroke-width="1"/>
<circle cx="624.8" cy="84.4" r="1.8" fill="#e03038" stroke="#1a0a0a" stroke-width="1"/>
<circle cx="621.7" cy="87.7" r="1.5" fill="#f8d8dc" stroke="#1a0a0a" stroke-width="1"/>
<circle cx="631.2" cy="83.0" r="0.6" fill="#e03038" stroke="#1a0a0a" stroke-width="1"/>
<circle cx="632.4" cy="76.3" r="1.2" fill="#f8d8dc" stroke="#1a0a0a" stroke-width="1"/>
<circle cx="622.3" cy="87.6" r="1.0" fill="#f4a0a8" stroke="#1a0a0a" stroke-width="1"/>
<circle cx="625.2" cy="71.6" r="1.5" fill="#e03038" stroke="#1a0a0a" stroke-width="1"/>
<circle cx="627.2" cy="81.5" r="1.0" fill="#e03038" stroke="#1a0a0a" stroke-width="1"/>
<circle cx="629.8" cy="79.4" r="1.2" fill="#f4a0a8" stroke="#1a0a0a" stroke-width="1"/>
<circle cx="628.9" cy="83.1" r="0.7" fill="#f4a0a8" stroke="#1a0a0a" stroke-width=".9"/>
<circle cx="645.9" cy="74.0" r="0.5" fill="#e03038" stroke="#1a0a0a" stroke-width=".9"/>
<circle cx="647.2" cy="72.5" r="0.9" fill="#f4a0a8" stroke="#1a0a0a" stroke-width=".9"/>
<circle cx="648.4" cy="71.6" r="0.9" fill="#f4a0a8" stroke="#1a0a0a" stroke-width=".9"/>
<circle cx="640.8" cy="77.2" r="0.5" fill="#e03038" stroke="#1a0a0a" stroke-width=".9"/>
<circle cx="638.3" cy="78.1" r="0.5" fill="#301010" stroke="#1a0a0a" stroke-width=".9"/>
<circle cx="636.4" cy="80.3" r="0.9" fill="#f4a0a8" stroke="#1a0a0a" stroke-width=".9"/>
<circle cx="628.0" cy="84.0" r="0.7" fill="#f4a0a8" stroke="#1a0a0a" stroke-width=".9"/>
<circle cx="634.9" cy="81.4" r="0.7" fill="#f4a0a8" stroke="#1a0a0a" stroke-width=".9"/>
<circle cx="627.7" cy="85.5" r="0.5" fill="#301010" stroke="#1a0a0a" stroke-width=".9"/>
<circle cx="633.1" cy="80.8" r="0.9" fill="#f4a0a8" stroke="#1a0a0a" stroke-width=".9"/>
<circle cx="643.6" cy="74.3" r="0.9" fill="#301010" stroke="#1a0a0a" stroke-width=".9"/>
<circle cx="645.1" cy="74.1" r="0.5" fill="#f4a0a8" stroke="#1a0a0a" stroke-width=".9"/>
<circle cx="642.6" cy="75.1" r="0.9" fill="#e03038" stroke="#1a0a0a" stroke-width=".9"/>
<circle cx="626.6" cy="85.4" r="0.7" fill="#301010" stroke="#1a0a0a" stroke-width=".9"/>
<circle cx="641.2" cy="77.7" r="0.5" fill="#e03038" stroke="#1a0a0a" stroke-width=".9"/>
<circle cx="629.8" cy="84.6" r="0.9" fill="#301010" stroke="#1a0a0a" stroke-width=".9"/>
<circle cx="633.9" cy="80.9" r="0.5" fill="#f4a0a8" stroke="#1a0a0a" stroke-width=".9"/>
<circle cx="637.3" cy="79.0" r="0.5" fill="#e03038" stroke="#1a0a0a" stroke-width=".9"/>
<circle cx="641.9" cy="76.1" r="0.5" fill="#e03038" stroke="#1a0a0a" stroke-width=".9"/>
<circle cx="644.3" cy="74.1" r="0.7" fill="#e03038" stroke="#1a0a0a" stroke-width=".9"/>
<circle cx="639.8" cy="76.6" r="0.9" fill="#e03038" stroke="#1a0a0a" stroke-width=".9"/>
<circle cx="628.6" cy="84.9" r="0.5" fill="#f4a0a8" stroke="#1a0a0a" stroke-width=".9"/>
<circle cx="647.4" cy="73.5" r="0.5" fill="#f4a0a8" stroke="#1a0a0a" stroke-width=".9"/>
<circle cx="639.6" cy="77.5" r="0.5" fill="#e03038" stroke="#1a0a0a" stroke-width=".9"/>
<circle cx="643.4" cy="75.8" r="0.7" fill="#e03038" stroke="#1a0a0a" stroke-width=".9"/>
<circle cx="641.4" cy="75.5" r="0.7" fill="#e03038" stroke="#1a0a0a" stroke-width=".9"/>
<circle cx="636.3" cy="80.6" r="0.9" fill="#301010" stroke="#1a0a0a" stroke-width=".9"/>
<circle cx="633.6" cy="81.0" r="0.7" fill="#e03038" stroke="#1a0a0a" stroke-width=".9"/>
<circle cx="646.5" cy="73.2" r="0.7" fill="#f4a0a8" stroke="#1a0a0a" stroke-width=".9"/>
<circle cx="637.0" cy="80.0" r="0.5" fill="#e03038" stroke="#1a0a0a" stroke-width=".9"/>
<circle cx="626.1" cy="86.5" r="0.7" fill="#f4a0a8" stroke="#1a0a0a" stroke-width=".9"/>
<circle cx="637.8" cy="79.1" r="0.5" fill="#f4a0a8" stroke="#1a0a0a" stroke-width=".9"/>
<circle cx="633.3" cy="81.6" r="0.7" fill="#301010" stroke="#1a0a0a" stroke-width=".9"/>
<circle cx="641.8" cy="76.7" r="0.5" fill="#e03038" stroke="#1a0a0a" stroke-width=".9"/>
<circle cx="641.3" cy="76.9" r="0.5" fill="#301010" stroke="#1a0a0a" stroke-width=".9"/>
<circle cx="634.7" cy="80.5" r="0.5" fill="#301010" stroke="#1a0a0a" stroke-width=".9"/>
<circle cx="644.9" cy="73.2" r="0.9" fill="#e03038" stroke="#1a0a0a" stroke-width=".9"/>
<circle cx="638.1" cy="79.2" r="0.5" fill="#301010" stroke="#1a0a0a" stroke-width=".9"/>
<circle cx="641.1" cy="76.6" r="0.7" fill="#f4a0a8" stroke="#1a0a0a" stroke-width=".9"/>
<circle cx="638.7" cy="78.1" r="0.5" fill="#301010" stroke="#1a0a0a" stroke-width=".9"/>
</g>
<line x1="621.7" y1="26" x2="621.7" y2="151.5" stroke="#1a1a1a" stroke-width="1.4" stroke-dasharray="6.2 3.2"/>
<line x1="562.5" y1="89.7" x2="689.5" y2="89.7" stroke="#1a1a1a" stroke-width="1.4" stroke-dasharray="6.2 3.2"/>
<circle cx="628.3" cy="85.2" r="3.6" fill="#f8c0c8" stroke="#1a0a0a" stroke-width="1.4"/>
<text x="566.30" y="36.90" font-size="11" font-weight="bold" stroke="#111" stroke-width="0.18" textLength="40.0" lengthAdjust="spacingAndGlyphs">siEZH2</text>
<rect x="645" y="77.3" width="42" height="10.5" fill="#fff" fill-opacity=".85"/>
<text x="646" y="86.3" font-size="11.6" font-weight="bold" stroke="#111" stroke-width=".2" textLength="42" lengthAdjust="spacingAndGlyphs"><tspan font-style="italic">n</tspan> = 1236</text>
<line x1="436.5" y1="151.5" x2="436.5" y2="154.5" stroke="#111" stroke-width="1"/>
<text x="436.50" y="162.80" font-size="8" text-anchor="middle" font-weight="bold" stroke="#111" stroke-width="0.08">−2</text>
<line x1="465.0" y1="151.5" x2="465.0" y2="154.5" stroke="#111" stroke-width="1"/>
<text x="465.00" y="162.80" font-size="8" text-anchor="middle" font-weight="bold" stroke="#111" stroke-width="0.08">0</text>
<line x1="493.5" y1="151.5" x2="493.5" y2="154.5" stroke="#111" stroke-width="1"/>
<text x="493.50" y="162.80" font-size="8" text-anchor="middle" font-weight="bold" stroke="#111" stroke-width="0.08">2</text>
<line x1="522.0" y1="151.5" x2="522.0" y2="154.5" stroke="#111" stroke-width="1"/>
<text x="522.00" y="162.80" font-size="8" text-anchor="middle" font-weight="bold" stroke="#111" stroke-width="0.08">4</text>
<line x1="405" y1="150.7" x2="408" y2="150.7" stroke="#111" stroke-width="1"/>
<text x="404.10" y="150.70" font-size="7.8" text-anchor="middle" font-weight="bold" stroke="#111" stroke-width="0.08" transform="rotate(-90 404.10 150.70)">−6</text>
<line x1="405" y1="131.8" x2="408" y2="131.8" stroke="#111" stroke-width="1"/>
<text x="404.10" y="131.80" font-size="7.8" text-anchor="middle" font-weight="bold" stroke="#111" stroke-width="0.08" transform="rotate(-90 404.10 131.80)">−4</text>
<line x1="405" y1="112.9" x2="408" y2="112.9" stroke="#111" stroke-width="1"/>
<text x="404.10" y="112.90" font-size="7.8" text-anchor="middle" font-weight="bold" stroke="#111" stroke-width="0.08" transform="rotate(-90 404.10 112.90)">−2</text>
<line x1="405" y1="94.0" x2="408" y2="94.0" stroke="#111" stroke-width="1"/>
<text x="404.10" y="94.00" font-size="7.8" text-anchor="middle" font-weight="bold" stroke="#111" stroke-width="0.08" transform="rotate(-90 404.10 94.00)">0</text>
<line x1="405" y1="75.1" x2="408" y2="75.1" stroke="#111" stroke-width="1"/>
<text x="404.10" y="75.10" font-size="7.8" text-anchor="middle" font-weight="bold" stroke="#111" stroke-width="0.08" transform="rotate(-90 404.10 75.10)">2</text>
<line x1="405" y1="56.2" x2="408" y2="56.2" stroke="#111" stroke-width="1"/>
<text x="404.10" y="56.20" font-size="7.8" text-anchor="middle" font-weight="bold" stroke="#111" stroke-width="0.08" transform="rotate(-90 404.10 56.20)">4</text>
<line x1="405" y1="37.3" x2="408" y2="37.3" stroke="#111" stroke-width="1"/>
<text x="404.10" y="37.30" font-size="7.8" text-anchor="middle" font-weight="bold" stroke="#111" stroke-width="0.08" transform="rotate(-90 404.10 37.30)">6</text>
<text x="391.80" y="88.20" font-size="11.8" text-anchor="middle" textLength="92.5" lengthAdjust="spacingAndGlyphs" transform="rotate(-90 391.80 88.20)">Enrichment score</text>
<text x="469.50" y="174.00" font-size="11.8" text-anchor="middle" textLength="95.0" lengthAdjust="spacingAndGlyphs">Contribution score</text>
<line x1="563.3" y1="151.5" x2="563.3" y2="154.5" stroke="#111" stroke-width="1"/>
<text x="563.30" y="161.70" font-size="8" text-anchor="middle" font-weight="bold" stroke="#111" stroke-width="0.08">−4</text>
<line x1="592.5" y1="151.5" x2="592.5" y2="154.5" stroke="#111" stroke-width="1"/>
<text x="592.50" y="161.70" font-size="8" text-anchor="middle" font-weight="bold" stroke="#111" stroke-width="0.08">−2</text>
<line x1="621.7" y1="151.5" x2="621.7" y2="154.5" stroke="#111" stroke-width="1"/>
<text x="621.70" y="161.70" font-size="8" text-anchor="middle" font-weight="bold" stroke="#111" stroke-width="0.08">0</text>
<line x1="650.9" y1="151.5" x2="650.9" y2="154.5" stroke="#111" stroke-width="1"/>
<text x="650.90" y="161.70" font-size="8" text-anchor="middle" font-weight="bold" stroke="#111" stroke-width="0.08">2</text>
<line x1="680.1" y1="151.5" x2="680.1" y2="154.5" stroke="#111" stroke-width="1"/>
<text x="680.10" y="161.70" font-size="8" text-anchor="middle" font-weight="bold" stroke="#111" stroke-width="0.08">4</text>
<line x1="559.5" y1="144.3" x2="562.5" y2="144.3" stroke="#111" stroke-width="1"/>
<text x="558.60" y="144.30" font-size="7.8" text-anchor="middle" font-weight="bold" stroke="#111" stroke-width="0.08" transform="rotate(-90 558.60 144.30)">−6</text>
<line x1="559.5" y1="126.1" x2="562.5" y2="126.1" stroke="#111" stroke-width="1"/>
<text x="558.60" y="126.10" font-size="7.8" text-anchor="middle" font-weight="bold" stroke="#111" stroke-width="0.08" transform="rotate(-90 558.60 126.10)">−4</text>
<line x1="559.5" y1="107.9" x2="562.5" y2="107.9" stroke="#111" stroke-width="1"/>
<text x="558.60" y="107.90" font-size="7.8" text-anchor="middle" font-weight="bold" stroke="#111" stroke-width="0.08" transform="rotate(-90 558.60 107.90)">−2</text>
<line x1="559.5" y1="89.7" x2="562.5" y2="89.7" stroke="#111" stroke-width="1"/>
<text x="558.60" y="89.70" font-size="7.8" text-anchor="middle" font-weight="bold" stroke="#111" stroke-width="0.08" transform="rotate(-90 558.60 89.70)">0</text>
<line x1="559.5" y1="71.5" x2="562.5" y2="71.5" stroke="#111" stroke-width="1"/>
<text x="558.60" y="71.50" font-size="7.8" text-anchor="middle" font-weight="bold" stroke="#111" stroke-width="0.08" transform="rotate(-90 558.60 71.50)">2</text>
<line x1="559.5" y1="53.3" x2="562.5" y2="53.3" stroke="#111" stroke-width="1"/>
<text x="558.60" y="53.30" font-size="7.8" text-anchor="middle" font-weight="bold" stroke="#111" stroke-width="0.08" transform="rotate(-90 558.60 53.30)">4</text>
<line x1="559.5" y1="35.1" x2="562.5" y2="35.1" stroke="#111" stroke-width="1"/>
<text x="558.60" y="35.10" font-size="7.8" text-anchor="middle" font-weight="bold" stroke="#111" stroke-width="0.08" transform="rotate(-90 558.60 35.10)">6</text>
<text x="548.20" y="88.20" font-size="11.8" text-anchor="middle" textLength="92.5" lengthAdjust="spacingAndGlyphs" transform="rotate(-90 548.20 88.20)">Enrichment score</text>
<text x="624.00" y="174.00" font-size="11.8" text-anchor="middle" textLength="95.0" lengthAdjust="spacingAndGlyphs">Contribution score</text>
<circle cx="417.0" cy="17.1" r="3.4" fill="#f498a4" stroke="#4a181c" stroke-width="1.4"/>
<text x="422.80" y="20.50" font-size="10.8" textLength="38.3" lengthAdjust="spacingAndGlyphs">Induced</text>
<circle cx="472.8" cy="16.7" r="2.6" fill="#eea0a8"/>
<text x="478.30" y="20.50" font-size="10.8" textLength="59.0" lengthAdjust="spacingAndGlyphs">Non-induced</text>
<circle cx="570.0" cy="17.1" r="3.4" fill="#f498a4" stroke="#4a181c" stroke-width="1.4"/>
<text x="575.80" y="20.50" font-size="10.8" textLength="38.3" lengthAdjust="spacingAndGlyphs">Induced</text>
<circle cx="627.3" cy="16.7" r="2.6" fill="#eea0a8"/>
<text x="631.30" y="20.50" font-size="10.8" textLength="59.0" lengthAdjust="spacingAndGlyphs">Non-induced</text>
<text x="695.00" y="32.70" font-size="8.6" font-weight="bold" stroke="#111" stroke-width="0.09" textLength="40.0" lengthAdjust="spacingAndGlyphs">IP - Input</text>
<rect x="695" y="37" width="40" height="8.5" fill="url(#cbr)"/>
<text x="700.00" y="53.20" font-size="7.6" text-anchor="middle" font-weight="bold" stroke="#111" stroke-width="0.08">−4</text>
<text x="715.50" y="53.20" font-size="7.6" text-anchor="middle" font-weight="bold" stroke="#111" stroke-width="0.08">0</text>
<text x="731.00" y="53.20" font-size="7.6" text-anchor="middle" font-weight="bold" stroke="#111" stroke-width="0.08">4</text>
<text x="699.00" y="74.80" font-size="8.8" font-weight="bold" stroke="#111" stroke-width="0.09" textLength="31.0" lengthAdjust="spacingAndGlyphs">IP level</text>
<circle cx="706" cy="81.8" r="2.6" fill="#111"/>
<text x="711.50" y="85.20" font-size="9.6" stroke="#111" stroke-width=".2">15</text>
<circle cx="706" cy="93.5" r="2" fill="#111"/>
<text x="711.50" y="96.80" font-size="9.6" stroke="#111" stroke-width=".2">10</text>
<circle cx="706" cy="104.3" r="1.1" fill="#111"/>
<text x="713.00" y="107.80" font-size="9.6" stroke="#111" stroke-width=".2">5</text>
<rect x="42.75" y="221.30" width="14.6" height="119.50" fill="#c9213f" stroke="#8e1830" stroke-width=".8"/>
<rect x="61.25" y="246.30" width="14.6" height="94.50" fill="#c9213f" stroke="#8e1830" stroke-width=".8"/>
<rect x="79.60" y="259.30" width="14.6" height="81.50" fill="#c9213f" stroke="#8e1830" stroke-width=".8"/>
<rect x="98.00" y="267.30" width="14.6" height="73.50" fill="#c9213f" stroke="#8e1830" stroke-width=".8"/>
<rect x="116.60" y="292.50" width="14.6" height="48.30" fill="#c9213f" stroke="#8e1830" stroke-width=".8"/>
<rect x="135.00" y="325.80" width="14.6" height="15.00" fill="#c9213f" stroke="#8e1830" stroke-width=".8"/>
<rect x="153.50" y="333.00" width="14.6" height="7.80" fill="#c9213f" stroke="#8e1830" stroke-width=".8"/>
<rect x="40.2" y="215.6" width="130.6" height="125.2" fill="none" stroke="#111" stroke-width="1.1"/>
<line x1="50.0" y1="340.8" x2="50.0" y2="343.8" stroke="#111" stroke-width="1"/>
<text x="51.55" y="349.80" font-size="10" text-anchor="end" transform="rotate(-45 51.55 349.80)" stroke="#111" stroke-width=".22">SINE</text>
<line x1="68.5" y1="340.8" x2="68.5" y2="343.8" stroke="#111" stroke-width="1"/>
<text x="70.05" y="349.80" font-size="10" text-anchor="end" transform="rotate(-45 70.05 349.80)" stroke="#111" stroke-width=".22">LINE</text>
<line x1="86.9" y1="340.8" x2="86.9" y2="343.8" stroke="#111" stroke-width="1"/>
<text x="88.40" y="349.80" font-size="10" text-anchor="end" transform="rotate(-45 88.40 349.80)" stroke="#111" stroke-width=".22">LTR</text>
<line x1="105.3" y1="340.8" x2="105.3" y2="343.8" stroke="#111" stroke-width="1"/>
<text x="106.80" y="349.80" font-size="10" text-anchor="end" transform="rotate(-45 106.80 349.80)" stroke="#111" stroke-width=".22">DNA</text>
<line x1="123.9" y1="340.8" x2="123.9" y2="343.8" stroke="#111" stroke-width="1"/>
<text x="125.40" y="349.80" font-size="10" text-anchor="end" transform="rotate(-45 125.40 349.80)" stroke="#111" stroke-width=".22">Satellite</text>
<line x1="142.3" y1="340.8" x2="142.3" y2="343.8" stroke="#111" stroke-width="1"/>
<text x="143.80" y="349.80" font-size="10" text-anchor="end" transform="rotate(-45 143.80 349.80)" stroke="#111" stroke-width=".22">tRNA</text>
<line x1="160.8" y1="340.8" x2="160.8" y2="343.8" stroke="#111" stroke-width="1"/>
<text x="162.30" y="349.80" font-size="10" text-anchor="end" transform="rotate(-45 162.30 349.80)" stroke="#111" stroke-width=".22">Simple repeat</text>
<line x1="37.7" y1="227.5" x2="40.2" y2="227.5" stroke="#111" stroke-width="1"/>
<text x="37.30" y="230.90" font-size="9.8" text-anchor="end">0.7</text>
<line x1="37.7" y1="244.2" x2="40.2" y2="244.2" stroke="#111" stroke-width="1"/>
<text x="37.30" y="247.60" font-size="9.8" text-anchor="end">0.6</text>
<line x1="37.7" y1="260.4" x2="40.2" y2="260.4" stroke="#111" stroke-width="1"/>
<text x="37.30" y="263.80" font-size="9.8" text-anchor="end">0.5</text>
<line x1="37.7" y1="276.3" x2="40.2" y2="276.3" stroke="#111" stroke-width="1"/>
<text x="37.30" y="279.70" font-size="9.8" text-anchor="end">0.4</text>
<line x1="37.7" y1="292.2" x2="40.2" y2="292.2" stroke="#111" stroke-width="1"/>
<text x="37.30" y="295.60" font-size="9.8" text-anchor="end">0.3</text>
<line x1="37.7" y1="308.3" x2="40.2" y2="308.3" stroke="#111" stroke-width="1"/>
<text x="37.30" y="311.70" font-size="9.8" text-anchor="end">0.2</text>
<line x1="37.7" y1="324.3" x2="40.2" y2="324.3" stroke="#111" stroke-width="1"/>
<text x="37.30" y="327.70" font-size="9.8" text-anchor="end">0.1</text>
<line x1="37.7" y1="340.3" x2="40.2" y2="340.3" stroke="#111" stroke-width="1"/>
<text x="38.10" y="342.40" font-size="9.8" text-anchor="end">0.0</text>
<text x="21.30" y="276.30" font-size="12" text-anchor="middle" textLength="99.0" lengthAdjust="spacingAndGlyphs" transform="rotate(-90 21.30 276.30)">RepeatMasker (%)</text>
<text x="48.20" y="212.20" font-size="11.8" textLength="113.5" lengthAdjust="spacingAndGlyphs">siEPIC1-induced REs</text>
<rect x="223.40" y="221.60" width="14.4" height="118.80" fill="#f5b32e" stroke="#e09a18" stroke-width=".8"/>
<rect x="241.80" y="224.20" width="14.4" height="116.20" fill="#f5b32e" stroke="#e09a18" stroke-width=".8"/>
<rect x="259.90" y="242.20" width="14.4" height="98.20" fill="#f5b32e" stroke="#e09a18" stroke-width=".8"/>
<rect x="278.30" y="253.80" width="14.4" height="86.60" fill="#f5b32e" stroke="#e09a18" stroke-width=".8"/>
<rect x="296.90" y="324.30" width="14.4" height="16.10" fill="#f5b32e" stroke="#e09a18" stroke-width=".8"/>
<rect x="315.40" y="332.00" width="14.4" height="8.40" fill="#f5b32e" stroke="#e09a18" stroke-width=".8"/>
<rect x="333.60" y="333.40" width="14.4" height="7.00" fill="#f5b32e" stroke="#e09a18" stroke-width=".8"/>
<rect x="221.8" y="215.9" width="128.2" height="124.5" fill="none" stroke="#111" stroke-width="1.1"/>
<line x1="230.6" y1="340.4" x2="230.6" y2="343.4" stroke="#111" stroke-width="1"/>
<text x="232.10" y="349.40" font-size="10" text-anchor="end" transform="rotate(-45 232.10 349.40)" stroke="#111" stroke-width=".22">LINE</text>
<line x1="249.0" y1="340.4" x2="249.0" y2="343.4" stroke="#111" stroke-width="1"/>
<text x="250.50" y="349.40" font-size="10" text-anchor="end" transform="rotate(-45 250.50 349.40)" stroke="#111" stroke-width=".22">SINE</text>
<line x1="267.1" y1="340.4" x2="267.1" y2="343.4" stroke="#111" stroke-width="1"/>
<text x="268.60" y="349.40" font-size="10" text-anchor="end" transform="rotate(-45 268.60 349.40)" stroke="#111" stroke-width=".22">LTR</text>
<line x1="285.5" y1="340.4" x2="285.5" y2="343.4" stroke="#111" stroke-width="1"/>
<text x="287.00" y="349.40" font-size="10" text-anchor="end" transform="rotate(-45 287.00 349.40)" stroke="#111" stroke-width=".22">DNA</text>
<line x1="304.1" y1="340.4" x2="304.1" y2="343.4" stroke="#111" stroke-width="1"/>
<text x="305.60" y="349.40" font-size="10" text-anchor="end" transform="rotate(-45 305.60 349.40)" stroke="#111" stroke-width=".22">Satellite</text>
<line x1="322.6" y1="340.4" x2="322.6" y2="343.4" stroke="#111" stroke-width="1"/>
<text x="324.10" y="349.40" font-size="10" text-anchor="end" transform="rotate(-45 324.10 349.40)" stroke="#111" stroke-width=".22">tRNA</text>
<line x1="340.8" y1="340.4" x2="340.8" y2="343.4" stroke="#111" stroke-width="1"/>
<text x="342.30" y="349.40" font-size="10" text-anchor="end" transform="rotate(-45 342.30 349.40)" stroke="#111" stroke-width=".22">Simple repeat</text>
<line x1="219.3" y1="233.2" x2="221.8" y2="233.2" stroke="#111" stroke-width="1"/>
<text x="218.90" y="236.60" font-size="9.8" text-anchor="end">0.6</text>
<line x1="219.3" y1="250.8" x2="221.8" y2="250.8" stroke="#111" stroke-width="1"/>
<text x="218.90" y="254.20" font-size="9.8" text-anchor="end">0.5</text>
<line x1="219.3" y1="268.7" x2="221.8" y2="268.7" stroke="#111" stroke-width="1"/>
<text x="218.90" y="272.10" font-size="9.8" text-anchor="end">0.4</text>
<line x1="219.3" y1="286.5" x2="221.8" y2="286.5" stroke="#111" stroke-width="1"/>
<text x="218.90" y="289.90" font-size="9.8" text-anchor="end">0.3</text>
<line x1="219.3" y1="304.3" x2="221.8" y2="304.3" stroke="#111" stroke-width="1"/>
<text x="218.90" y="307.70" font-size="9.8" text-anchor="end">0.2</text>
<line x1="219.3" y1="322.2" x2="221.8" y2="322.2" stroke="#111" stroke-width="1"/>
<text x="218.90" y="325.60" font-size="9.8" text-anchor="end">0.1</text>
<line x1="219.3" y1="340.0" x2="221.8" y2="340.0" stroke="#111" stroke-width="1"/>
<text x="219.70" y="342.10" font-size="9.8" text-anchor="end">0.0</text>
<text x="201.50" y="275.70" font-size="12" text-anchor="middle" textLength="98.0" lengthAdjust="spacingAndGlyphs" transform="rotate(-90 201.50 275.70)">RepeatMasker (%)</text>
<text x="228.80" y="212.50" font-size="11.8" textLength="109.0" lengthAdjust="spacingAndGlyphs">siEZH2-induced REs</text>
<clipPath id="v1"><circle cx="474.5" cy="292.9" r="52.1"/></clipPath>
<circle cx="474.5" cy="292.9" r="52.1" fill="#ef8e9a"/>
<circle cx="507.2" cy="295.9" r="50.9" fill="#fbe3a4" stroke="#e8cf98" stroke-width=".6"/>
<circle cx="507.2" cy="295.9" r="50.9" fill="#fbbf9f" clip-path="url(#v1)"/>
<text x="381.40" y="235.00" font-size="11.6" font-weight="bold" stroke="#111" stroke-width="0.19" textLength="118.9" lengthAdjust="spacingAndGlyphs">siEPIC1-induced REs</text>
<line x1="451.7" y1="238" x2="451.7" y2="258.6" stroke="#111" stroke-width="1"/><circle cx="451.7" cy="258.8" r="1.6" fill="#111"/>
<line x1="533.2" y1="329" x2="533.2" y2="350.6" stroke="#111" stroke-width="1"/><circle cx="533.2" cy="328.9" r="1.6" fill="#111"/>
<text x="466.80" y="362.80" font-size="11.9" font-weight="bold" stroke="#111" stroke-width="0.19" textLength="115.8" lengthAdjust="spacingAndGlyphs">siEZH2-induced REs</text>
<text x="438.50" y="299.30" font-size="12" text-anchor="middle">554</text>
<text x="491.00" y="299.30" font-size="12" text-anchor="middle">769</text>
<text x="541.30" y="299.30" font-size="12" text-anchor="middle">467</text>
<clipPath id="v2"><circle cx="614" cy="259.4" r="25.6"/></clipPath>
<circle cx="614" cy="259.4" r="25.6" fill="#ef8e9a"/>
<circle cx="638.2" cy="259.3" r="21.6" fill="#fbe3a4" stroke="#e8cf98" stroke-width=".6"/>
<circle cx="638.2" cy="259.3" r="21.6" fill="#fbbf9f" clip-path="url(#v2)"/>
<clipPath id="v3"><circle cx="696.9" cy="258.6" r="24.5"/></clipPath>
<circle cx="696.9" cy="258.6" r="24.5" fill="#ef8e9a"/>
<circle cx="708.6" cy="258.5" r="25.9" fill="#fbe3a4" stroke="#e8cf98" stroke-width=".6"/>
<circle cx="708.6" cy="258.5" r="25.9" fill="#fbbf9f" clip-path="url(#v3)"/>
<clipPath id="v4"><circle cx="616.5" cy="338.6" r="25.4"/></clipPath>
<circle cx="616.5" cy="338.6" r="25.4" fill="#ef8e9a"/>
<circle cx="632.7" cy="338.5" r="24.1" fill="#fbe3a4" stroke="#e8cf98" stroke-width=".6"/>
<circle cx="632.7" cy="338.5" r="24.1" fill="#fbbf9f" clip-path="url(#v4)"/>
<clipPath id="v5"><circle cx="699.7" cy="339.3" r="24.1"/></clipPath>
<circle cx="699.7" cy="339.3" r="24.1" fill="#ef8e9a"/>
<circle cx="704.5" cy="337.8" r="24.3" fill="#fbe3a4" stroke="#e8cf98" stroke-width=".6"/>
<circle cx="704.5" cy="337.8" r="24.3" fill="#fbbf9f" clip-path="url(#v5)"/>
<text x="587.10" y="229.80" font-size="11.6" font-weight="bold" stroke="#111" stroke-width="0.19" textLength="76.8" lengthAdjust="spacingAndGlyphs">Simple repeat</text>
<text x="690.80" y="229.80" font-size="11.6" font-weight="bold" stroke="#111" stroke-width="0.19" textLength="26.8" lengthAdjust="spacingAndGlyphs">LINE</text>
<text x="615.40" y="310.30" font-size="11.6" font-weight="bold" stroke="#111" stroke-width="0.19" textLength="19.8" lengthAdjust="spacingAndGlyphs">LTR</text>
<text x="688.00" y="310.30" font-size="11.6" font-weight="bold" stroke="#111" stroke-width="0.19" textLength="27.0" lengthAdjust="spacingAndGlyphs">SINE</text>
<text x="602.30" y="261.90" font-size="9.5" text-anchor="middle" stroke="#111" stroke-width=".3">385</text>
<text x="625.50" y="261.90" font-size="9.5" text-anchor="middle" stroke="#111" stroke-width=".3">285</text>
<text x="648.20" y="261.90" font-size="9.5" text-anchor="middle" stroke="#111" stroke-width=".3">276</text>
<text x="677.40" y="261.90" font-size="9.5" text-anchor="middle" stroke="#111" stroke-width=".3">16</text>
<text x="703.30" y="261.90" font-size="9.5" text-anchor="middle" stroke="#111" stroke-width=".3">94</text>
<text x="730.00" y="261.90" font-size="9.5" text-anchor="middle" stroke="#111" stroke-width=".3">29</text>
<text x="600.00" y="341.20" font-size="9.5" text-anchor="middle" stroke="#111" stroke-width=".3">89</text>
<text x="624.60" y="341.20" font-size="9.5" text-anchor="middle" stroke="#111" stroke-width=".3">218</text>
<text x="649.30" y="341.20" font-size="9.5" text-anchor="middle" stroke="#111" stroke-width=".3">110</text>
<text x="678.00" y="341.20" font-size="9.5" text-anchor="middle" stroke="#111" stroke-width=".3">8</text>
<text x="703.50" y="341.20" font-size="9.5" text-anchor="middle" stroke="#111" stroke-width=".3">39</text>
<text x="728.60" y="341.20" font-size="9.5" text-anchor="middle" stroke="#111" stroke-width=".3">2</text>
<rect x="22.5" y="411" width="10" height="10" fill="#8a2be2"/>
<text x="36.00" y="419.30" font-size="11.8" textLength="83.5" lengthAdjust="spacingAndGlyphs">Induced by both</text>
<rect x="139.5" y="411" width="10.5" height="10" fill="#d81830"/>
<text x="152.50" y="419.30" font-size="11.8" textLength="104.0" lengthAdjust="spacingAndGlyphs">Induced by siEPIC1</text>
<rect x="267.5" y="411" width="11" height="10" fill="#f5b32e"/>
<text x="281.00" y="419.30" font-size="11.8" textLength="100.0" lengthAdjust="spacingAndGlyphs">Induced by siEZH2</text>
<rect x="446.3" y="411" width="7.5" height="10" fill="#fdeef0" stroke="#c8384c" stroke-width="1"/>
<text x="457.00" y="419.00" font-size="11.8" textLength="103.5" lengthAdjust="spacingAndGlyphs">Induced by siEPIC1</text>
<rect x="576" y="411" width="8" height="10" fill="#fffbe8" stroke="#e8c040" stroke-width="1"/>
<text x="587.00" y="419.00" font-size="11.8" textLength="101.0" lengthAdjust="spacingAndGlyphs">Induced by siEZH2</text>
</svg></body></html>
